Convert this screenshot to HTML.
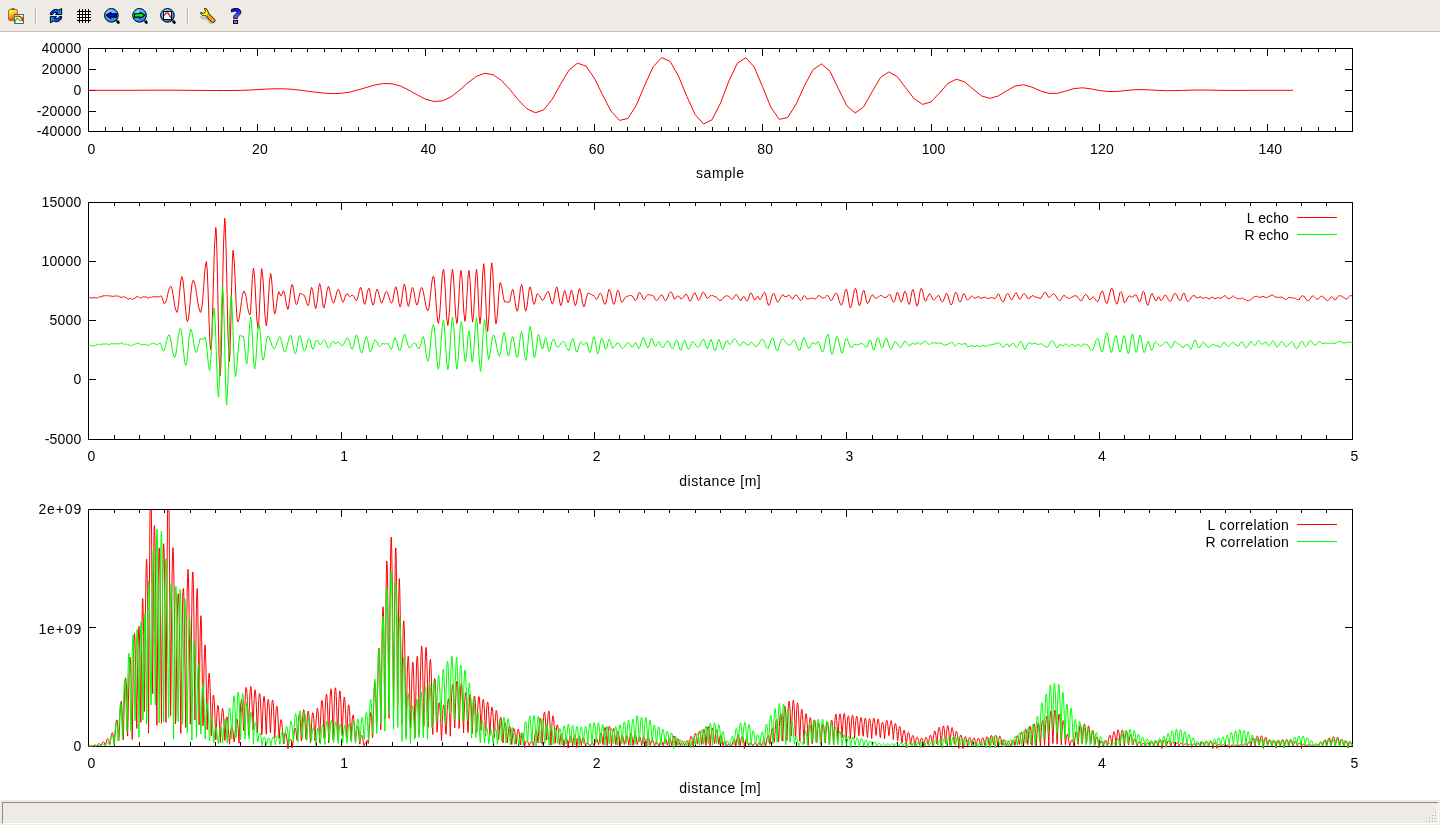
<!DOCTYPE html>
<html><head><meta charset="utf-8"><title>Gnuplot</title>
<style>
html,body{margin:0;padding:0;background:#fff;width:1440px;height:825px;overflow:hidden;font-family:"Liberation Sans",sans-serif;}
#tb{position:absolute;left:0;top:0;width:1440px;height:31px;background:#eeebe7;border-bottom:1px solid #c9bcb1;}
#tb svg{position:absolute;left:0;top:0;}
#sb{position:absolute;left:0;top:800px;width:1440px;height:25px;background:#eeebe7;}
#sbin{position:absolute;left:2px;top:2px;width:1437px;height:22px;border-top:1px solid #8f8b85;border-left:1px solid #8f8b85;border-bottom:1px solid #fff;border-right:1px solid #fff;box-sizing:border-box;}
#plot{position:absolute;left:0;top:0;will-change:transform;}
</style></head><body>
<div id="tb"><svg width="260" height="31" viewBox="0 0 260 31">
<defs>
<linearGradient id="gclip" x1="0" y1="0" x2="0.35" y2="1"><stop offset="0" stop-color="#ffff40"/><stop offset="0.35" stop-color="#ffe828"/><stop offset="1" stop-color="#d85000"/></linearGradient>
<radialGradient id="glens" cx="0.4" cy="0.3" r="0.75"><stop offset="0" stop-color="#9adcff"/><stop offset="0.55" stop-color="#3aa8ff"/><stop offset="1" stop-color="#1078e8"/></radialGradient>
<linearGradient id="gref" x1="0" y1="0" x2="1" y2="0"><stop offset="0" stop-color="#0028e0"/><stop offset="0.6" stop-color="#0060ff"/><stop offset="1" stop-color="#00a8ff"/></linearGradient>
<linearGradient id="gref2" x1="1" y1="0" x2="0" y2="0"><stop offset="0" stop-color="#0028e0"/><stop offset="0.6" stop-color="#0060ff"/><stop offset="1" stop-color="#00b0ff"/></linearGradient>
<linearGradient id="gq" x1="0" y1="0" x2="0" y2="1"><stop offset="0" stop-color="#0000ff"/><stop offset="0.5" stop-color="#3838ff"/><stop offset="1" stop-color="#7070ff"/></linearGradient>
</defs>
<!-- clipboard + plot -->
<g>
<rect x="8.6" y="9.4" width="8.8" height="11.2" rx="1.6" fill="url(#gclip)" stroke="#8a6418" stroke-width="0.9"/>
<rect x="11.3" y="8.0" width="3.4" height="2.2" rx="1" fill="#6e6e6e"/>
<rect x="14.5" y="14.5" width="9" height="9" fill="#fff" stroke="#555" stroke-width="0.9"/>
<path d="M15.3 22.6 C15.8 19.5 16.2 18.0 17.3 18.1 C18.5 18.2 19.2 20.8 20.6 20.7 C22.0 20.6 22.4 18.2 23.2 16.6" fill="none" stroke="#00e000" stroke-width="1.2"/>
<path d="M15.2 16.4 C17.5 16.0 19.5 15.9 20.6 17.0 C21.9 18.3 22.7 20.2 23.3 21.6" fill="none" stroke="#ff0000" stroke-width="1.2"/>
</g>
<!-- separator -->
<rect x="35" y="7" width="1" height="17" fill="#c4b5a8"/><rect x="36" y="7" width="1" height="17" fill="#fbfaf9"/>
<!-- refresh -->
<g stroke="#000" stroke-width="1" stroke-linejoin="round">
<path d="M50.2 14.6 C50.6 10.6 54.2 8.8 57.4 9.6 L58.6 10.1 L61.6 8.6 L61.7 14.6 L55.4 14.5 L57.6 12.7 C55.6 11.9 53.6 12.6 52.6 14.6 Z" fill="url(#gref)"/>
<path d="M61.8 16.6 C61.4 20.6 57.8 22.4 54.6 21.6 L53.4 21.1 L50.4 22.8 L50.3 16.6 L56.6 16.7 L54.4 18.5 C56.4 19.3 58.4 18.6 59.4 16.6 Z" fill="url(#gref2)"/>
</g>
<!-- grid -->
<g>
<rect x="79" y="11" width="10" height="10" fill="#fff"/>
<g fill="#000">
<rect x="79" y="9" width="1" height="14"/><rect x="82" y="9" width="1" height="14"/><rect x="85" y="9" width="1" height="14"/><rect x="88" y="9" width="1" height="14"/>
<rect x="77" y="11" width="14" height="1"/><rect x="77" y="14" width="14" height="1"/><rect x="77" y="17" width="14" height="1"/><rect x="77" y="20" width="14" height="1"/>
</g></g>
<!-- zoom previous -->
<g>
<path d="M117.0 21.0 L118.4 22.4" stroke="#000" stroke-width="2.8" stroke-linecap="round"/>
<circle cx="111.4" cy="15.35" r="7.9" fill="none" stroke="#fff" stroke-opacity="0.55" stroke-width="0.9"/>
<circle cx="111.4" cy="15.35" r="6.85" fill="url(#glens)" stroke="#000" stroke-width="1"/>
<path d="M106.3 15.3 L110.9 12.3 L110.9 13.7 L116.6 13.7 L116.6 17.1 L110.9 17.1 L110.9 18.4 Z" fill="#0000ff" stroke="#000" stroke-width="1.15" stroke-linejoin="round"/>
</g>
<!-- zoom next -->
<g>
<path d="M145.1 21.0 L146.4 22.4" stroke="#000" stroke-width="2.8" stroke-linecap="round"/>
<circle cx="139.5" cy="15.35" r="7.9" fill="none" stroke="#fff" stroke-opacity="0.55" stroke-width="0.9"/>
<circle cx="139.5" cy="15.35" r="6.85" fill="url(#glens)" stroke="#000" stroke-width="1"/>
<path d="M144.8 15.3 L140.0 12.3 L140.0 13.7 L134.5 13.7 L134.5 17.1 L140.0 17.1 L140.0 18.4 Z" fill="#00ff00" stroke="#000" stroke-width="1.15" stroke-linejoin="round"/>
</g>
<!-- autoscale -->
<g>
<path d="M173.0 21.0 L174.4 22.4" stroke="#000" stroke-width="2.8" stroke-linecap="round"/>
<circle cx="167.45" cy="15.35" r="7.9" fill="none" stroke="#fff" stroke-opacity="0.55" stroke-width="0.9"/>
<circle cx="167.45" cy="15.35" r="6.85" fill="url(#glens)" stroke="#000" stroke-width="1"/>
<rect x="163.5" y="11.5" width="8" height="8" fill="#fff" stroke="#000" stroke-width="1"/>
<path d="M164.1 15.5 C165.0 15.4 165.2 13.1 166.2 13.0 L168.0 13.0 C169.2 13.1 169.0 16.8 171.0 17.6" fill="none" stroke="#ff1010" stroke-width="1.4"/>
</g>
<!-- separator -->
<rect x="187" y="7" width="1" height="17" fill="#c4b5a8"/><rect x="188" y="7" width="1" height="17" fill="#fbfaf9"/>
<!-- wrench -->
<g>
<path d="M201.0 17.0 C202.5 18.6 204.6 18.6 206.2 18.0 L210.6 23.0" fill="none" stroke="#b8b0a0" stroke-width="2.6" stroke-linecap="round" opacity="0.75"/>
<path d="M204.4 8.5 C206.6 8.4 208.4 10.2 208.2 12.9 L214.6 19.4 C215.4 20.4 215.0 21.6 214.2 22.2 C213.4 22.8 212.2 22.8 211.5 22.0 L205.6 15.6 C203.4 16.2 201.2 15.2 200.6 12.6 L203.2 13.4 C204.6 13.2 205.6 12.0 205.4 10.4 Z" fill="#ffa000" stroke="#000" stroke-width="0.9" stroke-linejoin="round"/>
<path d="M204.8 9.2 C206.4 9.4 207.6 10.8 207.5 12.9 L208.0 13.6 L206.0 15.0 C203.9 15.6 202.0 14.9 201.4 13.4 L203.3 14.0 C205.0 13.8 206.2 12.2 206.0 10.5 Z" fill="#ffff10"/>
</g>
<!-- help -->
<g>
<path d="M231.4 12.0 L231.4 9.4 C233.0 8.7 234.6 8.4 236.2 8.4 C239.0 8.4 240.8 9.8 240.8 12.0 C240.8 13.6 240.0 14.6 238.6 15.7 C237.6 16.5 237.4 16.9 237.4 18.0 L237.4 18.6 L233.6 18.6 L233.6 17.6 C233.6 16.0 234.2 15.2 235.6 14.1 C236.6 13.3 236.9 12.9 236.9 12.2 C236.9 11.5 236.3 11.1 235.4 11.1 C234.2 11.1 232.8 11.5 231.4 12.0 Z" fill="url(#gq)" stroke="#000" stroke-width="0.9" stroke-linejoin="round"/>
<rect x="233.5" y="20.5" width="4.1" height="3" fill="#7878ff" stroke="#000" stroke-width="0.9"/>
</g>
</svg>
</div>
<svg id="plot" width="1440" height="825" viewBox="0 0 1440 825" font-family="'Liberation Sans', sans-serif" fill="#000">
<rect x="88.5" y="48.5" width="1264.0" height="83.0" fill="none" stroke="#000" stroke-width="1"/>
<line x1="257.50" y1="131.50" x2="257.50" y2="124.00" stroke="#000" stroke-width="1"/>
<line x1="257.50" y1="48.50" x2="257.50" y2="56.00" stroke="#000" stroke-width="1"/>
<line x1="425.50" y1="131.50" x2="425.50" y2="124.00" stroke="#000" stroke-width="1"/>
<line x1="425.50" y1="48.50" x2="425.50" y2="56.00" stroke="#000" stroke-width="1"/>
<line x1="594.50" y1="131.50" x2="594.50" y2="124.00" stroke="#000" stroke-width="1"/>
<line x1="594.50" y1="48.50" x2="594.50" y2="56.00" stroke="#000" stroke-width="1"/>
<line x1="762.50" y1="131.50" x2="762.50" y2="124.00" stroke="#000" stroke-width="1"/>
<line x1="762.50" y1="48.50" x2="762.50" y2="56.00" stroke="#000" stroke-width="1"/>
<line x1="931.50" y1="131.50" x2="931.50" y2="124.00" stroke="#000" stroke-width="1"/>
<line x1="931.50" y1="48.50" x2="931.50" y2="56.00" stroke="#000" stroke-width="1"/>
<line x1="1099.50" y1="131.50" x2="1099.50" y2="124.00" stroke="#000" stroke-width="1"/>
<line x1="1099.50" y1="48.50" x2="1099.50" y2="56.00" stroke="#000" stroke-width="1"/>
<line x1="1267.50" y1="131.50" x2="1267.50" y2="124.00" stroke="#000" stroke-width="1"/>
<line x1="1267.50" y1="48.50" x2="1267.50" y2="56.00" stroke="#000" stroke-width="1"/>
<line x1="105.50" y1="131.50" x2="105.50" y2="127.00" stroke="#000" stroke-width="1"/>
<line x1="105.50" y1="48.50" x2="105.50" y2="52.00" stroke="#000" stroke-width="1"/>
<line x1="122.50" y1="131.50" x2="122.50" y2="127.00" stroke="#000" stroke-width="1"/>
<line x1="122.50" y1="48.50" x2="122.50" y2="52.00" stroke="#000" stroke-width="1"/>
<line x1="139.50" y1="131.50" x2="139.50" y2="127.00" stroke="#000" stroke-width="1"/>
<line x1="139.50" y1="48.50" x2="139.50" y2="52.00" stroke="#000" stroke-width="1"/>
<line x1="156.50" y1="131.50" x2="156.50" y2="127.00" stroke="#000" stroke-width="1"/>
<line x1="156.50" y1="48.50" x2="156.50" y2="52.00" stroke="#000" stroke-width="1"/>
<line x1="173.50" y1="131.50" x2="173.50" y2="127.00" stroke="#000" stroke-width="1"/>
<line x1="173.50" y1="48.50" x2="173.50" y2="52.00" stroke="#000" stroke-width="1"/>
<line x1="190.50" y1="131.50" x2="190.50" y2="127.00" stroke="#000" stroke-width="1"/>
<line x1="190.50" y1="48.50" x2="190.50" y2="52.00" stroke="#000" stroke-width="1"/>
<line x1="206.50" y1="131.50" x2="206.50" y2="127.00" stroke="#000" stroke-width="1"/>
<line x1="206.50" y1="48.50" x2="206.50" y2="52.00" stroke="#000" stroke-width="1"/>
<line x1="223.50" y1="131.50" x2="223.50" y2="127.00" stroke="#000" stroke-width="1"/>
<line x1="223.50" y1="48.50" x2="223.50" y2="52.00" stroke="#000" stroke-width="1"/>
<line x1="240.50" y1="131.50" x2="240.50" y2="127.00" stroke="#000" stroke-width="1"/>
<line x1="240.50" y1="48.50" x2="240.50" y2="52.00" stroke="#000" stroke-width="1"/>
<line x1="274.50" y1="131.50" x2="274.50" y2="127.00" stroke="#000" stroke-width="1"/>
<line x1="274.50" y1="48.50" x2="274.50" y2="52.00" stroke="#000" stroke-width="1"/>
<line x1="291.50" y1="131.50" x2="291.50" y2="127.00" stroke="#000" stroke-width="1"/>
<line x1="291.50" y1="48.50" x2="291.50" y2="52.00" stroke="#000" stroke-width="1"/>
<line x1="307.50" y1="131.50" x2="307.50" y2="127.00" stroke="#000" stroke-width="1"/>
<line x1="307.50" y1="48.50" x2="307.50" y2="52.00" stroke="#000" stroke-width="1"/>
<line x1="324.50" y1="131.50" x2="324.50" y2="127.00" stroke="#000" stroke-width="1"/>
<line x1="324.50" y1="48.50" x2="324.50" y2="52.00" stroke="#000" stroke-width="1"/>
<line x1="341.50" y1="131.50" x2="341.50" y2="127.00" stroke="#000" stroke-width="1"/>
<line x1="341.50" y1="48.50" x2="341.50" y2="52.00" stroke="#000" stroke-width="1"/>
<line x1="358.50" y1="131.50" x2="358.50" y2="127.00" stroke="#000" stroke-width="1"/>
<line x1="358.50" y1="48.50" x2="358.50" y2="52.00" stroke="#000" stroke-width="1"/>
<line x1="375.50" y1="131.50" x2="375.50" y2="127.00" stroke="#000" stroke-width="1"/>
<line x1="375.50" y1="48.50" x2="375.50" y2="52.00" stroke="#000" stroke-width="1"/>
<line x1="392.50" y1="131.50" x2="392.50" y2="127.00" stroke="#000" stroke-width="1"/>
<line x1="392.50" y1="48.50" x2="392.50" y2="52.00" stroke="#000" stroke-width="1"/>
<line x1="408.50" y1="131.50" x2="408.50" y2="127.00" stroke="#000" stroke-width="1"/>
<line x1="408.50" y1="48.50" x2="408.50" y2="52.00" stroke="#000" stroke-width="1"/>
<line x1="442.50" y1="131.50" x2="442.50" y2="127.00" stroke="#000" stroke-width="1"/>
<line x1="442.50" y1="48.50" x2="442.50" y2="52.00" stroke="#000" stroke-width="1"/>
<line x1="459.50" y1="131.50" x2="459.50" y2="127.00" stroke="#000" stroke-width="1"/>
<line x1="459.50" y1="48.50" x2="459.50" y2="52.00" stroke="#000" stroke-width="1"/>
<line x1="476.50" y1="131.50" x2="476.50" y2="127.00" stroke="#000" stroke-width="1"/>
<line x1="476.50" y1="48.50" x2="476.50" y2="52.00" stroke="#000" stroke-width="1"/>
<line x1="493.50" y1="131.50" x2="493.50" y2="127.00" stroke="#000" stroke-width="1"/>
<line x1="493.50" y1="48.50" x2="493.50" y2="52.00" stroke="#000" stroke-width="1"/>
<line x1="510.50" y1="131.50" x2="510.50" y2="127.00" stroke="#000" stroke-width="1"/>
<line x1="510.50" y1="48.50" x2="510.50" y2="52.00" stroke="#000" stroke-width="1"/>
<line x1="526.50" y1="131.50" x2="526.50" y2="127.00" stroke="#000" stroke-width="1"/>
<line x1="526.50" y1="48.50" x2="526.50" y2="52.00" stroke="#000" stroke-width="1"/>
<line x1="543.50" y1="131.50" x2="543.50" y2="127.00" stroke="#000" stroke-width="1"/>
<line x1="543.50" y1="48.50" x2="543.50" y2="52.00" stroke="#000" stroke-width="1"/>
<line x1="560.50" y1="131.50" x2="560.50" y2="127.00" stroke="#000" stroke-width="1"/>
<line x1="560.50" y1="48.50" x2="560.50" y2="52.00" stroke="#000" stroke-width="1"/>
<line x1="577.50" y1="131.50" x2="577.50" y2="127.00" stroke="#000" stroke-width="1"/>
<line x1="577.50" y1="48.50" x2="577.50" y2="52.00" stroke="#000" stroke-width="1"/>
<line x1="611.50" y1="131.50" x2="611.50" y2="127.00" stroke="#000" stroke-width="1"/>
<line x1="611.50" y1="48.50" x2="611.50" y2="52.00" stroke="#000" stroke-width="1"/>
<line x1="627.50" y1="131.50" x2="627.50" y2="127.00" stroke="#000" stroke-width="1"/>
<line x1="627.50" y1="48.50" x2="627.50" y2="52.00" stroke="#000" stroke-width="1"/>
<line x1="644.50" y1="131.50" x2="644.50" y2="127.00" stroke="#000" stroke-width="1"/>
<line x1="644.50" y1="48.50" x2="644.50" y2="52.00" stroke="#000" stroke-width="1"/>
<line x1="661.50" y1="131.50" x2="661.50" y2="127.00" stroke="#000" stroke-width="1"/>
<line x1="661.50" y1="48.50" x2="661.50" y2="52.00" stroke="#000" stroke-width="1"/>
<line x1="678.50" y1="131.50" x2="678.50" y2="127.00" stroke="#000" stroke-width="1"/>
<line x1="678.50" y1="48.50" x2="678.50" y2="52.00" stroke="#000" stroke-width="1"/>
<line x1="695.50" y1="131.50" x2="695.50" y2="127.00" stroke="#000" stroke-width="1"/>
<line x1="695.50" y1="48.50" x2="695.50" y2="52.00" stroke="#000" stroke-width="1"/>
<line x1="712.50" y1="131.50" x2="712.50" y2="127.00" stroke="#000" stroke-width="1"/>
<line x1="712.50" y1="48.50" x2="712.50" y2="52.00" stroke="#000" stroke-width="1"/>
<line x1="728.50" y1="131.50" x2="728.50" y2="127.00" stroke="#000" stroke-width="1"/>
<line x1="728.50" y1="48.50" x2="728.50" y2="52.00" stroke="#000" stroke-width="1"/>
<line x1="745.50" y1="131.50" x2="745.50" y2="127.00" stroke="#000" stroke-width="1"/>
<line x1="745.50" y1="48.50" x2="745.50" y2="52.00" stroke="#000" stroke-width="1"/>
<line x1="779.50" y1="131.50" x2="779.50" y2="127.00" stroke="#000" stroke-width="1"/>
<line x1="779.50" y1="48.50" x2="779.50" y2="52.00" stroke="#000" stroke-width="1"/>
<line x1="796.50" y1="131.50" x2="796.50" y2="127.00" stroke="#000" stroke-width="1"/>
<line x1="796.50" y1="48.50" x2="796.50" y2="52.00" stroke="#000" stroke-width="1"/>
<line x1="813.50" y1="131.50" x2="813.50" y2="127.00" stroke="#000" stroke-width="1"/>
<line x1="813.50" y1="48.50" x2="813.50" y2="52.00" stroke="#000" stroke-width="1"/>
<line x1="829.50" y1="131.50" x2="829.50" y2="127.00" stroke="#000" stroke-width="1"/>
<line x1="829.50" y1="48.50" x2="829.50" y2="52.00" stroke="#000" stroke-width="1"/>
<line x1="846.50" y1="131.50" x2="846.50" y2="127.00" stroke="#000" stroke-width="1"/>
<line x1="846.50" y1="48.50" x2="846.50" y2="52.00" stroke="#000" stroke-width="1"/>
<line x1="863.50" y1="131.50" x2="863.50" y2="127.00" stroke="#000" stroke-width="1"/>
<line x1="863.50" y1="48.50" x2="863.50" y2="52.00" stroke="#000" stroke-width="1"/>
<line x1="880.50" y1="131.50" x2="880.50" y2="127.00" stroke="#000" stroke-width="1"/>
<line x1="880.50" y1="48.50" x2="880.50" y2="52.00" stroke="#000" stroke-width="1"/>
<line x1="897.50" y1="131.50" x2="897.50" y2="127.00" stroke="#000" stroke-width="1"/>
<line x1="897.50" y1="48.50" x2="897.50" y2="52.00" stroke="#000" stroke-width="1"/>
<line x1="914.50" y1="131.50" x2="914.50" y2="127.00" stroke="#000" stroke-width="1"/>
<line x1="914.50" y1="48.50" x2="914.50" y2="52.00" stroke="#000" stroke-width="1"/>
<line x1="947.50" y1="131.50" x2="947.50" y2="127.00" stroke="#000" stroke-width="1"/>
<line x1="947.50" y1="48.50" x2="947.50" y2="52.00" stroke="#000" stroke-width="1"/>
<line x1="964.50" y1="131.50" x2="964.50" y2="127.00" stroke="#000" stroke-width="1"/>
<line x1="964.50" y1="48.50" x2="964.50" y2="52.00" stroke="#000" stroke-width="1"/>
<line x1="981.50" y1="131.50" x2="981.50" y2="127.00" stroke="#000" stroke-width="1"/>
<line x1="981.50" y1="48.50" x2="981.50" y2="52.00" stroke="#000" stroke-width="1"/>
<line x1="998.50" y1="131.50" x2="998.50" y2="127.00" stroke="#000" stroke-width="1"/>
<line x1="998.50" y1="48.50" x2="998.50" y2="52.00" stroke="#000" stroke-width="1"/>
<line x1="1015.50" y1="131.50" x2="1015.50" y2="127.00" stroke="#000" stroke-width="1"/>
<line x1="1015.50" y1="48.50" x2="1015.50" y2="52.00" stroke="#000" stroke-width="1"/>
<line x1="1032.50" y1="131.50" x2="1032.50" y2="127.00" stroke="#000" stroke-width="1"/>
<line x1="1032.50" y1="48.50" x2="1032.50" y2="52.00" stroke="#000" stroke-width="1"/>
<line x1="1048.50" y1="131.50" x2="1048.50" y2="127.00" stroke="#000" stroke-width="1"/>
<line x1="1048.50" y1="48.50" x2="1048.50" y2="52.00" stroke="#000" stroke-width="1"/>
<line x1="1065.50" y1="131.50" x2="1065.50" y2="127.00" stroke="#000" stroke-width="1"/>
<line x1="1065.50" y1="48.50" x2="1065.50" y2="52.00" stroke="#000" stroke-width="1"/>
<line x1="1082.50" y1="131.50" x2="1082.50" y2="127.00" stroke="#000" stroke-width="1"/>
<line x1="1082.50" y1="48.50" x2="1082.50" y2="52.00" stroke="#000" stroke-width="1"/>
<line x1="1116.50" y1="131.50" x2="1116.50" y2="127.00" stroke="#000" stroke-width="1"/>
<line x1="1116.50" y1="48.50" x2="1116.50" y2="52.00" stroke="#000" stroke-width="1"/>
<line x1="1133.50" y1="131.50" x2="1133.50" y2="127.00" stroke="#000" stroke-width="1"/>
<line x1="1133.50" y1="48.50" x2="1133.50" y2="52.00" stroke="#000" stroke-width="1"/>
<line x1="1149.50" y1="131.50" x2="1149.50" y2="127.00" stroke="#000" stroke-width="1"/>
<line x1="1149.50" y1="48.50" x2="1149.50" y2="52.00" stroke="#000" stroke-width="1"/>
<line x1="1166.50" y1="131.50" x2="1166.50" y2="127.00" stroke="#000" stroke-width="1"/>
<line x1="1166.50" y1="48.50" x2="1166.50" y2="52.00" stroke="#000" stroke-width="1"/>
<line x1="1183.50" y1="131.50" x2="1183.50" y2="127.00" stroke="#000" stroke-width="1"/>
<line x1="1183.50" y1="48.50" x2="1183.50" y2="52.00" stroke="#000" stroke-width="1"/>
<line x1="1200.50" y1="131.50" x2="1200.50" y2="127.00" stroke="#000" stroke-width="1"/>
<line x1="1200.50" y1="48.50" x2="1200.50" y2="52.00" stroke="#000" stroke-width="1"/>
<line x1="1217.50" y1="131.50" x2="1217.50" y2="127.00" stroke="#000" stroke-width="1"/>
<line x1="1217.50" y1="48.50" x2="1217.50" y2="52.00" stroke="#000" stroke-width="1"/>
<line x1="1234.50" y1="131.50" x2="1234.50" y2="127.00" stroke="#000" stroke-width="1"/>
<line x1="1234.50" y1="48.50" x2="1234.50" y2="52.00" stroke="#000" stroke-width="1"/>
<line x1="1250.50" y1="131.50" x2="1250.50" y2="127.00" stroke="#000" stroke-width="1"/>
<line x1="1250.50" y1="48.50" x2="1250.50" y2="52.00" stroke="#000" stroke-width="1"/>
<line x1="1284.50" y1="131.50" x2="1284.50" y2="127.00" stroke="#000" stroke-width="1"/>
<line x1="1284.50" y1="48.50" x2="1284.50" y2="52.00" stroke="#000" stroke-width="1"/>
<line x1="1301.50" y1="131.50" x2="1301.50" y2="127.00" stroke="#000" stroke-width="1"/>
<line x1="1301.50" y1="48.50" x2="1301.50" y2="52.00" stroke="#000" stroke-width="1"/>
<line x1="1318.50" y1="131.50" x2="1318.50" y2="127.00" stroke="#000" stroke-width="1"/>
<line x1="1318.50" y1="48.50" x2="1318.50" y2="52.00" stroke="#000" stroke-width="1"/>
<line x1="1335.50" y1="131.50" x2="1335.50" y2="127.00" stroke="#000" stroke-width="1"/>
<line x1="1335.50" y1="48.50" x2="1335.50" y2="52.00" stroke="#000" stroke-width="1"/>
<line x1="1352.50" y1="131.50" x2="1352.50" y2="127.00" stroke="#000" stroke-width="1"/>
<line x1="1352.50" y1="48.50" x2="1352.50" y2="52.00" stroke="#000" stroke-width="1"/>
<line x1="88.50" y1="69.50" x2="96.00" y2="69.50" stroke="#000" stroke-width="1"/>
<line x1="1352.50" y1="69.50" x2="1345.00" y2="69.50" stroke="#000" stroke-width="1"/>
<line x1="88.50" y1="90.50" x2="96.00" y2="90.50" stroke="#000" stroke-width="1"/>
<line x1="1352.50" y1="90.50" x2="1345.00" y2="90.50" stroke="#000" stroke-width="1"/>
<line x1="88.50" y1="111.50" x2="96.00" y2="111.50" stroke="#000" stroke-width="1"/>
<line x1="1352.50" y1="111.50" x2="1345.00" y2="111.50" stroke="#000" stroke-width="1"/>
<text x="91.58" y="154.40" text-anchor="middle" font-size="14" letter-spacing="0.15">0</text>
<text x="259.97" y="154.40" text-anchor="middle" font-size="14" letter-spacing="0.15">20</text>
<text x="428.38" y="154.40" text-anchor="middle" font-size="14" letter-spacing="0.15">40</text>
<text x="596.78" y="154.40" text-anchor="middle" font-size="14" letter-spacing="0.15">60</text>
<text x="765.18" y="154.40" text-anchor="middle" font-size="14" letter-spacing="0.15">80</text>
<text x="933.58" y="154.40" text-anchor="middle" font-size="14" letter-spacing="0.15">100</text>
<text x="1101.98" y="154.40" text-anchor="middle" font-size="14" letter-spacing="0.15">120</text>
<text x="1270.38" y="154.40" text-anchor="middle" font-size="14" letter-spacing="0.15">140</text>
<text x="81.50" y="53.10" text-anchor="end" font-size="14" letter-spacing="0.20">40000</text>
<text x="81.50" y="74.10" text-anchor="end" font-size="14" letter-spacing="0.20">20000</text>
<text x="81.50" y="95.10" text-anchor="end" font-size="14" letter-spacing="0.20">0</text>
<text x="81.50" y="116.10" text-anchor="end" font-size="14" letter-spacing="0.20">-20000</text>
<text x="81.50" y="136.10" text-anchor="end" font-size="14" letter-spacing="0.20">-40000</text>
<text x="720.27" y="178.10" text-anchor="middle" font-size="14" letter-spacing="0.55">sample</text>
<rect x="88.5" y="202.5" width="1264.0" height="237.0" fill="none" stroke="#000" stroke-width="1"/>
<line x1="341.50" y1="439.50" x2="341.50" y2="432.00" stroke="#000" stroke-width="1"/>
<line x1="341.50" y1="202.50" x2="341.50" y2="210.00" stroke="#000" stroke-width="1"/>
<line x1="594.50" y1="439.50" x2="594.50" y2="432.00" stroke="#000" stroke-width="1"/>
<line x1="594.50" y1="202.50" x2="594.50" y2="210.00" stroke="#000" stroke-width="1"/>
<line x1="846.50" y1="439.50" x2="846.50" y2="432.00" stroke="#000" stroke-width="1"/>
<line x1="846.50" y1="202.50" x2="846.50" y2="210.00" stroke="#000" stroke-width="1"/>
<line x1="1099.50" y1="439.50" x2="1099.50" y2="432.00" stroke="#000" stroke-width="1"/>
<line x1="1099.50" y1="202.50" x2="1099.50" y2="210.00" stroke="#000" stroke-width="1"/>
<line x1="114.50" y1="439.50" x2="114.50" y2="435.00" stroke="#000" stroke-width="1"/>
<line x1="114.50" y1="202.50" x2="114.50" y2="206.00" stroke="#000" stroke-width="1"/>
<line x1="139.50" y1="439.50" x2="139.50" y2="435.00" stroke="#000" stroke-width="1"/>
<line x1="139.50" y1="202.50" x2="139.50" y2="206.00" stroke="#000" stroke-width="1"/>
<line x1="164.50" y1="439.50" x2="164.50" y2="435.00" stroke="#000" stroke-width="1"/>
<line x1="164.50" y1="202.50" x2="164.50" y2="206.00" stroke="#000" stroke-width="1"/>
<line x1="190.50" y1="439.50" x2="190.50" y2="435.00" stroke="#000" stroke-width="1"/>
<line x1="190.50" y1="202.50" x2="190.50" y2="206.00" stroke="#000" stroke-width="1"/>
<line x1="215.50" y1="439.50" x2="215.50" y2="435.00" stroke="#000" stroke-width="1"/>
<line x1="215.50" y1="202.50" x2="215.50" y2="206.00" stroke="#000" stroke-width="1"/>
<line x1="240.50" y1="439.50" x2="240.50" y2="435.00" stroke="#000" stroke-width="1"/>
<line x1="240.50" y1="202.50" x2="240.50" y2="206.00" stroke="#000" stroke-width="1"/>
<line x1="265.50" y1="439.50" x2="265.50" y2="435.00" stroke="#000" stroke-width="1"/>
<line x1="265.50" y1="202.50" x2="265.50" y2="206.00" stroke="#000" stroke-width="1"/>
<line x1="291.50" y1="439.50" x2="291.50" y2="435.00" stroke="#000" stroke-width="1"/>
<line x1="291.50" y1="202.50" x2="291.50" y2="206.00" stroke="#000" stroke-width="1"/>
<line x1="316.50" y1="439.50" x2="316.50" y2="435.00" stroke="#000" stroke-width="1"/>
<line x1="316.50" y1="202.50" x2="316.50" y2="206.00" stroke="#000" stroke-width="1"/>
<line x1="366.50" y1="439.50" x2="366.50" y2="435.00" stroke="#000" stroke-width="1"/>
<line x1="366.50" y1="202.50" x2="366.50" y2="206.00" stroke="#000" stroke-width="1"/>
<line x1="392.50" y1="439.50" x2="392.50" y2="435.00" stroke="#000" stroke-width="1"/>
<line x1="392.50" y1="202.50" x2="392.50" y2="206.00" stroke="#000" stroke-width="1"/>
<line x1="417.50" y1="439.50" x2="417.50" y2="435.00" stroke="#000" stroke-width="1"/>
<line x1="417.50" y1="202.50" x2="417.50" y2="206.00" stroke="#000" stroke-width="1"/>
<line x1="442.50" y1="439.50" x2="442.50" y2="435.00" stroke="#000" stroke-width="1"/>
<line x1="442.50" y1="202.50" x2="442.50" y2="206.00" stroke="#000" stroke-width="1"/>
<line x1="467.50" y1="439.50" x2="467.50" y2="435.00" stroke="#000" stroke-width="1"/>
<line x1="467.50" y1="202.50" x2="467.50" y2="206.00" stroke="#000" stroke-width="1"/>
<line x1="493.50" y1="439.50" x2="493.50" y2="435.00" stroke="#000" stroke-width="1"/>
<line x1="493.50" y1="202.50" x2="493.50" y2="206.00" stroke="#000" stroke-width="1"/>
<line x1="518.50" y1="439.50" x2="518.50" y2="435.00" stroke="#000" stroke-width="1"/>
<line x1="518.50" y1="202.50" x2="518.50" y2="206.00" stroke="#000" stroke-width="1"/>
<line x1="543.50" y1="439.50" x2="543.50" y2="435.00" stroke="#000" stroke-width="1"/>
<line x1="543.50" y1="202.50" x2="543.50" y2="206.00" stroke="#000" stroke-width="1"/>
<line x1="568.50" y1="439.50" x2="568.50" y2="435.00" stroke="#000" stroke-width="1"/>
<line x1="568.50" y1="202.50" x2="568.50" y2="206.00" stroke="#000" stroke-width="1"/>
<line x1="619.50" y1="439.50" x2="619.50" y2="435.00" stroke="#000" stroke-width="1"/>
<line x1="619.50" y1="202.50" x2="619.50" y2="206.00" stroke="#000" stroke-width="1"/>
<line x1="644.50" y1="439.50" x2="644.50" y2="435.00" stroke="#000" stroke-width="1"/>
<line x1="644.50" y1="202.50" x2="644.50" y2="206.00" stroke="#000" stroke-width="1"/>
<line x1="669.50" y1="439.50" x2="669.50" y2="435.00" stroke="#000" stroke-width="1"/>
<line x1="669.50" y1="202.50" x2="669.50" y2="206.00" stroke="#000" stroke-width="1"/>
<line x1="695.50" y1="439.50" x2="695.50" y2="435.00" stroke="#000" stroke-width="1"/>
<line x1="695.50" y1="202.50" x2="695.50" y2="206.00" stroke="#000" stroke-width="1"/>
<line x1="720.50" y1="439.50" x2="720.50" y2="435.00" stroke="#000" stroke-width="1"/>
<line x1="720.50" y1="202.50" x2="720.50" y2="206.00" stroke="#000" stroke-width="1"/>
<line x1="745.50" y1="439.50" x2="745.50" y2="435.00" stroke="#000" stroke-width="1"/>
<line x1="745.50" y1="202.50" x2="745.50" y2="206.00" stroke="#000" stroke-width="1"/>
<line x1="771.50" y1="439.50" x2="771.50" y2="435.00" stroke="#000" stroke-width="1"/>
<line x1="771.50" y1="202.50" x2="771.50" y2="206.00" stroke="#000" stroke-width="1"/>
<line x1="796.50" y1="439.50" x2="796.50" y2="435.00" stroke="#000" stroke-width="1"/>
<line x1="796.50" y1="202.50" x2="796.50" y2="206.00" stroke="#000" stroke-width="1"/>
<line x1="821.50" y1="439.50" x2="821.50" y2="435.00" stroke="#000" stroke-width="1"/>
<line x1="821.50" y1="202.50" x2="821.50" y2="206.00" stroke="#000" stroke-width="1"/>
<line x1="872.50" y1="439.50" x2="872.50" y2="435.00" stroke="#000" stroke-width="1"/>
<line x1="872.50" y1="202.50" x2="872.50" y2="206.00" stroke="#000" stroke-width="1"/>
<line x1="897.50" y1="439.50" x2="897.50" y2="435.00" stroke="#000" stroke-width="1"/>
<line x1="897.50" y1="202.50" x2="897.50" y2="206.00" stroke="#000" stroke-width="1"/>
<line x1="922.50" y1="439.50" x2="922.50" y2="435.00" stroke="#000" stroke-width="1"/>
<line x1="922.50" y1="202.50" x2="922.50" y2="206.00" stroke="#000" stroke-width="1"/>
<line x1="947.50" y1="439.50" x2="947.50" y2="435.00" stroke="#000" stroke-width="1"/>
<line x1="947.50" y1="202.50" x2="947.50" y2="206.00" stroke="#000" stroke-width="1"/>
<line x1="973.50" y1="439.50" x2="973.50" y2="435.00" stroke="#000" stroke-width="1"/>
<line x1="973.50" y1="202.50" x2="973.50" y2="206.00" stroke="#000" stroke-width="1"/>
<line x1="998.50" y1="439.50" x2="998.50" y2="435.00" stroke="#000" stroke-width="1"/>
<line x1="998.50" y1="202.50" x2="998.50" y2="206.00" stroke="#000" stroke-width="1"/>
<line x1="1023.50" y1="439.50" x2="1023.50" y2="435.00" stroke="#000" stroke-width="1"/>
<line x1="1023.50" y1="202.50" x2="1023.50" y2="206.00" stroke="#000" stroke-width="1"/>
<line x1="1048.50" y1="439.50" x2="1048.50" y2="435.00" stroke="#000" stroke-width="1"/>
<line x1="1048.50" y1="202.50" x2="1048.50" y2="206.00" stroke="#000" stroke-width="1"/>
<line x1="1074.50" y1="439.50" x2="1074.50" y2="435.00" stroke="#000" stroke-width="1"/>
<line x1="1074.50" y1="202.50" x2="1074.50" y2="206.00" stroke="#000" stroke-width="1"/>
<line x1="1124.50" y1="439.50" x2="1124.50" y2="435.00" stroke="#000" stroke-width="1"/>
<line x1="1124.50" y1="202.50" x2="1124.50" y2="206.00" stroke="#000" stroke-width="1"/>
<line x1="1149.50" y1="439.50" x2="1149.50" y2="435.00" stroke="#000" stroke-width="1"/>
<line x1="1149.50" y1="202.50" x2="1149.50" y2="206.00" stroke="#000" stroke-width="1"/>
<line x1="1175.50" y1="439.50" x2="1175.50" y2="435.00" stroke="#000" stroke-width="1"/>
<line x1="1175.50" y1="202.50" x2="1175.50" y2="206.00" stroke="#000" stroke-width="1"/>
<line x1="1200.50" y1="439.50" x2="1200.50" y2="435.00" stroke="#000" stroke-width="1"/>
<line x1="1200.50" y1="202.50" x2="1200.50" y2="206.00" stroke="#000" stroke-width="1"/>
<line x1="1225.50" y1="439.50" x2="1225.50" y2="435.00" stroke="#000" stroke-width="1"/>
<line x1="1225.50" y1="202.50" x2="1225.50" y2="206.00" stroke="#000" stroke-width="1"/>
<line x1="1250.50" y1="439.50" x2="1250.50" y2="435.00" stroke="#000" stroke-width="1"/>
<line x1="1250.50" y1="202.50" x2="1250.50" y2="206.00" stroke="#000" stroke-width="1"/>
<line x1="1276.50" y1="439.50" x2="1276.50" y2="435.00" stroke="#000" stroke-width="1"/>
<line x1="1276.50" y1="202.50" x2="1276.50" y2="206.00" stroke="#000" stroke-width="1"/>
<line x1="1301.50" y1="439.50" x2="1301.50" y2="435.00" stroke="#000" stroke-width="1"/>
<line x1="1301.50" y1="202.50" x2="1301.50" y2="206.00" stroke="#000" stroke-width="1"/>
<line x1="1326.50" y1="439.50" x2="1326.50" y2="435.00" stroke="#000" stroke-width="1"/>
<line x1="1326.50" y1="202.50" x2="1326.50" y2="206.00" stroke="#000" stroke-width="1"/>
<line x1="88.50" y1="261.50" x2="96.00" y2="261.50" stroke="#000" stroke-width="1"/>
<line x1="1352.50" y1="261.50" x2="1345.00" y2="261.50" stroke="#000" stroke-width="1"/>
<line x1="88.50" y1="320.50" x2="96.00" y2="320.50" stroke="#000" stroke-width="1"/>
<line x1="1352.50" y1="320.50" x2="1345.00" y2="320.50" stroke="#000" stroke-width="1"/>
<line x1="88.50" y1="379.50" x2="96.00" y2="379.50" stroke="#000" stroke-width="1"/>
<line x1="1352.50" y1="379.50" x2="1345.00" y2="379.50" stroke="#000" stroke-width="1"/>
<text x="91.58" y="460.90" text-anchor="middle" font-size="14" letter-spacing="0.15">0</text>
<text x="344.18" y="460.90" text-anchor="middle" font-size="14" letter-spacing="0.15">1</text>
<text x="596.78" y="460.90" text-anchor="middle" font-size="14" letter-spacing="0.15">2</text>
<text x="849.38" y="460.90" text-anchor="middle" font-size="14" letter-spacing="0.15">3</text>
<text x="1101.98" y="460.90" text-anchor="middle" font-size="14" letter-spacing="0.15">4</text>
<text x="1354.58" y="460.90" text-anchor="middle" font-size="14" letter-spacing="0.15">5</text>
<text x="81.50" y="207.10" text-anchor="end" font-size="14" letter-spacing="0.20">15000</text>
<text x="81.50" y="266.10" text-anchor="end" font-size="14" letter-spacing="0.20">10000</text>
<text x="81.50" y="325.10" text-anchor="end" font-size="14" letter-spacing="0.20">5000</text>
<text x="81.50" y="384.10" text-anchor="end" font-size="14" letter-spacing="0.20">0</text>
<text x="81.50" y="444.10" text-anchor="end" font-size="14" letter-spacing="0.20">-5000</text>
<text x="720.27" y="485.80" text-anchor="middle" font-size="14" letter-spacing="0.55">distance [m]</text>
<rect x="88.5" y="509.5" width="1264.0" height="237.0" fill="none" stroke="#000" stroke-width="1"/>
<line x1="341.50" y1="746.50" x2="341.50" y2="739.00" stroke="#000" stroke-width="1"/>
<line x1="341.50" y1="509.50" x2="341.50" y2="517.00" stroke="#000" stroke-width="1"/>
<line x1="594.50" y1="746.50" x2="594.50" y2="739.00" stroke="#000" stroke-width="1"/>
<line x1="594.50" y1="509.50" x2="594.50" y2="517.00" stroke="#000" stroke-width="1"/>
<line x1="846.50" y1="746.50" x2="846.50" y2="739.00" stroke="#000" stroke-width="1"/>
<line x1="846.50" y1="509.50" x2="846.50" y2="517.00" stroke="#000" stroke-width="1"/>
<line x1="1099.50" y1="746.50" x2="1099.50" y2="739.00" stroke="#000" stroke-width="1"/>
<line x1="1099.50" y1="509.50" x2="1099.50" y2="517.00" stroke="#000" stroke-width="1"/>
<line x1="114.50" y1="746.50" x2="114.50" y2="742.00" stroke="#000" stroke-width="1"/>
<line x1="114.50" y1="509.50" x2="114.50" y2="513.00" stroke="#000" stroke-width="1"/>
<line x1="139.50" y1="746.50" x2="139.50" y2="742.00" stroke="#000" stroke-width="1"/>
<line x1="139.50" y1="509.50" x2="139.50" y2="513.00" stroke="#000" stroke-width="1"/>
<line x1="164.50" y1="746.50" x2="164.50" y2="742.00" stroke="#000" stroke-width="1"/>
<line x1="164.50" y1="509.50" x2="164.50" y2="513.00" stroke="#000" stroke-width="1"/>
<line x1="190.50" y1="746.50" x2="190.50" y2="742.00" stroke="#000" stroke-width="1"/>
<line x1="190.50" y1="509.50" x2="190.50" y2="513.00" stroke="#000" stroke-width="1"/>
<line x1="215.50" y1="746.50" x2="215.50" y2="742.00" stroke="#000" stroke-width="1"/>
<line x1="215.50" y1="509.50" x2="215.50" y2="513.00" stroke="#000" stroke-width="1"/>
<line x1="240.50" y1="746.50" x2="240.50" y2="742.00" stroke="#000" stroke-width="1"/>
<line x1="240.50" y1="509.50" x2="240.50" y2="513.00" stroke="#000" stroke-width="1"/>
<line x1="265.50" y1="746.50" x2="265.50" y2="742.00" stroke="#000" stroke-width="1"/>
<line x1="265.50" y1="509.50" x2="265.50" y2="513.00" stroke="#000" stroke-width="1"/>
<line x1="291.50" y1="746.50" x2="291.50" y2="742.00" stroke="#000" stroke-width="1"/>
<line x1="291.50" y1="509.50" x2="291.50" y2="513.00" stroke="#000" stroke-width="1"/>
<line x1="316.50" y1="746.50" x2="316.50" y2="742.00" stroke="#000" stroke-width="1"/>
<line x1="316.50" y1="509.50" x2="316.50" y2="513.00" stroke="#000" stroke-width="1"/>
<line x1="366.50" y1="746.50" x2="366.50" y2="742.00" stroke="#000" stroke-width="1"/>
<line x1="366.50" y1="509.50" x2="366.50" y2="513.00" stroke="#000" stroke-width="1"/>
<line x1="392.50" y1="746.50" x2="392.50" y2="742.00" stroke="#000" stroke-width="1"/>
<line x1="392.50" y1="509.50" x2="392.50" y2="513.00" stroke="#000" stroke-width="1"/>
<line x1="417.50" y1="746.50" x2="417.50" y2="742.00" stroke="#000" stroke-width="1"/>
<line x1="417.50" y1="509.50" x2="417.50" y2="513.00" stroke="#000" stroke-width="1"/>
<line x1="442.50" y1="746.50" x2="442.50" y2="742.00" stroke="#000" stroke-width="1"/>
<line x1="442.50" y1="509.50" x2="442.50" y2="513.00" stroke="#000" stroke-width="1"/>
<line x1="467.50" y1="746.50" x2="467.50" y2="742.00" stroke="#000" stroke-width="1"/>
<line x1="467.50" y1="509.50" x2="467.50" y2="513.00" stroke="#000" stroke-width="1"/>
<line x1="493.50" y1="746.50" x2="493.50" y2="742.00" stroke="#000" stroke-width="1"/>
<line x1="493.50" y1="509.50" x2="493.50" y2="513.00" stroke="#000" stroke-width="1"/>
<line x1="518.50" y1="746.50" x2="518.50" y2="742.00" stroke="#000" stroke-width="1"/>
<line x1="518.50" y1="509.50" x2="518.50" y2="513.00" stroke="#000" stroke-width="1"/>
<line x1="543.50" y1="746.50" x2="543.50" y2="742.00" stroke="#000" stroke-width="1"/>
<line x1="543.50" y1="509.50" x2="543.50" y2="513.00" stroke="#000" stroke-width="1"/>
<line x1="568.50" y1="746.50" x2="568.50" y2="742.00" stroke="#000" stroke-width="1"/>
<line x1="568.50" y1="509.50" x2="568.50" y2="513.00" stroke="#000" stroke-width="1"/>
<line x1="619.50" y1="746.50" x2="619.50" y2="742.00" stroke="#000" stroke-width="1"/>
<line x1="619.50" y1="509.50" x2="619.50" y2="513.00" stroke="#000" stroke-width="1"/>
<line x1="644.50" y1="746.50" x2="644.50" y2="742.00" stroke="#000" stroke-width="1"/>
<line x1="644.50" y1="509.50" x2="644.50" y2="513.00" stroke="#000" stroke-width="1"/>
<line x1="669.50" y1="746.50" x2="669.50" y2="742.00" stroke="#000" stroke-width="1"/>
<line x1="669.50" y1="509.50" x2="669.50" y2="513.00" stroke="#000" stroke-width="1"/>
<line x1="695.50" y1="746.50" x2="695.50" y2="742.00" stroke="#000" stroke-width="1"/>
<line x1="695.50" y1="509.50" x2="695.50" y2="513.00" stroke="#000" stroke-width="1"/>
<line x1="720.50" y1="746.50" x2="720.50" y2="742.00" stroke="#000" stroke-width="1"/>
<line x1="720.50" y1="509.50" x2="720.50" y2="513.00" stroke="#000" stroke-width="1"/>
<line x1="745.50" y1="746.50" x2="745.50" y2="742.00" stroke="#000" stroke-width="1"/>
<line x1="745.50" y1="509.50" x2="745.50" y2="513.00" stroke="#000" stroke-width="1"/>
<line x1="771.50" y1="746.50" x2="771.50" y2="742.00" stroke="#000" stroke-width="1"/>
<line x1="771.50" y1="509.50" x2="771.50" y2="513.00" stroke="#000" stroke-width="1"/>
<line x1="796.50" y1="746.50" x2="796.50" y2="742.00" stroke="#000" stroke-width="1"/>
<line x1="796.50" y1="509.50" x2="796.50" y2="513.00" stroke="#000" stroke-width="1"/>
<line x1="821.50" y1="746.50" x2="821.50" y2="742.00" stroke="#000" stroke-width="1"/>
<line x1="821.50" y1="509.50" x2="821.50" y2="513.00" stroke="#000" stroke-width="1"/>
<line x1="872.50" y1="746.50" x2="872.50" y2="742.00" stroke="#000" stroke-width="1"/>
<line x1="872.50" y1="509.50" x2="872.50" y2="513.00" stroke="#000" stroke-width="1"/>
<line x1="897.50" y1="746.50" x2="897.50" y2="742.00" stroke="#000" stroke-width="1"/>
<line x1="897.50" y1="509.50" x2="897.50" y2="513.00" stroke="#000" stroke-width="1"/>
<line x1="922.50" y1="746.50" x2="922.50" y2="742.00" stroke="#000" stroke-width="1"/>
<line x1="922.50" y1="509.50" x2="922.50" y2="513.00" stroke="#000" stroke-width="1"/>
<line x1="947.50" y1="746.50" x2="947.50" y2="742.00" stroke="#000" stroke-width="1"/>
<line x1="947.50" y1="509.50" x2="947.50" y2="513.00" stroke="#000" stroke-width="1"/>
<line x1="973.50" y1="746.50" x2="973.50" y2="742.00" stroke="#000" stroke-width="1"/>
<line x1="973.50" y1="509.50" x2="973.50" y2="513.00" stroke="#000" stroke-width="1"/>
<line x1="998.50" y1="746.50" x2="998.50" y2="742.00" stroke="#000" stroke-width="1"/>
<line x1="998.50" y1="509.50" x2="998.50" y2="513.00" stroke="#000" stroke-width="1"/>
<line x1="1023.50" y1="746.50" x2="1023.50" y2="742.00" stroke="#000" stroke-width="1"/>
<line x1="1023.50" y1="509.50" x2="1023.50" y2="513.00" stroke="#000" stroke-width="1"/>
<line x1="1048.50" y1="746.50" x2="1048.50" y2="742.00" stroke="#000" stroke-width="1"/>
<line x1="1048.50" y1="509.50" x2="1048.50" y2="513.00" stroke="#000" stroke-width="1"/>
<line x1="1074.50" y1="746.50" x2="1074.50" y2="742.00" stroke="#000" stroke-width="1"/>
<line x1="1074.50" y1="509.50" x2="1074.50" y2="513.00" stroke="#000" stroke-width="1"/>
<line x1="1124.50" y1="746.50" x2="1124.50" y2="742.00" stroke="#000" stroke-width="1"/>
<line x1="1124.50" y1="509.50" x2="1124.50" y2="513.00" stroke="#000" stroke-width="1"/>
<line x1="1149.50" y1="746.50" x2="1149.50" y2="742.00" stroke="#000" stroke-width="1"/>
<line x1="1149.50" y1="509.50" x2="1149.50" y2="513.00" stroke="#000" stroke-width="1"/>
<line x1="1175.50" y1="746.50" x2="1175.50" y2="742.00" stroke="#000" stroke-width="1"/>
<line x1="1175.50" y1="509.50" x2="1175.50" y2="513.00" stroke="#000" stroke-width="1"/>
<line x1="1200.50" y1="746.50" x2="1200.50" y2="742.00" stroke="#000" stroke-width="1"/>
<line x1="1200.50" y1="509.50" x2="1200.50" y2="513.00" stroke="#000" stroke-width="1"/>
<line x1="1225.50" y1="746.50" x2="1225.50" y2="742.00" stroke="#000" stroke-width="1"/>
<line x1="1225.50" y1="509.50" x2="1225.50" y2="513.00" stroke="#000" stroke-width="1"/>
<line x1="1250.50" y1="746.50" x2="1250.50" y2="742.00" stroke="#000" stroke-width="1"/>
<line x1="1250.50" y1="509.50" x2="1250.50" y2="513.00" stroke="#000" stroke-width="1"/>
<line x1="1276.50" y1="746.50" x2="1276.50" y2="742.00" stroke="#000" stroke-width="1"/>
<line x1="1276.50" y1="509.50" x2="1276.50" y2="513.00" stroke="#000" stroke-width="1"/>
<line x1="1301.50" y1="746.50" x2="1301.50" y2="742.00" stroke="#000" stroke-width="1"/>
<line x1="1301.50" y1="509.50" x2="1301.50" y2="513.00" stroke="#000" stroke-width="1"/>
<line x1="1326.50" y1="746.50" x2="1326.50" y2="742.00" stroke="#000" stroke-width="1"/>
<line x1="1326.50" y1="509.50" x2="1326.50" y2="513.00" stroke="#000" stroke-width="1"/>
<line x1="88.50" y1="627.50" x2="96.00" y2="627.50" stroke="#000" stroke-width="1"/>
<line x1="1352.50" y1="627.50" x2="1345.00" y2="627.50" stroke="#000" stroke-width="1"/>
<text x="91.58" y="768.00" text-anchor="middle" font-size="14" letter-spacing="0.15">0</text>
<text x="344.18" y="768.00" text-anchor="middle" font-size="14" letter-spacing="0.15">1</text>
<text x="596.78" y="768.00" text-anchor="middle" font-size="14" letter-spacing="0.15">2</text>
<text x="849.38" y="768.00" text-anchor="middle" font-size="14" letter-spacing="0.15">3</text>
<text x="1101.98" y="768.00" text-anchor="middle" font-size="14" letter-spacing="0.15">4</text>
<text x="1354.58" y="768.00" text-anchor="middle" font-size="14" letter-spacing="0.15">5</text>
<text x="82.05" y="514.10" text-anchor="end" font-size="14" letter-spacing="0.85">2e+09</text>
<text x="82.05" y="633.50" text-anchor="end" font-size="14" letter-spacing="0.85">1e+09</text>
<text x="81.50" y="751.10" text-anchor="end" font-size="14" letter-spacing="0.20">0</text>
<text x="720.27" y="792.80" text-anchor="middle" font-size="14" letter-spacing="0.55">distance [m]</text>
<text x="1289.02" y="222.70" text-anchor="end" font-size="14" letter-spacing="0.12">L echo</text>
<line x1="1297.00" y1="217.50" x2="1337.00" y2="217.50" stroke="#ff0000" stroke-width="1"/>
<text x="1288.90" y="239.70" text-anchor="end" font-size="14" letter-spacing="0.00">R echo</text>
<line x1="1297.00" y1="234.50" x2="1337.00" y2="234.50" stroke="#00ff00" stroke-width="1"/>
<text x="1289.30" y="529.70" text-anchor="end" font-size="14" letter-spacing="0.40">L correlation</text>
<line x1="1297.00" y1="524.50" x2="1337.00" y2="524.50" stroke="#ff0000" stroke-width="1"/>
<text x="1289.23" y="546.70" text-anchor="end" font-size="14" letter-spacing="0.33">R correlation</text>
<line x1="1297.00" y1="541.50" x2="1337.00" y2="541.50" stroke="#00ff00" stroke-width="1"/>
<clipPath id="c1"><rect x="87.5" y="48.5" width="1266.0" height="83.0"/></clipPath>
<clipPath id="c2"><rect x="87.5" y="202.5" width="1266.0" height="237.0"/></clipPath>
<clipPath id="c3"><rect x="87.5" y="509.5" width="1266.0" height="239.5"/></clipPath>
<polyline points="89.0,90.3 97.4,90.3 105.8,90.3 114.3,90.3 122.7,90.3 131.1,90.3 139.5,90.3 147.9,90.2 156.4,90.2 164.8,90.2 173.2,90.2 181.6,90.3 190.0,90.3 198.5,90.4 206.9,90.5 215.3,90.5 223.7,90.5 232.1,90.5 240.6,90.4 249.0,90.1 257.4,89.6 265.8,89.1 274.2,88.8 282.7,88.8 291.1,89.2 299.5,90.1 307.9,91.2 316.3,92.3 324.8,93.2 333.2,93.6 341.6,93.3 350.0,92.0 358.4,89.9 366.9,87.3 375.3,84.9 383.7,83.5 392.1,83.8 400.5,86.1 409.0,90.2 417.4,95.0 425.8,99.3 434.2,101.5 442.6,100.8 451.1,96.8 459.5,90.3 467.9,82.8 476.3,76.4 484.7,73.3 493.2,74.7 501.6,80.6 510.0,89.7 518.4,100.0 526.8,108.7 535.3,112.8 543.7,109.9 552.1,99.5 560.5,84.4 568.9,70.3 577.4,63.2 585.8,66.0 594.2,77.8 602.6,94.9 611.0,111.1 619.5,120.4 627.9,118.5 636.3,105.2 644.7,85.3 653.1,66.9 661.6,57.6 670.0,61.2 678.4,75.9 686.8,96.3 695.2,114.7 703.7,124.0 712.1,119.7 720.5,103.1 728.9,81.0 737.3,63.3 745.8,57.7 754.2,67.0 762.6,86.8 771.0,107.6 779.4,119.4 787.9,117.4 796.3,103.8 804.7,85.2 813.1,69.6 821.5,63.9 830.0,71.4 838.4,88.7 846.8,105.8 855.2,113.0 863.6,106.9 872.1,91.8 880.5,77.5 888.9,71.9 897.3,76.7 905.7,87.8 914.2,98.8 922.6,104.4 931.0,101.9 939.4,93.1 947.8,83.5 956.3,79.2 964.7,81.9 973.1,89.1 981.5,95.9 989.9,98.4 998.4,95.9 1006.8,90.7 1015.2,86.1 1023.6,84.7 1032.0,87.1 1040.5,90.9 1048.9,93.4 1057.3,93.3 1065.7,91.1 1074.1,88.6 1082.6,87.8 1091.0,88.9 1099.4,90.5 1107.8,91.5 1116.2,91.5 1124.7,90.7 1133.1,89.8 1141.5,89.5 1149.9,89.9 1158.3,90.4 1166.8,90.7 1175.2,90.6 1183.6,90.4 1192.0,90.1 1200.4,90.0 1208.9,90.1 1217.3,90.3 1225.7,90.4 1234.1,90.4 1242.5,90.4 1251.0,90.3 1259.4,90.3 1267.8,90.3 1276.2,90.3 1284.6,90.3 1293.1,90.3" fill="none" stroke="#ff0000" stroke-width="1" stroke-linejoin="round" clip-path="url(#c1)"/>
<polyline points="88.5,296.9 89.4,297.2 90.3,298.0 91.2,297.9 92.1,298.2 93.0,297.5 93.9,297.4 94.8,297.9 95.7,297.7 96.6,297.9 97.5,298.0 98.4,297.6 99.3,296.8 100.2,296.5 101.1,297.1 102.0,297.0 102.9,295.4 103.8,296.1 104.7,295.7 105.6,295.6 106.5,295.9 107.4,295.8 108.3,295.5 109.2,295.9 110.1,296.3 111.0,295.9 111.9,296.1 112.8,296.6 113.7,296.1 114.6,296.1 115.5,296.3 116.4,295.7 117.3,296.3 118.2,295.8 119.1,296.7 120.0,297.0 120.9,297.4 121.8,297.2 122.7,297.2 123.6,296.4 124.5,297.1 125.4,297.4 126.3,297.8 127.2,298.4 128.1,299.4 129.0,299.0 129.9,298.2 130.8,298.6 131.7,299.0 132.6,299.1 133.5,298.9 134.4,298.5 135.3,298.1 136.2,296.9 137.1,296.6 138.0,296.5 138.9,297.4 139.8,297.5 140.7,298.0 141.6,297.6 142.5,297.1 143.4,296.7 144.3,296.8 145.2,296.9 146.1,297.0 147.0,297.4 147.9,298.2 148.8,297.6 149.7,297.2 150.6,297.3 151.5,297.4 152.4,296.5 153.3,297.2 154.2,296.4 155.1,296.7 156.0,297.2 156.9,296.8 157.8,296.7 158.7,296.8 159.6,296.6 160.5,296.1 161.5,296.3 162.3,298.2 163.2,301.0 164.1,303.6 164.6,303.7 165.9,301.7 166.8,298.6 167.7,294.5 168.6,290.6 169.5,287.6 170.7,286.4 171.3,286.5 172.2,289.9 173.1,295.1 174.0,300.7 174.9,306.7 175.8,310.1 176.9,312.4 177.6,310.8 178.5,304.1 179.4,294.6 180.3,285.1 181.2,277.9 181.9,276.5 183.0,281.0 183.9,289.2 184.8,300.4 185.7,310.8 186.6,318.7 187.5,321.5 188.4,319.1 189.3,311.7 190.2,301.8 191.1,292.1 192.0,283.7 193.1,280.3 193.8,280.5 194.7,283.7 195.6,287.8 196.5,293.6 197.4,299.6 198.3,305.0 199.2,308.9 200.1,311.8 200.8,312.4 201.9,307.2 202.8,298.2 203.7,286.2 204.6,273.5 205.5,264.9 206.4,261.5 207.3,270.9 208.2,294.3 209.1,322.3 210.0,344.2 210.7,349.5 211.8,336.5 212.7,309.0 213.6,275.4 214.5,246.0 215.8,227.4 216.3,232.3 217.2,263.0 218.1,309.9 219.0,353.7 220.1,376.0 220.8,367.4 221.7,333.2 222.6,286.7 223.5,243.5 224.7,218.2 225.3,224.3 226.2,252.5 227.1,294.4 228.0,335.4 229.3,361.5 229.8,356.9 230.7,328.1 231.6,287.6 232.5,256.9 233.1,250.3 234.3,261.7 235.2,281.4 236.1,303.0 237.0,317.8 237.7,322.0 238.8,319.7 239.7,314.9 240.6,308.2 241.5,301.5 242.4,295.6 243.3,291.9 244.0,291.0 245.1,293.2 246.0,296.5 246.9,302.3 247.8,308.7 248.7,312.7 249.9,315.0 250.5,311.8 251.4,297.0 252.3,278.5 253.4,268.1 254.1,271.8 255.0,283.4 255.9,302.2 256.8,319.0 258.0,328.4 258.6,325.2 259.5,308.0 260.4,286.7 261.3,270.9 261.8,268.6 263.1,280.3 264.0,297.2 264.9,314.3 266.2,325.9 266.7,324.0 267.6,314.0 268.5,297.9 269.4,282.4 270.6,273.4 271.2,275.4 272.1,285.2 273.0,299.0 273.9,310.2 274.7,313.8 275.7,311.0 276.6,303.7 277.5,296.7 278.8,291.6 279.3,292.3 280.2,294.9 281.0,295.9 282.0,294.1 282.9,291.3 283.6,290.8 284.7,294.0 285.6,299.6 286.5,305.2 287.8,309.5 288.3,308.7 289.2,303.2 290.1,295.1 291.0,287.9 292.1,284.4 292.8,285.7 293.7,290.8 294.6,297.5 295.5,302.8 296.3,304.7 297.3,303.6 298.2,300.2 299.1,296.1 300.0,293.2 300.5,293.3 301.8,293.9 302.7,294.8 303.9,295.0 304.5,295.5 305.4,298.5 306.3,301.1 307.2,304.7 308.2,305.6 309.0,303.5 309.9,296.5 310.8,290.0 311.6,287.4 312.6,289.8 313.5,295.8 314.4,303.2 315.3,307.9 315.8,308.6 317.1,302.3 318.0,293.8 318.9,286.4 319.7,283.7 320.7,286.9 321.6,293.7 322.5,302.6 323.4,307.5 323.9,308.1 325.2,303.4 326.1,296.9 327.0,290.6 328.2,286.6 328.8,286.6 329.7,289.9 330.6,294.3 331.5,298.2 332.4,301.5 333.3,303.2 334.2,302.0 335.1,299.0 336.0,295.5 336.9,291.7 337.8,290.0 338.4,289.4 339.6,291.6 340.5,295.1 341.4,298.7 342.3,301.4 342.9,302.3 344.1,300.2 345.0,297.1 345.9,294.9 346.8,293.7 347.7,294.0 348.6,295.8 349.5,296.4 350.2,296.7 351.3,295.5 352.2,295.5 352.8,295.2 354.0,296.5 354.9,298.6 355.8,300.3 356.5,300.6 357.6,298.3 358.5,294.5 359.4,290.5 360.3,287.6 360.8,287.4 362.1,291.8 363.0,297.4 363.9,303.0 364.7,304.4 365.7,302.0 366.6,297.0 367.5,291.1 368.7,288.3 369.3,288.6 370.2,292.6 371.1,298.4 372.0,302.9 373.1,305.2 373.8,304.0 374.7,299.5 375.6,293.4 376.5,290.4 377.0,289.1 378.3,291.8 379.2,295.6 380.1,299.0 381.0,302.1 381.6,303.2 382.8,300.9 383.7,298.4 384.6,295.2 385.5,292.2 386.5,291.3 387.3,292.2 388.2,294.3 389.1,297.3 390.0,300.8 390.9,302.7 391.6,303.2 392.7,301.3 393.6,296.0 394.5,290.8 395.4,287.3 395.9,286.7 397.2,290.8 398.1,297.3 399.0,303.5 400.1,306.9 400.8,305.5 401.7,299.9 402.6,292.5 403.5,286.2 404.4,284.0 405.3,286.9 406.2,294.1 407.1,301.8 408.3,306.4 408.9,305.4 409.8,300.8 410.7,295.0 411.6,289.4 412.5,287.4 413.4,289.1 414.3,293.8 415.2,299.3 416.1,303.3 416.9,305.2 417.9,303.0 418.8,298.6 419.7,293.0 420.6,289.5 421.5,287.4 422.4,288.2 423.3,291.6 424.2,296.2 425.1,301.8 426.0,306.3 426.9,309.3 427.8,310.8 428.7,308.9 429.6,302.9 430.5,294.5 431.4,285.9 432.3,279.1 433.4,276.0 434.1,277.9 435.0,287.2 435.9,299.9 436.8,312.7 437.7,321.2 438.4,323.5 439.5,316.9 440.4,304.7 441.3,289.9 442.2,276.2 443.4,269.1 444.0,271.6 444.9,283.8 445.8,300.9 446.7,317.7 447.8,325.6 448.5,321.8 449.4,310.4 450.3,293.9 451.2,278.0 452.4,269.3 453.0,271.8 453.9,283.8 454.8,300.3 455.7,315.8 456.8,323.5 457.5,320.0 458.4,306.8 459.3,289.2 460.2,274.9 461.0,270.4 462.0,278.1 462.9,294.6 463.8,312.1 464.9,321.3 465.6,318.0 466.5,304.6 467.4,287.4 468.3,273.7 469.0,270.4 470.1,280.7 471.0,299.2 471.9,316.5 472.7,322.2 473.7,313.4 474.6,295.4 475.5,278.0 476.5,269.3 477.3,275.9 478.2,294.9 479.1,315.5 480.0,323.9 480.9,315.7 481.8,294.9 482.7,273.9 483.7,263.7 484.5,269.7 485.4,289.8 486.3,313.1 487.2,329.1 487.7,331.5 489.0,315.0 489.9,291.8 490.8,270.8 491.7,262.8 492.6,268.8 493.5,285.7 494.4,305.3 495.3,319.9 496.0,323.9 497.1,317.3 498.0,305.7 498.9,292.8 499.8,283.5 500.4,282.3 501.6,286.3 502.5,291.7 503.4,297.7 504.6,301.8 505.2,301.5 506.1,302.1 507.0,302.0 507.9,302.1 509.2,302.3 509.7,301.8 510.6,297.4 511.5,292.4 512.6,289.4 513.3,290.3 514.2,295.7 515.1,302.0 516.0,308.0 517.2,311.2 517.8,310.1 518.7,304.2 519.6,296.0 520.5,288.2 521.6,284.4 522.3,286.3 523.2,293.7 524.1,301.6 525.0,309.2 525.8,311.2 526.8,307.8 527.7,301.2 528.6,293.4 529.5,287.9 530.1,286.9 531.3,290.5 532.2,296.4 533.1,302.1 534.1,304.4 534.9,302.9 535.8,298.8 536.7,295.0 537.5,293.7 538.5,294.8 539.4,295.6 540.3,297.0 541.2,298.5 542.1,300.4 542.8,300.1 543.9,299.1 544.8,297.1 545.7,295.0 546.6,293.2 547.5,292.0 548.2,291.3 549.3,293.7 550.2,297.2 551.1,301.1 552.0,303.8 552.5,304.0 553.8,300.3 554.7,295.1 555.6,289.5 556.7,286.9 557.4,288.2 558.3,293.0 559.2,298.8 560.1,303.8 560.9,305.6 561.9,303.0 562.8,298.0 563.7,293.1 564.7,290.3 565.5,291.6 566.4,296.6 567.3,301.1 568.1,302.7 569.1,300.3 570.0,295.3 570.9,291.2 571.5,290.0 572.7,293.6 573.6,298.9 574.5,304.0 575.4,305.7 576.3,303.5 577.2,298.9 578.1,293.7 579.0,289.2 579.6,288.6 580.8,292.3 581.7,297.5 582.6,303.6 583.8,306.9 584.4,306.3 585.3,302.8 586.2,298.6 587.1,295.2 588.1,293.0 588.9,293.5 589.8,293.7 590.7,294.4 591.6,294.5 592.5,295.2 593.2,295.0 594.3,296.5 595.2,297.5 596.1,299.0 596.6,299.3 597.9,297.8 598.8,295.6 599.7,293.5 600.5,293.3 601.5,294.6 602.4,297.4 603.3,301.1 604.2,303.6 605.0,304.4 606.0,302.8 606.9,298.5 607.8,293.8 608.7,289.7 609.3,289.4 610.5,291.7 611.4,296.2 612.3,300.2 613.2,303.7 613.9,304.4 615.0,302.0 615.9,297.3 616.8,292.4 617.8,290.3 618.6,291.3 619.5,294.1 620.4,298.7 621.3,301.8 622.0,302.3 623.1,301.3 624.0,299.1 624.9,297.7 626.2,296.4 626.7,297.0 627.6,296.2 628.5,296.1 629.4,295.6 630.3,295.5 631.3,295.6 632.1,295.9 633.0,297.1 633.9,298.8 634.8,300.5 635.6,300.5 636.6,299.5 637.5,297.2 638.4,294.0 639.3,292.6 639.8,292.5 641.1,294.5 642.0,295.9 642.9,298.7 644.1,299.6 644.7,299.4 645.6,297.6 646.5,295.8 647.8,294.7 648.3,294.9 649.2,294.8 650.1,294.6 651.0,295.2 651.9,295.6 652.5,295.3 653.7,296.2 654.6,298.2 655.5,299.9 656.7,300.5 657.3,299.7 658.2,299.2 659.1,297.7 660.0,296.7 660.9,295.2 661.7,295.0 662.7,295.7 663.6,298.0 664.5,299.4 665.5,300.8 666.3,300.0 667.2,298.7 668.1,296.1 669.0,293.7 669.9,292.8 670.8,291.7 671.7,292.6 672.6,294.5 673.5,297.2 674.4,299.0 675.0,299.2 676.2,297.5 677.5,295.8 678.0,296.0 678.9,296.7 679.8,297.1 680.7,298.8 681.7,298.8 682.5,298.2 683.4,297.6 684.3,296.3 685.2,294.6 686.2,294.2 687.0,294.8 687.9,296.7 688.8,299.3 689.7,300.9 690.3,301.2 691.5,299.3 692.4,296.7 693.3,294.7 694.5,292.8 695.1,292.9 696.0,294.9 696.9,296.8 697.8,299.5 698.7,300.5 699.6,299.6 700.5,297.5 701.4,295.4 702.3,292.9 703.3,292.2 704.1,292.8 705.0,294.0 705.9,296.3 706.8,298.0 707.5,298.3 708.6,297.7 709.5,296.4 710.8,295.5 711.3,296.0 712.2,295.4 713.1,295.6 714.0,296.4 714.9,296.8 715.8,296.7 716.7,297.1 717.6,298.6 718.5,299.2 719.4,300.4 720.0,300.5 721.2,300.1 722.1,299.5 723.0,298.6 723.9,297.1 724.8,296.4 725.7,296.1 726.7,295.5 727.5,296.0 728.4,296.1 729.3,297.2 730.2,297.8 731.1,298.8 732.0,299.3 732.5,299.2 733.8,297.6 734.7,296.0 735.6,295.0 736.2,294.2 737.4,295.6 738.3,297.4 739.2,298.9 740.5,300.3 741.0,300.5 741.9,298.7 742.8,297.1 743.8,296.7 744.6,297.1 745.5,299.2 746.4,300.6 747.2,300.8 748.2,299.5 749.1,296.3 750.0,294.0 750.8,292.8 751.8,293.7 752.7,296.0 753.6,298.2 754.5,300.0 755.0,300.0 756.3,298.2 757.2,296.9 758.0,296.3 759.0,298.1 760.0,299.7 760.8,298.7 761.7,297.3 762.6,295.0 763.5,293.5 764.5,292.2 765.3,293.5 766.2,296.3 767.1,301.2 768.0,304.3 768.8,305.5 769.8,303.9 770.7,301.2 771.6,297.3 772.5,294.1 773.3,293.3 774.3,293.8 775.2,296.4 776.1,299.0 777.0,301.6 777.8,302.2 778.8,300.9 779.7,299.5 780.6,297.5 781.5,295.8 782.5,294.7 783.3,294.7 784.2,296.4 785.3,296.7 786.0,296.5 786.9,296.5 787.8,295.9 788.7,294.9 789.2,295.3 790.5,296.4 791.4,298.1 792.5,298.8 793.2,298.6 794.1,296.4 795.0,295.7 796.2,294.7 796.8,295.2 797.7,296.7 798.6,298.1 799.5,299.6 800.8,300.8 801.3,300.4 802.2,299.3 803.1,296.8 804.2,295.5 804.9,296.0 805.8,297.0 806.7,298.7 807.5,298.8 808.5,299.0 809.4,298.6 810.3,298.4 811.5,298.2 812.1,297.7 813.0,298.7 813.9,298.6 814.8,298.9 815.8,298.8 816.6,298.0 817.5,297.0 818.3,295.5 819.3,295.7 820.2,296.3 821.1,297.1 822.0,297.8 823.3,298.3 823.8,298.0 824.7,297.8 825.6,296.7 826.5,295.8 827.8,295.5 828.3,296.1 829.2,297.5 830.1,299.7 831.2,300.5 831.9,300.2 832.8,298.9 833.7,296.3 834.6,295.0 835.5,293.4 836.2,293.0 837.3,294.2 838.2,297.0 839.1,300.7 840.0,303.2 841.3,305.3 841.8,304.6 842.7,302.4 843.6,298.5 844.5,293.6 845.4,290.2 846.2,289.2 847.2,291.2 848.1,296.7 849.0,303.2 849.9,307.1 850.5,308.0 851.7,305.3 852.6,299.7 853.5,294.7 854.4,290.2 855.3,288.3 856.2,289.7 857.1,295.1 858.0,300.7 858.9,304.9 859.5,305.8 860.7,303.0 861.6,297.8 862.5,292.7 863.7,290.3 864.3,290.9 865.2,295.0 866.1,299.7 867.0,302.7 867.5,303.7 868.8,302.0 869.7,300.0 870.6,297.2 871.5,295.6 872.2,295.0 873.3,295.3 874.2,297.2 875.1,297.9 875.8,298.3 876.9,297.9 877.8,297.4 878.7,296.5 879.6,296.1 880.8,295.3 881.4,295.3 882.3,296.1 883.2,296.7 884.1,297.3 885.0,297.7 885.6,297.5 886.8,297.2 887.7,295.8 888.6,295.0 889.5,294.5 890.4,294.9 891.3,297.8 892.2,300.2 893.1,301.8 893.7,302.2 894.9,300.4 895.8,296.8 896.7,293.0 897.5,292.2 898.5,294.0 899.4,297.6 900.3,300.9 901.2,302.2 902.1,300.9 903.0,297.7 903.9,293.2 905.0,291.2 905.7,292.4 906.6,295.6 907.5,299.7 908.4,303.4 909.2,304.5 910.2,301.8 911.1,296.2 912.0,291.4 912.8,289.5 913.8,291.5 914.7,296.1 915.6,301.6 916.5,305.1 917.2,306.2 918.3,303.1 919.2,297.2 920.1,291.3 921.2,288.3 921.9,289.3 922.8,291.9 923.7,296.1 924.6,299.9 925.5,301.2 926.4,300.5 927.3,297.6 928.2,295.9 929.5,293.7 930.0,294.0 930.9,295.5 931.8,296.9 932.7,299.3 933.7,300.0 934.5,299.6 935.4,298.5 936.3,297.2 937.2,296.3 938.3,295.5 939.0,295.7 939.9,297.6 940.8,300.2 941.7,301.5 942.5,302.0 943.5,300.5 944.4,298.4 945.3,295.7 946.2,293.4 946.7,293.3 948.0,295.6 948.9,299.2 949.8,302.5 950.7,304.5 951.2,305.0 952.5,303.2 953.4,299.3 954.3,295.0 955.2,293.1 955.8,292.2 957.0,294.0 957.9,297.1 958.8,300.4 960.0,302.0 960.6,301.7 961.5,299.4 962.4,296.7 963.3,293.7 963.8,293.7 965.1,295.3 966.0,297.9 966.9,299.2 967.8,300.3 968.7,299.4 969.6,298.5 970.5,296.7 971.7,295.8 972.3,296.3 973.2,296.8 974.1,297.8 975.0,298.2 975.9,297.9 976.8,297.2 978.0,296.8 978.6,296.8 979.5,297.1 980.4,298.4 981.0,298.6 982.2,297.8 983.1,297.8 984.0,297.1 984.5,297.2 985.8,297.5 986.7,297.8 988.0,299.0 988.5,298.5 989.4,298.2 990.3,298.1 991.5,297.5 992.1,297.5 993.0,297.9 993.9,298.5 995.0,298.8 995.7,297.6 996.6,296.9 997.5,294.4 998.3,293.8 999.3,294.8 1000.2,297.4 1001.1,299.4 1002.0,301.1 1002.8,302.0 1003.8,301.4 1004.7,299.0 1005.6,296.6 1006.5,294.4 1007.5,293.7 1008.3,293.9 1009.2,295.5 1010.1,297.5 1011.0,299.3 1011.7,300.0 1012.8,298.3 1013.7,296.9 1014.6,294.3 1015.8,293.0 1016.4,292.7 1017.3,294.8 1018.2,296.8 1019.1,298.8 1020.0,299.2 1020.9,298.1 1021.8,296.8 1022.7,294.8 1023.8,293.7 1024.5,293.8 1025.4,294.9 1026.3,296.2 1027.2,298.0 1028.1,298.3 1028.8,298.8 1029.9,298.1 1030.8,296.5 1031.7,296.8 1032.5,295.5 1033.5,295.6 1034.4,296.9 1035.3,297.0 1036.0,297.0 1037.1,297.3 1038.0,297.7 1038.9,297.9 1040.0,298.3 1040.7,298.5 1041.6,297.1 1042.5,295.6 1043.4,294.1 1044.3,292.7 1045.3,292.5 1046.1,292.9 1047.0,294.5 1047.9,296.6 1049.2,297.5 1049.7,297.3 1050.6,296.3 1051.5,295.4 1052.4,294.5 1053.3,293.7 1054.2,294.1 1055.1,295.3 1056.0,296.1 1056.9,298.0 1057.8,299.1 1058.7,300.2 1059.5,300.5 1060.5,300.3 1061.4,299.1 1062.3,297.2 1063.2,295.8 1064.2,295.5 1065.0,295.9 1065.9,296.6 1066.8,297.6 1067.7,297.7 1068.7,298.3 1069.5,298.4 1070.4,298.1 1071.3,297.4 1072.2,297.0 1073.1,296.5 1074.0,295.9 1075.3,295.8 1075.8,295.6 1076.7,295.9 1077.6,297.6 1078.5,298.2 1079.4,299.4 1080.3,300.7 1081.2,300.5 1082.1,300.2 1083.0,298.3 1083.9,296.3 1084.8,295.0 1085.8,294.2 1086.6,295.4 1087.5,295.8 1088.4,298.2 1089.3,299.2 1090.0,300.0 1091.1,298.8 1092.0,298.3 1093.3,296.7 1093.8,297.5 1094.7,298.5 1095.6,299.8 1096.5,301.0 1097.8,301.7 1098.3,300.9 1099.2,299.1 1100.1,295.4 1101.0,292.7 1102.2,290.8 1102.8,291.4 1103.7,294.2 1104.6,298.1 1105.5,301.7 1106.7,303.7 1107.3,303.2 1108.2,300.3 1109.1,296.2 1110.0,292.6 1110.9,289.0 1111.7,288.0 1112.7,289.6 1113.6,293.0 1114.5,298.0 1115.4,301.7 1116.7,304.2 1117.2,303.9 1118.1,300.9 1119.0,296.6 1119.9,292.6 1120.8,291.7 1121.7,292.7 1122.6,296.1 1123.5,299.9 1124.4,302.9 1125.0,302.5 1126.2,301.2 1127.1,298.9 1128.0,297.2 1129.2,295.8 1129.8,295.8 1130.7,296.8 1131.7,297.2 1132.5,296.8 1133.4,296.6 1134.3,295.3 1135.2,295.1 1135.8,294.7 1137.0,296.5 1137.9,298.4 1138.8,301.1 1139.7,302.0 1140.6,300.8 1141.5,296.5 1142.4,292.9 1143.3,291.3 1144.2,292.2 1145.1,296.0 1146.0,300.6 1146.9,304.0 1147.8,305.3 1148.7,303.6 1149.6,300.2 1150.5,296.1 1151.7,293.8 1152.3,293.6 1153.2,295.7 1154.1,297.7 1155.0,300.0 1155.8,300.8 1156.8,300.2 1157.7,297.7 1158.7,296.7 1159.5,298.0 1160.8,300.5 1161.3,300.5 1162.2,299.4 1163.1,298.3 1164.0,296.5 1164.9,295.1 1165.5,295.0 1166.7,296.4 1167.6,298.1 1168.5,299.9 1169.4,300.9 1170.0,301.7 1171.2,300.3 1172.1,298.8 1173.0,296.2 1173.9,294.3 1175.0,293.3 1175.7,293.8 1176.6,295.0 1177.5,297.0 1178.4,298.8 1179.3,300.2 1180.0,300.5 1181.1,299.2 1182.0,296.7 1182.9,294.2 1183.8,293.0 1184.7,293.9 1185.6,297.1 1186.5,299.7 1187.8,301.7 1188.3,301.4 1189.2,300.5 1190.1,299.6 1191.0,298.0 1191.9,296.5 1192.8,296.0 1193.8,295.5 1194.6,295.5 1195.5,297.3 1196.4,297.6 1197.0,298.0 1198.2,297.6 1199.1,297.2 1200.0,296.8 1200.9,296.8 1201.8,297.9 1203.0,298.6 1203.6,298.0 1204.5,297.9 1205.4,297.6 1206.0,297.4 1207.2,297.8 1208.1,298.7 1209.0,299.0 1209.9,298.8 1210.8,297.9 1212.0,297.2 1212.6,297.2 1213.5,297.5 1214.4,298.9 1215.0,298.8 1216.2,298.3 1217.1,298.0 1218.0,297.5 1218.9,297.8 1219.8,297.9 1221.0,298.5 1221.6,298.1 1222.5,297.0 1223.4,296.6 1224.5,295.8 1225.2,295.7 1226.1,296.4 1227.0,297.8 1227.9,298.4 1229.2,298.8 1229.7,298.2 1230.6,298.2 1231.5,297.1 1232.5,296.3 1233.3,295.9 1234.2,296.7 1235.1,297.7 1236.0,297.5 1236.9,298.5 1238.0,298.6 1238.7,298.8 1239.6,298.7 1240.5,298.8 1241.5,298.2 1242.3,298.0 1243.2,298.5 1244.1,299.6 1245.0,299.2 1245.9,300.1 1246.8,300.9 1247.5,300.8 1248.6,300.5 1249.5,300.4 1250.4,299.8 1251.3,299.4 1252.2,298.4 1253.1,297.6 1254.0,297.0 1254.9,296.4 1255.8,296.4 1256.7,296.3 1257.6,296.3 1258.5,297.4 1259.4,297.2 1260.0,297.6 1261.2,296.9 1262.1,296.7 1263.0,296.4 1263.9,296.6 1264.8,297.0 1266.0,297.8 1266.6,297.7 1267.5,297.2 1268.4,296.4 1269.0,296.6 1270.2,295.9 1271.1,295.2 1272.0,295.0 1272.5,295.0 1273.8,295.7 1274.7,296.8 1276.0,297.0 1276.5,297.2 1277.4,297.3 1278.3,297.1 1279.2,297.4 1280.1,297.3 1281.0,296.9 1281.7,297.2 1282.8,297.6 1283.7,298.6 1284.6,298.9 1285.8,299.7 1286.4,299.4 1287.3,298.8 1288.2,297.9 1289.0,297.5 1290.0,297.3 1290.9,297.8 1292.0,297.8 1292.7,298.3 1293.6,297.8 1294.5,298.7 1295.4,298.2 1296.3,298.8 1297.2,299.7 1298.3,299.5 1299.0,299.9 1299.9,297.9 1300.8,297.4 1301.7,295.9 1302.8,295.5 1303.5,296.5 1304.4,296.3 1305.3,297.9 1306.2,299.6 1307.1,300.7 1307.8,300.8 1308.9,300.3 1309.8,299.2 1310.7,298.1 1311.6,296.6 1312.5,296.2 1313.4,295.9 1314.3,296.7 1315.2,297.6 1316.1,298.7 1317.0,299.3 1317.5,299.2 1318.8,298.6 1319.7,297.3 1320.6,296.5 1321.7,296.2 1322.4,296.2 1323.3,296.8 1324.2,298.2 1325.1,298.9 1326.0,299.3 1326.9,300.7 1327.5,300.5 1328.7,299.9 1329.6,299.1 1330.5,297.4 1331.7,296.7 1332.3,297.0 1333.2,298.0 1334.1,299.2 1335.0,299.5 1335.9,299.6 1336.8,298.2 1337.7,296.9 1338.6,296.1 1339.2,295.5 1340.4,296.0 1341.3,295.9 1342.2,296.7 1343.1,297.1 1344.0,297.6 1344.9,298.3 1345.8,298.9 1346.7,298.8 1347.6,298.4 1348.5,297.6 1349.4,296.3 1350.3,295.4 1350.8,295.5 1352.5,296.2" fill="none" stroke="#ff0000" stroke-width="1" stroke-linejoin="round" clip-path="url(#c2)"/>
<polyline points="88.5,345.4 89.4,345.3 90.3,345.6 91.2,345.6 92.1,345.7 93.0,346.4 93.9,345.5 94.8,345.8 95.7,346.0 96.6,344.6 97.5,344.2 98.4,344.1 99.3,344.7 100.2,344.7 101.1,344.4 102.0,344.0 102.9,344.2 103.8,343.9 104.7,344.1 105.6,344.1 106.5,343.9 107.4,344.1 108.3,344.6 109.2,344.7 110.1,343.8 111.0,343.8 111.9,343.8 112.8,343.7 113.7,344.1 114.6,343.8 115.5,343.9 116.4,343.5 117.3,343.8 118.2,343.6 119.1,344.0 120.0,343.7 120.9,343.3 121.8,342.6 122.7,343.3 123.6,344.1 124.5,344.4 125.4,343.9 126.3,344.0 127.2,344.4 128.1,345.3 129.0,344.5 129.9,345.3 130.8,345.5 131.7,345.5 132.6,345.1 133.5,344.5 134.4,344.5 135.3,344.0 136.2,343.5 137.1,343.3 138.0,343.4 138.9,343.3 139.8,344.1 140.7,344.8 141.6,344.6 142.5,344.6 143.4,344.7 144.3,344.6 145.2,344.7 146.1,344.7 147.0,345.2 147.9,345.3 148.8,345.6 149.7,344.5 150.6,344.3 151.5,343.5 152.4,343.2 153.3,343.5 154.2,343.7 155.1,344.0 156.0,344.1 156.9,344.3 157.8,344.5 158.7,343.6 159.6,343.3 160.3,343.2 161.4,345.4 162.3,349.2 163.4,351.3 164.1,350.5 165.0,348.2 165.9,344.4 166.8,340.3 167.7,336.8 169.0,334.8 169.5,335.1 170.4,338.2 171.3,342.9 172.2,348.8 173.1,353.6 174.0,356.8 174.6,357.7 175.8,354.8 176.7,348.5 177.6,342.3 178.5,335.5 179.4,330.1 180.4,328.4 181.2,330.4 182.1,336.9 183.0,345.4 183.9,355.1 184.8,362.6 185.8,365.3 186.6,363.1 187.5,355.5 188.4,345.1 189.3,335.9 190.6,329.2 191.1,329.6 192.0,332.5 192.9,337.5 193.8,343.6 194.7,348.8 195.6,351.8 196.2,352.6 197.4,349.7 198.3,346.3 199.2,342.6 200.1,338.8 200.8,338.5 201.9,339.0 203.0,339.5 203.7,338.9 205.0,337.0 205.5,338.0 206.4,343.8 207.3,353.1 208.2,362.8 209.1,369.0 209.7,370.4 210.9,359.0 211.8,339.9 212.7,320.8 214.0,308.0 214.5,310.6 215.4,327.0 216.3,352.6 217.2,378.2 218.1,395.0 218.6,397.1 219.9,371.6 220.8,335.6 221.7,301.5 222.7,285.9 223.5,297.5 224.4,331.2 225.3,372.2 226.2,400.1 226.7,404.7 228.0,382.2 228.9,348.0 229.8,315.1 231.0,295.3 231.6,298.5 232.5,317.0 233.4,341.8 234.3,364.6 235.4,376.8 236.1,374.4 237.0,366.0 237.9,354.3 238.8,342.8 239.7,335.8 240.2,334.8 241.5,336.3 242.0,336.5 243.2,336.0 244.2,341.3 245.1,350.7 246.0,360.4 246.8,364.0 247.8,356.6 248.7,340.3 249.6,325.0 250.6,317.0 251.4,321.5 252.3,336.0 253.2,353.3 254.1,366.5 254.7,369.1 255.9,360.6 256.8,346.0 257.7,331.4 258.8,324.1 259.5,326.2 260.4,334.9 261.3,346.7 262.2,356.8 263.1,360.2 264.0,358.0 264.9,351.9 265.8,345.3 266.7,338.6 267.7,336.0 268.5,336.1 269.4,337.8 270.3,340.9 271.2,342.8 272.1,345.8 273.0,347.7 274.1,348.7 274.8,348.6 275.7,346.3 276.6,343.8 277.5,341.1 278.4,338.3 279.7,336.6 280.2,337.3 281.1,339.6 282.0,343.3 282.9,347.0 283.8,350.6 284.9,352.2 285.6,351.6 286.5,348.7 287.4,344.6 288.3,341.1 289.2,337.1 290.4,335.2 291.0,335.8 291.9,338.9 292.8,343.8 293.7,349.0 294.6,352.6 295.4,353.6 296.4,351.6 297.3,346.5 298.2,340.4 299.1,336.2 299.7,335.4 300.9,337.7 301.8,342.0 302.7,346.3 303.6,349.9 304.4,351.0 305.4,350.3 306.3,347.1 307.2,342.7 308.1,339.4 309.0,338.3 309.9,339.6 310.8,342.9 311.7,347.0 312.9,349.3 313.5,348.9 314.4,345.7 315.3,342.4 316.6,340.0 317.1,340.6 318.0,340.9 318.9,342.8 319.8,344.4 320.4,345.1 321.6,343.6 322.5,341.8 323.4,340.5 324.3,339.7 325.2,340.5 326.1,343.0 327.0,345.8 327.9,347.8 328.5,348.1 329.7,347.1 330.6,345.9 331.5,342.8 332.4,342.1 333.3,341.2 334.2,341.8 335.1,343.7 336.2,343.7 336.9,343.0 337.9,342.0 338.7,342.2 339.6,343.4 340.5,344.5 341.4,345.7 342.1,345.9 343.2,344.9 344.1,343.5 345.0,341.4 345.9,339.8 346.8,338.1 347.5,338.0 348.6,339.2 349.5,342.2 350.4,345.3 351.3,348.1 352.3,349.3 353.1,347.7 354.0,344.4 354.9,339.3 355.8,335.9 356.5,334.9 357.6,337.0 358.5,341.3 359.4,346.1 360.3,350.3 361.6,353.1 362.1,352.5 363.0,349.5 363.9,345.3 364.8,340.7 365.7,337.4 366.4,336.6 367.5,339.4 368.4,344.0 369.3,349.9 370.4,351.9 371.1,350.9 372.0,348.9 372.9,344.9 373.8,342.5 374.7,340.0 375.2,340.0 376.5,341.3 377.4,343.0 378.3,345.5 379.4,346.4 380.1,346.3 381.0,345.2 381.9,343.7 382.8,343.4 383.7,343.7 384.6,344.1 385.5,343.8 386.4,344.0 387.3,343.6 387.9,343.2 389.1,345.6 390.0,347.3 391.3,349.3 391.8,348.5 392.7,345.7 393.6,341.4 394.5,337.9 395.0,337.5 396.3,340.3 397.2,343.1 398.1,347.4 399.0,349.9 399.8,350.7 400.8,348.9 401.7,344.4 402.6,339.9 403.5,336.1 404.5,334.1 405.3,334.8 406.2,338.4 407.1,341.9 408.0,345.4 408.9,347.5 409.4,348.1 410.7,347.0 411.6,345.9 412.5,344.3 413.4,343.4 414.2,342.9 415.2,343.6 416.1,344.2 417.0,346.6 417.9,347.8 418.8,348.3 419.3,348.5 420.6,345.1 421.5,341.3 422.4,337.8 423.2,336.6 424.2,339.3 425.1,345.5 426.0,353.0 426.9,358.8 427.8,361.2 428.7,359.4 429.6,352.9 430.5,343.9 431.4,334.5 432.3,327.5 433.4,324.4 434.1,326.7 435.0,334.8 435.9,346.6 436.8,358.4 437.7,366.9 438.4,369.3 439.5,363.6 440.4,351.8 441.3,338.4 442.2,326.9 443.4,320.1 444.0,322.3 444.9,332.7 445.8,348.6 446.7,362.2 447.8,369.7 448.5,366.7 449.4,357.3 450.3,342.8 451.2,328.4 452.1,319.2 452.7,317.1 453.9,327.5 454.8,343.7 455.7,360.5 456.8,369.3 457.5,366.3 458.4,356.2 459.3,342.1 460.2,327.7 461.3,321.6 462.0,324.7 462.9,334.9 463.8,348.8 464.7,358.8 465.4,362.0 466.5,355.6 467.4,344.0 468.3,333.5 469.0,330.7 470.1,338.4 471.0,350.8 471.9,360.9 472.4,362.0 473.7,351.5 474.6,337.6 475.5,323.4 476.5,317.6 477.3,322.7 478.2,338.9 479.1,358.2 480.4,371.4 480.9,369.5 481.8,358.3 482.7,341.3 483.6,326.5 484.6,319.6 485.4,323.5 486.3,335.1 487.2,349.5 488.5,359.5 489.0,359.1 489.9,354.9 490.8,348.3 491.7,341.6 492.6,336.8 493.4,334.9 494.4,336.2 495.3,339.6 496.2,344.1 497.1,348.8 498.0,352.8 498.9,355.6 499.5,356.1 500.7,352.0 501.6,345.7 502.5,339.0 503.4,333.9 504.1,332.4 505.2,336.4 506.1,343.2 507.0,350.9 508.3,356.1 508.8,355.4 509.7,351.2 510.6,345.6 511.5,339.4 512.6,336.6 513.3,338.0 514.2,342.3 515.1,348.4 516.0,354.2 517.2,357.5 517.8,356.8 518.7,351.0 519.6,342.5 520.5,335.1 521.6,331.5 522.3,333.3 523.2,340.9 524.1,350.4 525.0,357.8 525.8,360.4 526.8,356.5 527.7,346.2 528.6,335.7 529.5,328.2 530.1,326.4 531.3,331.6 532.2,340.6 533.1,349.9 534.0,356.8 534.6,357.8 535.8,352.5 536.7,345.6 537.6,337.3 538.5,334.6 539.4,336.6 540.3,341.1 541.2,345.8 542.3,349.0 543.0,348.2 543.9,344.0 544.8,339.4 545.7,337.5 546.6,339.4 547.5,345.3 548.4,350.3 549.1,351.4 550.2,349.2 551.1,345.5 552.0,341.4 553.3,339.1 553.8,339.3 554.7,340.7 555.6,344.2 556.5,346.2 557.5,347.6 558.3,347.4 559.2,345.9 560.1,344.9 561.0,343.2 561.9,342.4 562.8,341.8 563.5,341.2 564.6,342.3 565.5,344.3 566.4,347.5 567.3,348.6 568.6,350.7 569.1,350.4 570.0,347.5 570.9,343.5 571.8,340.4 572.8,338.3 573.6,339.8 574.5,343.6 575.4,349.2 576.7,352.2 577.2,351.5 578.1,349.6 579.0,345.9 579.9,342.9 580.8,341.7 581.7,342.8 582.6,343.7 583.8,345.1 584.4,344.4 585.3,343.2 586.4,342.2 587.1,343.0 588.0,347.0 588.9,351.0 589.8,352.7 590.7,351.1 591.6,346.5 592.5,340.8 593.4,337.2 594.0,336.6 595.2,341.0 596.1,346.7 597.0,352.1 597.7,354.1 598.8,351.4 599.7,345.8 600.6,340.9 601.6,338.3 602.4,339.0 603.3,341.9 604.2,344.9 605.1,348.7 605.9,349.3 606.9,347.6 607.8,342.8 608.7,340.2 609.3,339.1 610.5,341.4 611.4,345.3 612.7,348.1 613.2,348.2 614.1,346.8 615.0,345.9 615.9,345.1 616.8,343.2 617.8,342.9 618.6,343.1 619.5,344.6 620.4,346.1 621.3,347.7 622.2,348.1 622.8,348.5 624.0,347.3 624.9,346.3 625.8,344.9 626.7,343.2 627.9,342.5 628.5,342.7 629.4,343.6 630.3,344.4 631.2,346.4 632.5,346.8 633.0,346.7 633.9,345.2 634.8,343.3 635.6,342.5 636.6,344.2 637.5,346.1 638.4,348.4 639.0,348.5 640.2,346.5 641.1,342.9 642.0,339.8 643.2,337.5 643.8,337.9 644.7,340.2 645.6,342.9 646.5,345.4 647.8,348.1 648.3,347.1 649.2,345.5 650.1,342.0 651.0,338.9 651.6,338.1 652.8,340.4 653.7,343.0 654.6,345.8 655.3,346.3 656.4,345.7 657.3,343.6 658.2,341.8 658.7,341.7 660.0,343.2 660.9,345.7 661.8,347.2 662.5,347.5 663.6,347.1 664.5,345.6 665.4,343.8 666.3,342.4 667.2,341.1 667.8,340.8 669.0,342.1 669.9,344.1 670.8,346.2 671.7,348.2 672.5,348.8 673.5,347.5 674.4,345.7 675.3,341.7 676.2,340.3 676.7,340.0 678.0,342.4 678.9,346.3 679.8,349.1 680.8,350.3 681.6,349.2 682.5,345.4 683.4,342.1 684.5,340.5 685.2,340.6 686.1,343.9 687.0,347.0 688.3,349.2 688.8,349.1 689.7,347.6 690.6,345.3 691.5,343.5 692.4,341.9 693.0,341.7 694.2,342.9 695.1,343.9 696.0,345.4 696.9,346.8 697.8,347.5 698.3,347.5 699.6,346.3 700.5,343.8 701.4,341.5 702.3,340.0 703.3,339.2 704.1,340.1 705.0,342.4 705.9,346.1 707.2,348.8 707.7,348.1 708.6,345.9 709.5,342.3 710.8,339.5 711.3,339.6 712.2,342.5 713.1,345.9 714.0,349.2 715.0,350.8 715.8,349.7 716.7,346.4 717.6,342.1 718.8,339.5 719.4,340.1 720.3,342.9 721.2,346.4 722.1,348.8 722.8,349.7 723.9,347.8 724.8,344.4 725.7,342.0 726.7,340.5 727.5,341.1 728.4,342.6 729.3,344.2 730.0,344.7 731.1,343.5 732.0,342.3 732.9,340.5 733.8,339.2 734.7,338.8 735.6,339.5 736.5,340.6 737.4,342.4 738.3,344.2 739.2,345.4 740.0,346.2 741.0,345.1 741.9,343.2 742.8,342.0 743.3,341.7 744.6,342.3 745.5,343.8 746.4,344.3 747.3,344.9 748.3,345.5 749.1,345.0 750.0,343.4 751.2,342.0 751.8,342.1 752.7,343.3 753.6,344.0 754.5,345.3 755.4,346.3 756.2,346.7 757.2,346.2 758.1,344.8 759.0,344.0 759.9,341.9 760.8,340.8 761.7,339.5 762.5,339.2 763.5,340.1 764.4,342.1 765.3,344.4 766.2,347.2 767.5,348.3 768.0,348.8 768.9,346.3 769.8,344.1 770.7,341.1 771.6,338.6 772.5,337.8 773.4,339.0 774.3,341.7 775.2,346.1 776.1,349.5 777.0,350.8 777.9,350.3 778.8,347.6 779.7,344.7 780.6,341.3 781.5,339.4 782.2,338.8 783.3,339.2 784.2,340.0 785.1,341.4 786.0,342.5 786.9,343.8 787.8,344.4 788.7,345.3 789.2,345.3 790.5,344.7 791.4,343.6 792.3,341.9 793.2,340.6 794.2,340.0 795.0,340.7 795.9,343.1 796.8,345.6 797.7,347.7 798.6,349.9 799.5,350.5 800.4,349.1 801.3,345.5 802.2,341.8 803.1,338.9 803.8,337.5 804.9,339.0 805.8,341.4 806.7,344.4 807.6,346.7 808.8,348.3 809.4,348.0 810.3,346.4 811.2,344.4 812.1,342.8 812.8,342.5 813.9,343.4 814.8,343.6 815.8,344.2 816.6,343.4 817.5,342.0 818.3,341.7 819.3,343.3 820.2,346.2 821.1,349.0 822.0,351.7 822.5,352.0 823.8,349.8 824.7,345.2 825.6,340.3 826.5,336.6 827.8,334.2 828.3,335.0 829.2,339.0 830.1,346.1 831.0,351.9 832.0,354.5 832.8,353.5 833.7,349.5 834.6,345.4 835.5,340.0 836.4,336.8 837.0,336.3 838.2,338.9 839.1,342.6 840.0,347.0 840.9,351.0 842.0,353.3 842.7,352.4 843.6,348.7 844.5,343.1 845.4,339.9 846.2,338.3 847.2,338.9 848.1,341.3 849.0,343.9 849.9,346.0 850.8,347.3 851.3,347.8 852.6,346.8 853.5,345.3 854.4,344.3 855.0,344.2 856.2,344.9 857.1,344.9 858.0,344.8 858.9,344.7 859.8,344.2 860.7,343.0 861.7,343.3 862.5,343.8 863.4,344.2 864.3,345.2 865.2,346.8 866.3,347.2 867.0,346.8 867.9,344.2 868.8,341.7 870.0,340.0 870.6,340.5 871.5,342.8 872.4,347.2 873.3,349.9 873.8,350.0 875.1,346.9 876.0,342.7 876.9,339.4 877.8,337.5 878.7,338.3 879.6,342.0 880.5,344.9 881.4,347.4 882.0,348.2 883.2,346.9 884.1,343.1 885.0,340.4 886.3,338.2 886.8,338.3 887.7,341.2 888.6,343.7 889.5,347.4 890.8,349.2 891.3,349.2 892.2,347.9 893.1,345.6 894.0,343.4 894.9,341.9 895.5,341.7 896.7,342.5 897.6,344.1 898.5,345.5 899.4,346.8 900.3,347.5 901.2,347.2 902.1,345.5 903.0,344.2 903.9,342.1 905.0,341.2 905.7,341.6 906.6,342.8 907.5,343.6 908.4,345.2 909.2,345.8 910.2,345.6 911.1,344.0 912.0,343.9 912.5,343.2 913.8,343.5 915.0,344.6 915.6,344.4 916.5,343.0 917.5,342.8 918.3,342.8 919.2,343.5 920.0,344.5 921.0,343.8 921.9,343.3 922.5,343.0 923.7,342.2 924.6,341.5 925.3,341.2 926.4,341.6 927.3,342.7 928.2,343.9 929.5,344.5 930.0,344.5 930.9,343.6 931.8,343.0 933.0,342.7 933.6,342.7 934.5,343.1 935.4,342.9 936.0,343.4 937.2,343.1 938.1,343.2 939.0,342.8 939.9,342.7 940.8,343.2 942.0,343.8 942.6,344.0 943.5,344.7 944.4,345.1 945.0,345.0 946.2,344.8 947.1,344.5 948.0,344.4 948.9,343.2 949.8,343.2 950.7,342.9 951.7,342.5 952.5,342.5 953.4,344.2 954.3,345.3 955.0,346.2 956.1,345.5 957.0,344.6 957.9,343.8 958.5,343.5 959.7,343.3 960.6,344.3 961.5,344.2 962.4,344.0 963.3,344.0 964.2,344.0 965.0,343.4 966.0,343.7 966.9,346.1 967.8,347.0 968.7,346.3 969.6,346.6 970.5,345.7 971.0,345.4 972.3,346.0 973.2,346.4 974.0,346.4 975.0,346.6 975.9,346.1 977.0,345.6 977.7,345.9 978.6,346.1 979.5,346.6 980.0,346.6 981.3,346.0 982.2,345.2 983.0,345.4 984.0,345.8 984.9,346.3 986.0,346.5 986.7,346.0 987.6,345.9 988.5,345.1 989.0,345.0 990.3,345.1 991.2,344.7 992.0,344.6 993.0,344.3 993.9,343.8 995.0,344.2 995.7,343.7 996.6,343.3 997.5,343.2 998.7,342.8 999.3,342.8 1000.2,343.8 1001.1,345.2 1002.0,346.8 1003.3,347.2 1003.8,346.6 1004.7,346.5 1005.6,345.0 1006.5,343.7 1007.0,343.7 1008.3,345.1 1009.2,346.7 1010.1,346.2 1011.0,345.0 1011.9,343.8 1012.8,343.3 1013.7,343.5 1014.6,344.5 1015.5,346.6 1016.7,347.2 1017.3,346.5 1018.2,345.6 1019.1,343.3 1020.0,341.8 1020.8,341.3 1021.8,342.5 1022.7,344.7 1023.6,347.6 1024.5,349.1 1025.0,349.5 1026.3,347.5 1027.2,344.6 1028.1,343.6 1028.8,342.5 1029.9,342.9 1030.8,343.6 1032.0,344.2 1032.6,343.8 1033.5,343.5 1034.4,343.4 1035.0,343.4 1036.2,343.8 1037.1,344.0 1038.0,344.6 1038.9,344.5 1039.8,343.9 1041.0,343.8 1041.6,344.0 1042.5,344.7 1043.4,345.4 1044.3,346.2 1045.2,346.3 1046.1,347.2 1046.7,347.2 1047.9,346.8 1048.8,345.1 1049.7,343.0 1050.6,341.7 1051.5,341.1 1052.2,340.5 1053.3,341.5 1054.2,343.2 1055.1,345.4 1056.0,346.9 1056.7,347.8 1057.8,347.3 1058.7,345.4 1060.0,344.4 1060.5,344.6 1061.4,345.2 1062.3,345.2 1063.0,345.6 1064.1,345.4 1065.0,344.2 1066.0,343.8 1066.8,344.4 1067.7,345.2 1069.0,346.0 1069.5,346.6 1070.4,345.4 1071.3,344.7 1072.0,344.0 1073.1,344.5 1074.0,345.9 1075.0,346.2 1075.8,346.0 1076.7,345.4 1078.0,344.4 1078.5,344.3 1079.4,345.3 1080.3,346.0 1081.0,346.4 1082.1,345.6 1083.0,345.0 1084.0,343.8 1084.8,343.9 1085.7,344.5 1087.0,345.0 1087.5,344.8 1088.4,346.0 1089.3,347.4 1090.2,349.5 1091.1,350.0 1092.0,350.5 1092.9,349.9 1093.8,347.8 1094.7,344.9 1095.6,341.3 1096.5,339.4 1097.5,338.3 1098.3,339.4 1099.2,342.7 1100.1,346.9 1101.0,350.6 1102.0,352.2 1102.8,350.7 1103.7,346.3 1104.6,340.8 1105.5,335.7 1106.7,332.8 1107.3,333.5 1108.2,337.6 1109.1,343.7 1110.0,348.6 1111.3,352.5 1111.8,352.0 1112.7,349.0 1113.6,343.7 1114.5,338.4 1115.8,335.4 1116.3,335.9 1117.2,339.4 1118.1,345.0 1119.0,349.7 1120.0,352.0 1120.8,350.9 1121.7,346.2 1122.6,340.9 1123.5,336.3 1124.2,335.5 1125.3,338.5 1126.2,344.4 1127.1,350.4 1128.3,353.8 1128.9,352.6 1129.8,348.5 1130.7,341.3 1131.6,336.0 1132.5,333.8 1133.4,336.6 1134.3,342.6 1135.2,349.4 1136.2,352.5 1137.0,351.0 1137.9,345.5 1138.8,338.8 1140.0,335.0 1140.6,336.2 1141.5,339.8 1142.4,345.6 1143.3,350.5 1144.2,352.5 1145.1,351.2 1146.0,347.8 1146.9,344.2 1147.8,342.2 1148.3,341.2 1149.6,344.5 1150.5,347.9 1151.7,350.5 1152.3,349.7 1153.2,347.9 1154.1,344.1 1155.0,342.5 1155.5,341.7 1156.8,342.9 1157.7,343.7 1158.6,345.0 1159.5,345.9 1160.0,346.2 1161.3,345.4 1162.2,345.0 1163.1,344.3 1164.0,343.3 1164.9,342.4 1166.2,342.0 1166.7,342.6 1167.6,342.7 1168.5,344.8 1169.4,345.4 1170.3,347.3 1171.2,347.8 1172.1,346.9 1173.0,345.0 1173.9,342.4 1175.0,341.3 1175.7,341.9 1176.6,342.5 1177.5,343.4 1178.4,343.9 1179.2,344.2 1180.2,345.5 1181.1,345.9 1182.0,346.9 1182.8,347.5 1183.8,347.2 1184.7,345.6 1186.0,344.6 1186.5,344.7 1187.4,344.7 1188.0,344.8 1189.2,346.7 1190.1,348.5 1190.8,349.5 1191.9,347.7 1192.8,344.8 1193.7,342.2 1195.0,340.0 1195.5,339.9 1196.4,342.5 1197.3,345.0 1198.2,347.1 1198.8,347.8 1200.0,347.1 1200.9,345.3 1201.8,343.4 1202.8,342.2 1203.6,342.0 1204.5,342.8 1205.4,345.0 1206.3,345.4 1207.2,346.9 1208.3,347.5 1209.0,347.2 1209.9,346.8 1210.8,345.3 1211.7,345.1 1212.5,344.7 1213.5,344.8 1214.4,344.8 1215.3,345.4 1216.2,345.8 1216.7,345.8 1218.0,345.5 1218.9,347.1 1220.0,347.5 1220.7,346.8 1221.6,345.8 1222.5,344.2 1223.4,342.4 1224.2,342.2 1225.2,343.0 1226.1,344.6 1227.0,345.4 1228.3,346.7 1228.8,346.2 1229.7,345.5 1230.6,344.5 1231.5,343.4 1232.8,342.5 1233.3,342.6 1234.2,343.2 1235.1,344.6 1236.0,344.8 1236.9,345.1 1237.5,345.8 1238.7,345.8 1239.6,344.0 1240.5,343.1 1241.4,342.0 1242.0,342.0 1243.2,343.2 1244.1,344.8 1245.0,346.9 1246.2,347.8 1246.8,347.3 1247.7,346.1 1248.6,344.9 1249.5,342.5 1250.8,341.7 1251.3,341.5 1252.2,343.4 1253.1,344.3 1254.0,345.3 1254.5,345.8 1255.8,344.8 1256.7,342.5 1257.6,341.2 1258.3,340.8 1259.4,341.2 1260.3,342.5 1261.2,343.9 1262.5,344.2 1263.0,344.1 1263.9,343.3 1264.8,342.5 1265.8,342.2 1266.6,342.5 1267.5,344.8 1268.8,346.2 1269.3,345.6 1270.2,344.8 1271.1,342.8 1272.0,341.5 1272.8,340.8 1273.8,341.3 1274.7,343.3 1275.6,345.0 1276.5,346.7 1277.2,347.0 1278.3,346.2 1279.2,344.2 1280.1,343.4 1281.0,342.0 1281.7,341.2 1282.8,342.3 1283.7,343.4 1284.6,345.6 1285.5,346.5 1286.2,346.7 1287.3,346.0 1288.2,345.1 1289.1,344.4 1290.0,343.0 1290.9,342.1 1291.7,341.7 1292.7,342.5 1293.6,344.0 1294.5,346.2 1295.4,347.8 1296.7,348.8 1297.2,348.4 1298.1,347.1 1299.0,345.6 1299.9,342.7 1300.8,342.0 1301.7,341.3 1302.6,341.8 1303.5,343.7 1304.4,345.4 1305.3,346.4 1305.8,346.7 1307.1,345.3 1308.0,343.8 1308.9,341.7 1309.8,340.7 1310.3,340.5 1311.6,341.4 1312.5,343.0 1313.4,344.0 1314.3,345.1 1315.0,345.5 1316.1,344.8 1317.0,343.7 1317.9,342.6 1319.2,341.3 1319.7,341.9 1320.6,342.2 1321.5,342.8 1322.4,343.7 1323.0,343.6 1324.2,343.3 1325.1,343.2 1326.0,342.9 1326.9,343.3 1327.8,343.8 1329.0,343.7 1329.6,343.1 1330.5,343.0 1331.4,343.3 1332.0,343.0 1333.2,343.1 1334.1,343.7 1335.0,343.4 1335.9,343.3 1336.8,342.4 1337.7,342.1 1338.6,341.9 1339.5,341.2 1340.4,341.6 1341.3,341.9 1342.2,342.6 1343.3,343.0 1344.0,342.8 1344.9,342.8 1345.8,343.0 1347.0,342.4 1347.6,342.4 1348.5,342.0 1349.4,342.2 1350.3,342.6 1351.2,342.3 1351.7,342.2 1352.5,342.3" fill="none" stroke="#00ff00" stroke-width="1" stroke-linejoin="round" clip-path="url(#c2)"/>
<polyline points="88.5,746.0 88.9,745.9 89.3,745.9 89.6,745.8 90.0,745.8 90.4,745.6 90.8,745.9 91.2,745.8 91.5,745.9 91.9,746.1 92.3,746.3 92.7,746.0 93.1,745.7 93.4,745.5 93.8,745.3 94.2,744.9 94.6,744.9 95.0,744.9 95.3,745.1 95.7,745.4 96.1,745.6 96.5,746.2 96.9,745.9 97.2,745.1 97.6,744.8 98.0,744.1 98.4,743.8 98.8,743.8 99.1,743.7 99.5,743.8 99.9,744.2 100.3,744.7 100.7,745.5 101.0,745.8 101.4,744.8 101.8,744.1 102.2,743.2 102.6,742.6 102.9,742.2 103.3,742.1 103.7,741.9 104.1,742.4 104.5,743.0 104.8,744.2 105.2,745.5 105.6,745.1 106.0,743.4 106.4,742.1 106.7,740.6 107.1,739.5 107.5,738.9 107.9,738.7 108.3,739.1 108.6,739.9 109.0,741.0 109.4,742.7 109.8,744.5 110.2,742.8 110.5,740.5 110.9,737.8 111.3,735.7 111.7,734.1 112.1,732.8 112.4,732.6 112.8,733.4 113.2,735.1 113.6,737.6 114.0,741.4 114.3,744.9 114.7,739.5 115.1,734.5 115.5,729.3 115.9,724.9 116.2,721.4 116.6,720.0 117.0,719.9 117.4,722.0 117.8,726.2 118.1,731.9 118.5,739.2 118.9,740.5 119.3,731.5 119.7,722.1 120.0,713.9 120.4,707.0 120.8,702.7 121.2,701.2 121.6,702.5 121.9,707.5 122.3,715.6 122.7,726.5 123.1,739.8 123.5,734.5 123.8,719.1 124.2,705.2 124.6,693.0 125.0,684.0 125.4,678.6 125.7,677.8 126.1,681.9 126.5,690.3 126.9,702.9 127.3,718.5 127.6,736.1 128.0,721.4 128.4,702.6 128.8,685.6 129.2,671.6 129.5,661.6 129.9,657.0 130.3,658.2 130.7,665.4 131.1,678.5 131.4,696.7 131.8,719.5 132.2,739.4 132.6,712.8 133.0,686.8 133.3,664.7 133.7,647.4 134.1,636.7 134.5,633.3 134.9,637.7 135.2,648.9 135.6,665.7 136.0,687.4 136.4,711.9 136.8,728.5 137.1,702.7 137.5,677.8 137.9,656.1 138.3,639.1 138.7,628.6 139.0,626.4 139.4,633.7 139.8,651.2 140.2,678.5 140.6,714.7 140.9,722.3 141.3,680.2 141.7,642.8 142.1,615.2 142.5,600.1 142.8,598.6 143.2,610.7 143.6,635.3 144.0,670.2 144.4,711.4 144.7,690.8 145.1,647.4 145.5,608.8 145.9,579.7 146.3,562.7 146.6,559.0 147.0,568.3 147.4,590.8 147.8,626.7 148.2,675.0 148.5,733.1 148.9,670.3 149.3,606.4 149.7,548.6 150.1,503.0 150.4,475.7 150.8,471.0 151.2,491.4 151.6,535.1 152.0,597.2 152.3,668.6 152.7,693.7 153.1,628.5 153.5,576.7 153.9,541.8 154.2,525.6 154.6,525.8 155.0,541.0 155.4,569.1 155.8,607.4 156.1,652.0 156.5,700.5 156.9,725.3 157.3,678.7 157.7,636.2 158.0,600.1 158.4,572.4 158.8,554.4 159.2,547.8 159.6,553.6 159.9,572.2 160.3,602.9 160.7,642.9 161.1,690.2 161.5,723.4 161.8,673.4 162.2,627.8 162.6,589.6 163.0,561.9 163.4,546.2 163.7,543.7 164.1,552.3 164.5,572.6 164.9,603.6 165.3,644.9 165.6,694.8 166.0,722.4 166.4,663.1 166.8,605.9 167.2,555.1 167.5,514.6 167.9,488.7 168.3,479.7 168.7,488.7 169.1,514.1 169.4,553.2 169.8,603.2 170.2,658.6 170.6,715.6 171.0,688.5 171.3,641.0 171.7,602.0 172.1,573.0 172.5,555.0 172.9,547.6 173.2,550.5 173.6,563.6 174.0,585.4 174.4,614.4 174.8,648.8 175.1,685.8 175.5,723.9 175.9,718.8 176.3,685.0 176.7,655.1 177.0,630.5 177.4,611.6 177.8,599.1 178.2,593.6 178.6,594.9 178.9,604.1 179.3,620.3 179.7,643.1 180.1,670.7 180.5,702.3 180.8,733.3 181.2,700.0 181.6,667.6 182.0,638.7 182.4,615.0 182.7,598.1 183.1,588.9 183.5,588.5 183.9,596.6 184.3,613.8 184.6,639.3 185.0,671.9 185.4,709.8 185.8,727.5 186.2,685.4 186.5,646.3 186.9,612.8 187.3,588.0 187.7,573.1 188.1,569.3 188.4,576.2 188.8,592.4 189.2,617.5 189.6,649.0 190.0,685.3 190.3,724.2 190.7,700.8 191.1,663.3 191.5,629.8 191.9,602.1 192.2,582.3 192.6,572.0 193.0,572.8 193.4,584.5 193.8,607.2 194.1,638.7 194.5,677.1 194.9,720.0 195.3,711.8 195.7,671.1 196.0,636.0 196.4,609.4 196.8,593.2 197.2,588.4 197.6,595.9 197.9,616.0 198.3,646.6 198.7,684.4 199.1,724.8 199.5,692.2 199.8,658.5 200.2,633.5 200.6,619.0 201.0,615.7 201.4,623.0 201.7,639.4 202.1,663.7 202.5,693.4 202.9,725.8 203.3,722.6 203.6,693.5 204.0,669.8 204.4,653.3 204.8,645.1 205.2,645.0 205.5,652.2 205.9,666.2 206.3,685.0 206.7,706.9 207.1,729.6 207.4,724.2 207.8,705.1 208.2,689.5 208.6,678.8 209.0,673.4 209.3,673.4 209.7,678.5 210.1,688.1 210.5,701.2 210.9,716.6 211.2,733.4 211.6,736.0 212.0,721.7 212.4,710.0 212.8,701.5 213.1,696.3 213.5,695.0 213.9,697.0 214.3,701.9 214.7,709.6 215.0,718.6 215.4,729.1 215.8,739.8 216.2,731.4 216.6,722.4 216.9,715.0 217.3,709.2 217.7,706.1 218.1,705.4 218.5,707.2 218.8,711.4 219.2,717.8 219.6,725.7 220.0,734.7 220.4,742.5 220.7,733.0 221.1,724.4 221.5,717.7 221.9,712.3 222.3,709.2 222.6,708.4 223.0,710.2 223.4,713.9 223.8,719.4 224.2,726.1 224.5,733.9 224.9,740.5 225.3,732.9 225.7,726.2 226.1,721.1 226.4,717.8 226.8,716.8 227.2,717.5 227.6,720.1 228.0,724.0 228.3,728.8 228.7,733.9 229.1,739.1 229.5,744.3 229.9,740.3 230.2,735.6 230.6,731.8 231.0,729.0 231.4,727.1 231.8,726.4 232.1,727.1 232.5,728.6 232.9,730.8 233.3,734.1 233.7,738.0 234.0,741.9 234.4,741.5 234.8,736.6 235.2,731.3 235.6,726.9 235.9,722.8 236.3,720.3 236.7,719.1 237.1,719.0 237.5,721.1 237.8,724.5 238.2,729.9 238.6,736.5 239.0,743.2 239.4,733.7 239.7,724.1 240.1,715.2 240.5,707.9 240.9,702.6 241.3,699.8 241.6,699.5 242.0,702.0 242.4,706.7 242.8,713.2 243.2,721.3 243.5,730.6 243.9,730.3 244.3,719.7 244.7,709.6 245.1,700.8 245.4,693.8 245.8,689.1 246.2,687.4 246.6,688.7 247.0,693.2 247.3,700.3 247.7,710.3 248.1,722.1 248.5,735.2 248.9,724.0 249.2,712.1 249.6,701.8 250.0,693.7 250.4,688.6 250.8,686.5 251.1,687.9 251.5,692.6 251.9,700.3 252.3,710.1 252.7,721.5 253.0,729.6 253.4,717.7 253.8,707.1 254.2,698.3 254.6,692.4 254.9,689.8 255.3,690.3 255.7,694.3 256.1,700.9 256.5,710.0 256.8,720.6 257.2,732.6 257.6,729.3 258.0,718.1 258.4,708.5 258.7,700.8 259.1,695.7 259.5,693.5 259.9,694.6 260.3,698.6 260.6,705.0 261.0,713.7 261.4,723.7 261.8,734.7 262.2,729.1 262.5,718.4 262.9,709.7 263.3,702.6 263.7,697.8 264.1,696.3 264.4,697.8 264.8,702.5 265.2,710.1 265.6,720.0 266.0,731.2 266.3,734.3 266.7,723.2 267.1,713.4 267.5,706.0 267.9,701.0 268.2,699.3 268.6,700.4 269.0,704.0 269.4,710.3 269.8,718.0 270.1,727.1 270.5,733.0 270.9,723.6 271.3,715.0 271.7,707.8 272.0,702.6 272.4,700.2 272.8,700.3 273.2,703.2 273.6,709.0 273.9,717.2 274.3,727.2 274.7,738.1 275.1,732.4 275.5,723.0 275.8,715.1 276.2,709.5 276.6,706.6 277.0,706.2 277.4,708.3 277.7,713.0 278.1,719.6 278.5,727.2 278.9,735.4 279.3,738.6 279.6,732.0 280.0,726.6 280.4,722.7 280.8,720.1 281.2,719.5 281.5,720.8 281.9,723.6 282.3,727.9 282.7,732.8 283.1,738.5 283.4,743.9 283.8,741.8 284.2,737.9 284.6,735.1 285.0,733.1 285.3,732.5 285.7,732.9 286.1,734.4 286.5,736.3 286.9,738.6 287.2,741.2 287.6,743.4 288.0,748.6 288.4,743.8 288.8,742.2 289.1,741.1 289.5,740.1 289.9,739.4 290.3,739.4 290.7,739.3 291.0,740.0 291.4,741.1 291.8,742.4 292.2,747.9 292.6,745.4 292.9,743.1 293.3,740.4 293.7,737.4 294.1,733.7 294.5,730.7 294.8,728.4 295.2,728.0 295.6,728.9 296.0,731.0 296.4,734.8 296.7,739.6 297.1,740.3 297.5,734.0 297.9,727.6 298.3,722.2 298.6,717.7 299.0,715.0 299.4,714.5 299.8,715.7 300.2,719.4 300.5,725.0 300.9,732.2 301.3,741.1 301.7,739.8 302.1,731.0 302.4,722.9 302.8,716.5 303.2,711.9 303.6,709.7 304.0,710.2 304.3,712.7 304.7,717.2 305.1,723.7 305.5,731.3 305.9,739.2 306.2,737.3 306.6,729.3 307.0,722.3 307.4,716.7 307.8,713.1 308.1,711.1 308.5,712.0 308.9,714.8 309.3,719.5 309.7,726.2 310.0,734.0 310.4,742.6 310.8,739.2 311.2,730.9 311.6,723.6 311.9,718.3 312.3,714.3 312.7,712.7 313.1,713.2 313.5,715.9 313.8,719.9 314.2,726.0 314.6,733.1 315.0,740.8 315.4,736.3 315.7,728.1 316.1,720.8 316.5,714.9 316.9,710.6 317.3,708.3 317.6,708.3 318.0,711.2 318.4,716.2 318.8,723.5 319.2,732.4 319.5,742.5 319.9,735.9 320.3,725.4 320.7,715.8 321.1,708.1 321.4,703.0 321.8,700.5 322.2,700.8 322.6,703.9 323.0,709.9 323.3,718.2 323.7,727.6 324.1,738.2 324.5,729.9 324.9,719.3 325.2,709.8 325.6,701.9 326.0,696.7 326.4,694.2 326.8,695.2 327.1,699.1 327.5,706.5 327.9,716.8 328.3,729.4 328.7,743.1 329.0,729.8 329.4,716.9 329.8,705.4 330.2,696.6 330.6,690.9 330.9,688.8 331.3,690.5 331.7,696.0 332.1,704.6 332.5,715.7 332.8,728.7 333.2,740.1 333.6,726.3 334.0,713.5 334.4,702.5 334.7,694.2 335.1,689.3 335.5,687.8 335.9,690.5 336.3,696.8 336.6,706.6 337.0,718.7 337.4,732.9 337.8,739.4 338.2,725.3 338.5,712.9 338.9,702.5 339.3,695.3 339.7,691.2 340.1,691.1 340.4,694.8 340.8,701.2 341.2,710.6 341.6,722.2 342.0,734.5 342.3,735.5 342.7,723.4 343.1,713.1 343.5,705.0 343.9,699.4 344.2,697.0 344.6,698.2 345.0,702.0 345.4,709.1 345.8,718.4 346.1,729.1 346.5,740.8 346.9,734.8 347.3,724.2 347.7,715.5 348.0,709.2 348.4,705.6 348.8,704.8 349.2,707.0 349.6,711.1 349.9,717.7 350.3,725.4 350.7,733.8 351.1,740.3 351.5,732.3 351.8,725.2 352.2,720.0 352.6,716.4 353.0,714.9 353.4,715.5 353.7,718.3 354.1,722.7 354.5,728.6 354.9,735.4 355.3,742.1 355.6,741.1 356.0,735.4 356.4,730.8 356.8,727.5 357.2,726.1 357.5,726.3 357.9,727.5 358.3,729.9 358.7,733.5 359.1,737.5 359.4,741.5 359.8,744.2 360.2,741.0 360.6,738.2 361.0,736.3 361.3,735.3 361.7,735.2 362.1,736.2 362.5,737.6 362.9,739.7 363.2,741.6 363.6,743.9 364.0,745.7 364.4,745.0 364.8,743.8 365.1,743.2 365.5,742.7 365.9,742.6 366.3,742.3 366.7,741.3 367.0,740.3 367.4,740.1 367.8,740.8 368.2,743.6 368.6,742.1 368.9,736.0 369.3,729.2 369.7,723.0 370.1,717.6 370.5,714.0 370.8,712.6 371.2,714.6 371.6,719.1 372.0,727.2 372.4,737.8 372.7,737.8 373.1,723.4 373.5,709.8 373.9,697.8 374.3,688.7 374.6,683.4 375.0,682.4 375.4,686.8 375.8,695.9 376.2,709.0 376.5,725.7 376.9,725.2 377.3,704.7 377.7,684.8 378.1,667.5 378.4,654.7 378.8,648.1 379.2,648.8 379.6,657.9 380.0,674.9 380.3,699.4 380.7,729.6 381.1,720.1 381.5,686.3 381.9,655.1 382.2,630.0 382.6,613.3 383.0,606.7 383.4,611.0 383.8,627.9 384.1,656.0 384.5,693.4 384.9,719.0 385.3,673.9 385.7,631.2 386.0,595.5 386.4,571.4 386.8,561.0 387.2,565.3 387.6,582.8 387.9,613.1 388.3,653.3 388.7,701.3 389.1,718.3 389.5,666.4 389.8,619.4 390.2,580.8 390.6,553.4 391.0,538.4 391.4,537.1 391.7,548.9 392.1,571.4 392.5,602.3 392.9,639.9 393.3,681.0 393.6,708.0 394.0,665.6 394.4,625.3 394.8,590.7 395.2,564.5 395.5,549.0 395.9,547.8 396.3,563.8 396.7,597.9 397.1,648.8 397.4,710.0 397.8,700.5 398.2,646.8 398.6,607.2 399.0,584.6 399.3,578.6 399.7,586.4 400.1,604.9 400.5,631.4 400.9,662.9 401.2,696.1 401.6,724.4 402.0,694.3 402.4,667.3 402.8,645.6 403.1,630.0 403.5,621.4 403.9,620.8 404.3,628.4 404.7,643.1 405.0,664.5 405.4,689.6 405.8,717.2 406.2,736.8 406.6,711.4 406.9,689.9 407.3,673.2 407.7,661.5 408.1,655.8 408.5,656.5 408.8,662.9 409.2,674.2 409.6,689.6 410.0,707.7 410.4,727.1 410.7,728.0 411.1,709.0 411.5,691.6 411.9,677.6 412.3,667.3 412.6,662.1 413.0,662.7 413.4,668.6 413.8,680.0 414.2,696.3 414.5,715.7 414.9,738.0 415.3,724.1 415.7,702.7 416.1,683.7 416.4,669.1 416.8,659.6 417.2,656.3 417.6,658.5 418.0,667.0 418.3,680.0 418.7,697.3 419.1,717.3 419.5,733.3 419.9,710.6 420.2,689.0 420.6,670.6 421.0,656.5 421.4,647.8 421.8,645.9 422.1,651.1 422.5,662.9 422.9,680.2 423.3,702.3 423.7,727.0 424.0,724.6 424.4,700.4 424.8,679.1 425.2,662.6 425.6,651.8 425.9,647.3 426.3,649.0 426.7,656.6 427.1,669.6 427.5,686.3 427.8,706.4 428.2,727.3 428.6,711.7 429.0,693.3 429.4,677.6 429.7,666.6 430.1,660.3 430.5,659.4 430.9,664.2 431.3,673.6 431.6,687.4 432.0,704.8 432.4,723.7 432.8,734.4 433.2,716.2 433.5,700.6 433.9,689.0 434.3,681.2 434.7,678.5 435.1,679.9 435.4,685.6 435.8,694.6 436.2,706.3 436.6,719.1 437.0,732.2 437.3,730.1 437.7,720.1 438.1,711.9 438.5,706.2 438.9,703.1 439.2,702.7 439.6,704.6 440.0,708.6 440.4,714.8 440.8,722.5 441.1,732.1 441.5,740.8 441.9,731.1 442.3,722.0 442.7,714.4 443.0,708.7 443.4,705.6 443.8,704.9 444.2,706.8 444.6,710.8 444.9,717.0 445.3,724.4 445.7,732.7 446.1,734.3 446.5,725.6 446.8,717.8 447.2,710.5 447.6,704.4 448.0,700.5 448.4,698.8 448.7,700.1 449.1,704.8 449.5,712.7 449.9,723.4 450.3,736.2 450.6,726.3 451.0,713.2 451.4,701.9 451.8,692.7 452.2,686.5 452.5,684.4 452.9,685.4 453.3,690.6 453.7,698.6 454.1,709.6 454.4,722.2 454.8,727.8 455.2,714.8 455.6,702.7 456.0,692.6 456.3,685.2 456.7,681.4 457.1,681.2 457.5,684.5 457.9,691.7 458.2,701.9 458.6,714.5 459.0,728.4 459.4,725.8 459.8,712.3 460.1,700.4 460.5,691.2 460.9,685.5 461.3,683.4 461.7,685.4 462.0,690.9 462.4,699.4 462.8,709.9 463.2,721.9 463.6,732.8 463.9,721.5 464.3,710.9 464.7,702.7 465.1,696.3 465.5,693.0 465.8,692.5 466.2,695.3 466.6,701.1 467.0,709.5 467.4,719.9 467.7,731.6 468.1,732.6 468.5,720.7 468.9,710.3 469.3,702.3 469.6,696.8 470.0,694.4 470.4,695.3 470.8,699.0 471.2,705.4 471.5,713.7 471.9,723.2 472.3,733.3 472.7,724.1 473.1,714.7 473.4,706.7 473.8,700.5 474.2,696.7 474.6,695.9 475.0,698.0 475.3,702.9 475.7,710.3 476.1,720.0 476.5,731.2 476.9,732.2 477.2,721.2 477.6,711.7 478.0,704.0 478.4,699.1 478.8,696.5 479.1,696.9 479.5,700.1 479.9,705.7 480.3,712.8 480.7,721.6 481.0,730.3 481.4,725.2 481.8,716.5 482.2,709.5 482.6,704.0 482.9,700.4 483.3,699.4 483.7,701.1 484.1,705.5 484.5,712.0 484.8,720.6 485.2,730.5 485.6,735.9 486.0,725.5 486.4,716.2 486.7,709.2 487.1,704.1 487.5,702.0 487.9,702.2 488.3,705.5 488.6,711.2 489.0,718.4 489.4,726.4 489.8,735.4 490.2,730.8 490.5,722.9 490.9,716.4 491.3,711.4 491.7,708.1 492.1,707.0 492.4,708.7 492.8,712.1 493.2,717.8 493.6,725.1 494.0,733.8 494.3,737.9 494.7,729.6 495.1,722.3 495.5,716.3 495.9,712.4 496.2,710.4 496.6,711.1 497.0,714.1 497.4,718.5 497.8,725.0 498.1,732.3 498.5,739.9 498.9,736.9 499.3,730.3 499.7,724.6 500.0,720.4 500.4,717.7 500.8,717.2 501.2,718.7 501.6,721.7 501.9,726.8 502.3,732.7 502.7,739.3 503.1,742.9 503.5,736.7 503.8,731.1 504.2,726.6 504.6,723.6 505.0,722.5 505.4,722.9 505.7,724.7 506.1,728.1 506.5,732.3 506.9,737.6 507.3,742.8 507.6,740.8 508.0,735.8 508.4,731.4 508.8,728.3 509.2,726.3 509.5,725.9 509.9,726.7 510.3,729.1 510.7,732.4 511.1,736.7 511.4,741.5 511.8,744.5 512.2,739.6 512.6,735.3 513.0,732.0 513.3,729.8 513.7,728.4 514.1,728.5 514.5,729.9 514.9,732.2 515.2,735.7 515.6,739.7 516.0,744.3 516.4,742.1 516.8,737.9 517.1,734.0 517.5,731.4 517.9,729.5 518.3,729.2 518.7,729.9 519.0,731.7 519.4,734.8 519.8,738.6 520.2,742.9 520.6,744.8 520.9,740.9 521.3,737.8 521.7,735.2 522.1,733.7 522.5,733.3 522.8,733.9 523.2,735.3 523.6,737.5 524.0,740.4 524.4,743.2 524.7,747.7 525.1,744.5 525.5,742.9 525.9,741.7 526.3,741.1 526.6,740.7 527.0,740.9 527.4,741.0 527.8,741.6 528.2,742.8 528.5,744.1 528.9,745.2 529.3,745.7 529.7,744.5 530.1,743.5 530.4,742.5 530.8,741.9 531.2,741.5 531.6,741.4 532.0,741.9 532.3,742.3 532.7,742.9 533.1,744.0 533.5,747.1 533.9,744.0 534.2,741.0 534.6,737.7 535.0,734.8 535.4,732.3 535.8,730.9 536.1,730.5 536.5,731.4 536.9,733.4 537.3,737.1 537.7,741.9 538.0,742.7 538.4,736.5 538.8,730.5 539.2,725.0 539.6,720.8 539.9,718.5 540.3,718.0 540.7,719.5 541.1,723.3 541.5,729.2 541.8,736.1 542.2,744.4 542.6,736.6 543.0,728.6 543.4,721.5 543.7,716.2 544.1,712.9 544.5,712.1 544.9,713.4 545.3,717.3 545.6,723.4 546.0,731.3 546.4,740.0 546.8,740.2 547.2,730.9 547.5,723.1 547.9,716.8 548.3,712.5 548.7,711.0 549.1,711.8 549.4,715.3 549.8,720.9 550.2,728.2 550.6,736.8 551.0,745.1 551.3,736.3 551.7,728.5 552.1,722.3 552.5,717.8 552.9,715.7 553.2,716.2 553.6,718.5 554.0,723.0 554.4,729.1 554.8,736.0 555.1,743.3 555.5,741.6 555.9,735.4 556.3,730.2 556.7,726.9 557.0,725.0 557.4,724.9 557.8,726.3 558.2,729.3 558.6,733.3 558.9,737.8 559.3,742.6 559.7,744.6 560.1,740.8 560.5,737.9 560.8,735.5 561.2,734.2 561.6,733.8 562.0,734.5 562.4,735.8 562.7,737.7 563.1,740.2 563.5,742.9 563.9,747.2 564.3,743.8 564.6,742.0 565.0,740.4 565.4,739.1 565.8,738.5 566.2,738.0 566.5,738.5 566.9,739.1 567.3,740.6 567.7,742.4 568.1,748.1 568.4,744.9 568.8,742.6 569.2,740.1 569.6,738.4 570.0,736.9 570.3,736.0 570.7,735.9 571.1,736.7 571.5,738.2 571.9,740.2 572.2,742.9 572.6,745.8 573.0,743.0 573.4,740.2 573.8,737.8 574.1,735.9 574.5,735.0 574.9,735.0 575.3,735.6 575.7,737.3 576.0,739.1 576.4,741.7 576.8,747.5 577.2,744.2 577.6,741.6 577.9,739.2 578.3,737.4 578.7,736.3 579.1,735.8 579.5,736.1 579.8,737.2 580.2,739.0 580.6,741.5 581.0,743.8 581.4,745.5 581.7,743.0 582.1,740.7 582.5,738.9 582.9,738.0 583.3,737.8 583.6,738.1 584.0,739.0 584.4,740.4 584.8,742.3 585.2,744.2 585.5,745.8 585.9,745.0 586.3,743.7 586.7,743.0 587.1,742.6 587.4,742.6 587.8,742.9 588.2,743.3 588.6,743.9 589.0,744.7 589.3,745.3 589.7,746.1 590.1,745.9 590.5,745.5 590.9,744.8 591.2,744.0 591.6,743.6 592.0,743.2 592.4,743.0 592.8,743.1 593.1,743.3 593.5,744.2 593.9,745.0 594.3,746.1 594.7,744.7 595.0,742.9 595.4,741.6 595.8,740.5 596.2,739.5 596.6,739.0 596.9,739.1 597.3,739.7 597.7,741.1 598.1,742.7 598.5,745.0 598.8,744.2 599.2,741.4 599.6,738.6 600.0,736.0 600.4,734.1 600.7,733.1 601.1,733.2 601.5,734.1 601.9,736.1 602.3,739.1 602.6,742.8 603.0,744.7 603.4,739.9 603.8,735.4 604.2,731.6 604.5,729.0 604.9,727.6 605.3,727.5 605.7,729.0 606.1,731.8 606.4,735.5 606.8,740.4 607.2,745.7 607.6,740.9 608.0,736.0 608.3,731.6 608.7,728.5 609.1,726.6 609.5,726.1 609.9,727.5 610.2,730.1 610.6,734.1 611.0,738.9 611.4,747.1 611.8,743.2 612.1,738.0 612.5,733.8 612.9,730.8 613.3,728.8 613.7,728.4 614.0,729.0 614.4,731.2 614.8,734.3 615.2,738.3 615.6,742.8 615.9,744.7 616.3,740.5 616.7,736.6 617.1,733.5 617.5,731.6 617.8,731.2 618.2,731.8 618.6,733.3 619.0,735.7 619.4,738.9 619.7,742.2 620.1,745.6 620.5,743.1 620.9,740.6 621.3,738.3 621.6,736.7 622.0,735.7 622.4,735.8 622.8,736.3 623.2,737.7 623.5,739.6 623.9,741.9 624.3,744.6 624.7,744.2 625.1,741.5 625.4,739.2 625.8,737.3 626.2,736.2 626.6,735.3 627.0,735.6 627.3,736.3 627.7,738.0 628.1,740.4 628.5,743.3 628.9,745.4 629.2,741.8 629.6,738.7 630.0,736.0 630.4,734.1 630.8,733.1 631.1,733.4 631.5,734.4 631.9,736.3 632.3,739.2 632.7,742.4 633.0,745.6 633.4,743.0 633.8,739.9 634.2,737.3 634.6,735.3 634.9,734.3 635.3,734.2 635.7,735.1 636.1,736.6 636.5,739.1 636.8,741.9 637.2,744.7 637.6,744.2 638.0,741.7 638.4,739.5 638.7,737.6 639.1,736.7 639.5,736.6 639.9,736.9 640.3,737.9 640.6,739.4 641.0,741.4 641.4,743.9 641.8,745.4 642.2,742.5 642.5,740.5 642.9,738.5 643.3,737.2 643.7,736.5 644.1,736.7 644.4,737.4 644.8,738.8 645.2,741.0 645.6,743.1 646.0,745.8 646.3,743.7 646.7,741.2 647.1,739.0 647.5,737.6 647.9,736.6 648.2,736.6 648.6,737.1 649.0,738.4 649.4,740.6 649.8,742.8 650.1,745.4 650.5,744.9 650.9,742.8 651.3,741.3 651.7,740.1 652.0,739.8 652.4,739.8 652.8,740.2 653.2,741.2 653.6,742.2 653.9,743.6 654.3,745.3 654.7,745.7 655.1,744.5 655.5,743.4 655.8,742.7 656.2,742.0 656.6,741.9 657.0,742.4 657.4,742.8 657.7,743.4 658.1,744.2 658.5,745.3 658.9,746.2 659.3,745.2 659.6,744.1 660.0,742.8 660.4,742.1 660.8,741.6 661.2,741.3 661.5,741.5 661.9,742.0 662.3,742.7 662.7,744.1 663.1,745.6 663.4,744.8 663.8,742.9 664.2,741.5 664.6,740.2 665.0,739.4 665.3,739.1 665.7,739.3 666.1,739.9 666.5,741.2 666.9,743.0 667.2,744.9 667.6,745.2 668.0,743.0 668.4,741.1 668.8,739.8 669.1,738.9 669.5,738.2 669.9,738.4 670.3,739.2 670.7,740.1 671.0,742.1 671.4,744.1 671.8,745.5 672.2,743.0 672.6,740.8 672.9,738.7 673.3,737.1 673.7,736.0 674.1,736.0 674.5,736.7 674.8,738.2 675.2,740.1 675.6,743.0 676.0,745.8 676.4,744.0 676.7,741.5 677.1,739.8 677.5,738.9 677.9,738.8 678.3,739.1 678.6,740.0 679.0,741.2 679.4,742.6 679.8,744.1 680.2,745.6 680.5,745.4 680.9,744.0 681.3,742.6 681.7,742.0 682.1,741.4 682.4,741.2 682.8,741.5 683.2,741.9 683.6,743.0 684.0,744.2 684.3,745.5 684.7,745.5 685.1,744.4 685.5,743.4 685.9,742.3 686.2,741.5 686.6,740.8 687.0,740.8 687.4,740.8 687.8,741.4 688.1,742.7 688.5,744.0 688.9,746.0 689.3,743.5 689.7,741.5 690.0,739.4 690.4,737.6 690.8,736.4 691.2,736.3 691.6,736.6 691.9,737.8 692.3,739.8 692.7,742.3 693.1,747.1 693.5,743.5 693.8,740.6 694.2,737.6 694.6,735.3 695.0,734.1 695.4,733.3 695.7,733.8 696.1,735.4 696.5,737.6 696.9,740.7 697.3,744.2 697.6,743.7 698.0,740.1 698.4,736.5 698.8,733.7 699.2,731.8 699.5,730.9 699.9,731.3 700.3,732.6 700.7,735.2 701.1,738.8 701.4,742.9 701.8,744.6 702.2,740.2 702.6,736.3 703.0,733.1 703.3,730.7 703.7,729.3 704.1,729.4 704.5,730.7 704.9,733.0 705.2,736.8 705.6,740.9 706.0,745.5 706.4,740.7 706.8,735.8 707.1,731.8 707.5,728.7 707.9,726.9 708.3,726.6 708.7,728.2 709.0,730.8 709.4,734.7 709.8,739.3 710.2,747.2 710.6,741.7 710.9,736.9 711.3,733.1 711.7,730.3 712.1,728.3 712.5,728.3 712.8,729.0 713.2,731.3 713.6,734.9 714.0,739.0 714.4,743.6 714.7,743.4 715.1,738.8 715.5,735.2 715.9,732.1 716.3,730.5 716.6,729.8 717.0,730.5 717.4,732.4 717.8,735.6 718.2,739.1 718.5,743.3 718.9,744.5 719.3,741.2 719.7,738.4 720.1,736.2 720.4,735.3 720.8,734.8 721.2,735.5 721.6,736.9 722.0,739.2 722.3,741.6 722.7,743.8 723.1,745.7 723.5,744.0 723.9,742.7 724.2,742.0 724.6,741.8 725.0,741.5 725.4,741.7 725.8,742.5 726.1,743.3 726.5,744.2 726.9,745.0 727.3,746.0 727.7,745.7 728.0,744.9 728.4,744.5 728.8,744.0 729.2,744.0 729.6,744.1 729.9,744.3 730.3,744.5 730.7,744.6 731.1,745.1 731.5,745.9 731.8,745.5 732.2,744.6 732.6,743.0 733.0,741.9 733.4,740.6 733.7,739.9 734.1,739.6 734.5,739.9 734.9,740.7 735.3,742.3 735.6,747.2 736.0,745.2 736.4,742.3 736.8,740.0 737.2,737.6 737.5,735.6 737.9,734.9 738.3,735.0 738.7,736.1 739.1,738.1 739.4,740.6 739.8,743.4 740.2,745.8 740.6,742.8 741.0,740.2 741.3,738.3 741.7,736.9 742.1,736.4 742.5,736.5 742.9,737.6 743.2,739.0 743.6,741.2 744.0,743.5 744.4,748.5 744.8,743.9 745.1,742.0 745.5,740.5 745.9,739.5 746.3,738.7 746.7,739.1 747.0,739.6 747.4,740.9 747.8,742.5 748.2,744.0 748.6,745.7 748.9,745.3 749.3,744.0 749.7,743.5 750.1,742.9 750.5,742.7 750.8,742.9 751.2,743.1 751.6,743.8 752.0,744.3 752.4,744.8 752.7,745.6 753.1,745.8 753.5,745.0 753.9,744.3 754.3,743.5 754.6,743.3 755.0,742.9 755.4,743.1 755.8,743.3 756.2,744.0 756.5,744.6 756.9,745.4 757.3,746.0 757.7,745.0 758.1,744.2 758.4,743.2 758.8,742.7 759.2,742.6 759.6,742.3 760.0,742.6 760.3,743.3 760.7,744.0 761.1,745.0 761.5,745.9 761.9,744.7 762.2,743.8 762.6,742.6 763.0,741.5 763.4,740.9 763.8,740.9 764.1,740.9 764.5,741.6 764.9,742.4 765.3,744.0 765.7,745.6 766.0,744.1 766.4,742.0 766.8,739.6 767.2,737.7 767.6,736.3 767.9,735.4 768.3,735.5 768.7,736.1 769.1,738.3 769.5,740.7 769.8,744.4 770.2,743.0 770.6,739.0 771.0,735.1 771.4,731.9 771.7,729.6 772.1,728.6 772.5,728.8 772.9,730.1 773.3,733.1 773.6,736.8 774.0,741.8 774.4,742.2 774.8,736.2 775.2,730.4 775.5,725.5 775.9,722.0 776.3,719.9 776.7,719.5 777.1,721.8 777.4,725.7 777.8,731.5 778.2,738.2 778.6,741.8 779.0,734.0 779.3,726.6 779.7,720.3 780.1,715.7 780.5,713.4 780.9,713.4 781.2,715.8 781.6,720.2 782.0,726.8 782.4,735.3 782.8,741.2 783.1,732.3 783.5,723.5 783.9,715.9 784.3,710.0 784.7,706.9 785.0,706.1 785.4,708.6 785.8,713.6 786.2,721.0 786.6,730.1 786.9,740.5 787.3,730.2 787.7,720.8 788.1,712.1 788.5,705.8 788.8,702.2 789.2,701.2 789.6,703.3 790.0,708.3 790.4,716.0 790.7,725.5 791.1,736.0 791.5,731.6 791.9,721.2 792.3,712.1 792.6,705.5 793.0,701.2 793.4,699.9 793.8,701.7 794.2,706.9 794.5,714.6 794.9,724.4 795.3,736.0 795.7,736.5 796.1,725.5 796.4,715.8 796.8,708.7 797.2,704.2 797.6,702.8 798.0,704.8 798.3,709.8 798.7,717.1 799.1,726.7 799.5,737.7 799.9,741.4 800.2,730.9 800.6,722.1 801.0,715.0 801.4,710.8 801.8,709.2 802.1,710.3 802.5,714.4 802.9,720.7 803.3,728.7 803.7,737.8 804.0,743.7 804.4,734.7 804.8,726.3 805.2,719.9 805.6,715.8 805.9,713.7 806.3,713.9 806.7,716.9 807.1,722.2 807.5,728.7 807.8,736.8 808.2,745.3 808.6,736.8 809.0,729.6 809.4,723.7 809.7,719.7 810.1,717.7 810.5,717.8 810.9,720.2 811.3,724.3 811.6,729.7 812.0,736.5 812.4,743.5 812.8,739.6 813.2,732.8 813.5,726.9 813.9,722.9 814.3,720.2 814.7,720.0 815.1,721.4 815.4,725.0 815.8,729.9 816.2,736.3 816.6,743.1 817.0,741.5 817.3,734.8 817.7,729.5 818.1,725.7 818.5,723.3 818.9,723.3 819.2,724.8 819.6,727.6 820.0,731.9 820.4,737.4 820.8,743.2 821.1,742.8 821.5,737.3 821.9,732.1 822.3,727.9 822.7,725.2 823.0,724.0 823.4,724.6 823.8,726.6 824.2,730.2 824.6,735.2 824.9,741.2 825.3,743.0 825.7,736.8 826.1,731.3 826.5,726.7 826.8,723.3 827.2,721.8 827.6,722.0 828.0,724.4 828.4,728.1 828.7,733.3 829.1,739.4 829.5,744.5 829.9,737.5 830.3,731.2 830.6,726.2 831.0,722.3 831.4,720.3 831.8,720.1 832.2,721.8 832.5,725.5 832.9,730.4 833.3,736.8 833.7,744.7 834.1,736.4 834.4,728.8 834.8,722.2 835.2,717.3 835.6,714.3 836.0,714.0 836.3,716.1 836.7,720.3 837.1,726.0 837.5,732.8 837.9,740.5 838.2,734.0 838.6,726.8 839.0,720.7 839.4,716.5 839.8,714.1 840.1,713.8 840.5,715.4 840.9,719.1 841.3,724.4 841.7,730.8 842.0,737.9 842.4,732.4 842.8,725.8 843.2,720.3 843.6,716.2 843.9,713.7 844.3,713.3 844.7,714.8 845.1,719.0 845.5,724.1 845.8,730.9 846.2,737.9 846.6,733.0 847.0,726.5 847.4,721.4 847.7,717.6 848.1,716.0 848.5,715.9 848.9,717.7 849.3,721.6 849.6,727.0 850.0,733.4 850.4,738.7 850.8,732.1 851.2,725.8 851.5,721.0 851.9,717.2 852.3,715.3 852.7,715.4 853.1,717.0 853.4,720.5 853.8,725.7 854.2,731.7 854.6,738.2 855.0,731.9 855.3,726.3 855.7,721.7 856.1,718.2 856.5,716.5 856.9,716.1 857.2,717.7 857.6,720.8 858.0,725.0 858.4,730.1 858.8,735.8 859.1,733.9 859.5,728.1 859.9,723.8 860.3,719.9 860.7,718.1 861.0,717.4 861.4,718.3 861.8,721.1 862.2,724.9 862.6,729.9 862.9,735.1 863.3,736.3 863.7,730.6 864.1,725.6 864.5,721.6 864.8,719.1 865.2,718.2 865.6,718.7 866.0,721.0 866.4,724.7 866.7,729.6 867.1,734.7 867.5,737.6 867.9,732.0 868.3,726.9 868.6,723.1 869.0,720.2 869.4,718.9 869.8,719.0 870.2,720.5 870.5,723.6 870.9,727.9 871.3,732.7 871.7,738.5 872.1,732.0 872.4,727.2 872.8,723.1 873.2,720.2 873.6,718.5 874.0,718.1 874.3,719.4 874.7,722.0 875.1,725.7 875.5,730.2 875.9,735.2 876.2,735.3 876.6,730.1 877.0,725.4 877.4,721.9 877.8,719.9 878.1,719.0 878.5,720.3 878.9,722.7 879.3,726.5 879.7,731.1 880.0,736.3 880.4,737.7 880.8,732.9 881.2,728.9 881.6,725.9 881.9,723.4 882.3,722.3 882.7,722.3 883.1,723.8 883.5,726.1 883.8,729.9 884.2,734.1 884.6,738.9 885.0,733.4 885.4,728.8 885.7,724.9 886.1,722.2 886.5,720.6 886.9,720.3 887.3,721.3 887.6,723.4 888.0,726.9 888.4,731.2 888.8,735.7 889.2,735.2 889.5,730.5 889.9,726.8 890.3,723.6 890.7,721.6 891.1,720.6 891.4,721.3 891.8,723.4 892.2,726.4 892.6,730.4 893.0,734.8 893.3,739.6 893.7,734.8 894.1,730.6 894.5,726.9 894.9,724.7 895.2,723.4 895.6,723.7 896.0,725.1 896.4,727.9 896.8,731.4 897.1,735.5 897.5,740.6 897.9,739.9 898.3,735.3 898.7,731.4 899.0,728.3 899.4,726.9 899.8,726.4 900.2,727.5 900.6,729.9 900.9,733.2 901.3,737.6 901.7,742.2 902.1,743.2 902.5,739.2 902.8,735.5 903.2,732.8 903.6,730.8 904.0,730.1 904.4,730.4 904.7,732.0 905.1,734.3 905.5,737.8 905.9,741.4 906.3,747.6 906.6,742.3 907.0,739.0 907.4,735.8 907.8,733.7 908.2,732.5 908.5,732.4 908.9,733.2 909.3,735.1 909.7,737.5 910.1,740.7 910.4,743.9 910.8,744.8 911.2,741.5 911.6,739.1 912.0,737.0 912.3,736.0 912.7,735.5 913.1,735.7 913.5,736.7 913.9,738.3 914.2,740.6 914.6,743.2 915.0,745.8 915.4,743.8 915.8,741.3 916.1,739.3 916.5,737.8 916.9,737.1 917.3,737.2 917.7,737.6 918.0,738.7 918.4,740.5 918.8,742.5 919.2,744.8 919.6,745.1 919.9,742.9 920.3,741.1 920.7,739.5 921.1,738.7 921.5,738.1 921.8,738.1 922.2,738.9 922.6,740.2 923.0,741.9 923.4,743.9 923.7,747.4 924.1,743.7 924.5,741.7 924.9,740.0 925.3,738.5 925.6,737.5 926.0,737.3 926.4,737.6 926.8,738.7 927.2,740.2 927.5,742.1 927.9,744.5 928.3,744.8 928.7,742.0 929.1,739.8 929.4,737.8 929.8,736.2 930.2,735.2 930.6,735.2 931.0,735.9 931.3,737.3 931.7,739.6 932.1,742.3 932.5,745.5 932.9,742.6 933.2,739.1 933.6,735.8 934.0,733.4 934.4,731.6 934.8,730.8 935.1,731.5 935.5,733.0 935.9,735.6 936.3,739.2 936.7,743.2 937.0,744.1 937.4,739.4 937.8,734.9 938.2,731.1 938.6,728.7 938.9,727.4 939.3,727.5 939.7,728.7 940.1,731.6 940.5,735.7 940.8,740.4 941.2,745.7 941.6,741.1 942.0,735.9 942.4,731.8 942.7,728.3 943.1,726.3 943.5,726.0 943.9,727.0 944.3,729.3 944.6,733.0 945.0,737.4 945.4,742.7 945.8,743.5 946.2,738.0 946.5,733.3 946.9,729.6 947.3,726.9 947.7,725.6 948.1,726.0 948.4,727.7 948.8,730.9 949.2,735.1 949.6,739.9 950.0,745.2 950.3,741.0 950.7,736.2 951.1,732.2 951.5,729.3 951.9,727.7 952.2,727.5 952.6,728.4 953.0,731.0 953.4,734.4 953.8,738.4 954.1,743.1 954.5,744.4 954.9,739.9 955.3,736.3 955.7,733.6 956.0,731.7 956.4,731.3 956.8,731.9 957.2,733.4 957.6,735.7 957.9,738.9 958.3,742.4 958.7,748.5 959.1,743.1 959.5,740.2 959.8,737.7 960.2,735.9 960.6,735.1 961.0,735.0 961.4,735.6 961.7,737.2 962.1,739.3 962.5,741.7 962.9,748.6 963.3,745.2 963.6,742.3 964.0,739.9 964.4,738.5 964.8,737.3 965.2,736.6 965.5,736.8 965.9,737.9 966.3,739.1 966.7,741.3 967.1,743.4 967.4,745.8 967.8,744.0 968.2,741.5 968.6,739.6 969.0,738.3 969.3,737.5 969.7,737.4 970.1,737.9 970.5,739.2 970.9,740.7 971.2,742.9 971.6,744.9 972.0,745.1 972.4,743.0 972.8,741.0 973.1,739.7 973.5,738.5 973.9,738.3 974.3,738.2 974.7,738.9 975.0,740.3 975.4,742.2 975.8,744.0 976.2,746.1 976.6,744.1 976.9,742.1 977.3,740.4 977.7,738.9 978.1,738.2 978.5,738.3 978.8,738.6 979.2,739.7 979.6,741.1 980.0,743.2 980.4,745.3 980.7,744.9 981.1,742.6 981.5,740.6 981.9,739.3 982.3,738.1 982.6,737.6 983.0,737.8 983.4,738.7 983.8,740.0 984.2,741.8 984.5,744.2 984.9,745.6 985.3,743.4 985.7,741.2 986.1,739.2 986.4,737.7 986.8,736.9 987.2,737.0 987.6,737.3 988.0,738.8 988.3,740.6 988.7,742.8 989.1,745.3 989.5,743.8 989.9,741.2 990.2,739.2 990.6,737.1 991.0,736.1 991.4,735.4 991.8,736.1 992.1,737.0 992.5,738.7 992.9,741.4 993.3,743.9 993.7,744.8 994.0,742.1 994.4,739.6 994.8,737.3 995.2,736.0 995.6,735.5 995.9,735.4 996.3,736.3 996.7,738.1 997.1,740.4 997.5,743.1 997.8,745.9 998.2,742.9 998.6,740.5 999.0,738.4 999.4,736.8 999.7,736.1 1000.1,736.4 1000.5,737.4 1000.9,738.5 1001.3,740.6 1001.6,742.9 1002.0,745.2 1002.4,744.7 1002.8,742.5 1003.2,741.0 1003.5,740.0 1003.9,739.7 1004.3,739.8 1004.7,740.4 1005.1,741.0 1005.4,742.3 1005.8,743.7 1006.2,745.1 1006.6,745.9 1007.0,744.2 1007.3,743.1 1007.7,742.2 1008.1,741.7 1008.5,741.4 1008.9,741.3 1009.2,741.9 1009.6,742.6 1010.0,743.9 1010.4,745.1 1010.8,746.0 1011.1,744.9 1011.5,743.4 1011.9,742.3 1012.3,741.4 1012.7,740.5 1013.0,740.0 1013.4,740.1 1013.8,740.8 1014.2,742.0 1014.6,743.6 1014.9,745.5 1015.3,744.1 1015.7,741.9 1016.1,739.7 1016.5,737.7 1016.8,736.5 1017.2,735.7 1017.6,736.2 1018.0,737.0 1018.4,738.8 1018.7,741.5 1019.1,744.5 1019.5,744.2 1019.9,740.8 1020.3,737.5 1020.6,734.8 1021.0,733.0 1021.4,732.1 1021.8,732.3 1022.2,733.8 1022.5,736.3 1022.9,739.4 1023.3,743.6 1023.7,744.3 1024.1,740.2 1024.4,736.1 1024.8,732.7 1025.2,730.5 1025.6,729.1 1026.0,729.3 1026.3,730.7 1026.7,733.5 1027.1,737.5 1027.5,742.2 1027.9,744.7 1028.2,739.6 1028.6,734.8 1029.0,730.8 1029.4,727.7 1029.8,726.2 1030.1,726.3 1030.5,727.8 1030.9,730.8 1031.3,735.2 1031.7,740.7 1032.0,745.5 1032.4,739.6 1032.8,733.7 1033.2,729.2 1033.6,725.7 1033.9,723.9 1034.3,724.0 1034.7,725.6 1035.1,729.1 1035.5,733.9 1035.8,739.5 1036.2,745.9 1036.6,739.8 1037.0,733.9 1037.4,728.7 1037.7,725.1 1038.1,722.9 1038.5,722.7 1038.9,724.5 1039.3,728.1 1039.6,732.9 1040.0,738.9 1040.4,746.0 1040.8,739.4 1041.2,733.0 1041.5,727.3 1041.9,723.4 1042.3,720.8 1042.7,720.6 1043.1,722.2 1043.4,725.8 1043.8,730.9 1044.2,737.7 1044.6,745.4 1045.0,738.7 1045.3,731.1 1045.7,724.7 1046.1,719.8 1046.5,716.6 1046.9,716.0 1047.2,718.0 1047.6,722.0 1048.0,728.5 1048.4,736.8 1048.8,745.2 1049.1,735.8 1049.5,726.9 1049.9,719.5 1050.3,714.1 1050.7,711.2 1051.0,711.7 1051.4,714.7 1051.8,720.0 1052.2,727.8 1052.6,736.8 1052.9,743.6 1053.3,734.0 1053.7,725.2 1054.1,717.9 1054.5,712.6 1054.8,710.1 1055.2,710.3 1055.6,713.3 1056.0,719.1 1056.4,726.6 1056.7,735.7 1057.1,744.2 1057.5,735.1 1057.9,727.0 1058.3,720.5 1058.6,716.0 1059.0,714.0 1059.4,714.6 1059.8,717.4 1060.2,722.6 1060.5,729.1 1060.9,736.9 1061.3,744.9 1061.7,737.7 1062.1,730.6 1062.4,725.4 1062.8,722.1 1063.2,720.6 1063.6,721.5 1064.0,724.2 1064.3,728.6 1064.7,734.2 1065.1,739.9 1065.5,745.1 1065.9,741.4 1066.2,737.9 1066.6,735.8 1067.0,734.4 1067.4,734.2 1067.8,735.0 1068.1,736.9 1068.5,739.0 1068.9,741.6 1069.3,743.9 1069.7,745.7 1070.0,744.9 1070.4,743.3 1070.8,742.1 1071.2,741.3 1071.6,740.3 1071.9,740.1 1072.3,740.1 1072.7,740.3 1073.1,741.8 1073.5,743.2 1073.8,745.6 1074.2,744.0 1074.6,741.3 1075.0,738.3 1075.4,735.5 1075.7,733.1 1076.1,731.8 1076.5,731.5 1076.9,732.9 1077.3,735.6 1077.6,739.5 1078.0,744.4 1078.4,742.1 1078.8,736.7 1079.2,731.8 1079.5,728.2 1079.9,725.5 1080.3,724.6 1080.7,725.5 1081.1,727.9 1081.4,732.2 1081.8,737.3 1082.2,743.3 1082.6,741.6 1083.0,735.9 1083.3,730.7 1083.7,726.7 1084.1,724.3 1084.5,723.9 1084.9,724.8 1085.2,727.5 1085.6,731.8 1086.0,737.1 1086.4,742.8 1086.8,742.4 1087.1,736.7 1087.5,731.8 1087.9,728.2 1088.3,726.0 1088.7,725.9 1089.0,726.8 1089.4,729.6 1089.8,733.4 1090.2,738.3 1090.6,743.1 1090.9,743.7 1091.3,739.1 1091.7,735.1 1092.1,732.2 1092.5,730.6 1092.8,730.2 1093.2,731.4 1093.6,733.6 1094.0,736.5 1094.4,740.2 1094.7,744.0 1095.1,744.6 1095.5,741.2 1095.9,738.9 1096.3,737.4 1096.6,737.0 1097.0,737.2 1097.4,738.2 1097.8,739.8 1098.2,741.5 1098.5,743.5 1098.9,747.8 1099.3,745.8 1099.7,744.2 1100.1,742.8 1100.4,742.0 1100.8,741.2 1101.2,741.3 1101.6,741.3 1102.0,742.0 1102.3,742.9 1102.7,743.8 1103.1,745.2 1103.5,746.0 1103.9,744.7 1104.2,743.3 1104.6,742.3 1105.0,741.4 1105.4,741.1 1105.8,740.5 1106.1,740.6 1106.5,741.4 1106.9,742.7 1107.3,744.3 1107.7,745.7 1108.0,742.9 1108.4,740.5 1108.8,738.2 1109.2,736.4 1109.6,735.5 1109.9,735.0 1110.3,735.6 1110.7,737.3 1111.1,739.5 1111.5,742.6 1111.8,745.3 1112.2,742.0 1112.6,738.5 1113.0,735.4 1113.4,733.3 1113.7,731.8 1114.1,731.7 1114.5,732.8 1114.9,734.7 1115.3,737.7 1115.6,741.5 1116.0,745.9 1116.4,741.7 1116.8,737.4 1117.2,734.0 1117.5,731.3 1117.9,729.9 1118.3,730.1 1118.7,731.3 1119.1,733.8 1119.4,737.1 1119.8,741.3 1120.2,745.7 1120.6,741.7 1121.0,737.5 1121.3,733.9 1121.7,731.6 1122.1,730.2 1122.5,730.0 1122.9,731.2 1123.2,733.5 1123.6,736.8 1124.0,740.9 1124.4,745.5 1124.8,741.9 1125.1,737.9 1125.5,734.8 1125.9,732.3 1126.3,731.2 1126.7,731.2 1127.0,732.3 1127.4,734.5 1127.8,737.4 1128.2,741.1 1128.6,744.9 1128.9,743.1 1129.3,739.7 1129.7,737.1 1130.1,735.5 1130.5,734.5 1130.8,734.9 1131.2,735.6 1131.6,737.6 1132.0,739.7 1132.4,742.6 1132.7,745.1 1133.1,744.2 1133.5,742.1 1133.9,740.6 1134.3,739.6 1134.6,739.0 1135.0,739.1 1135.4,740.1 1135.8,741.1 1136.2,742.4 1136.5,744.1 1136.9,745.7 1137.3,745.5 1137.7,744.0 1138.1,743.1 1138.4,742.1 1138.8,742.0 1139.2,741.9 1139.6,742.2 1140.0,742.8 1140.3,743.9 1140.7,744.9 1141.1,745.9 1141.5,745.8 1141.9,745.1 1142.2,744.1 1142.6,743.5 1143.0,743.3 1143.4,743.3 1143.8,743.1 1144.1,743.6 1144.5,744.3 1144.9,744.8 1145.3,745.9 1145.7,745.9 1146.0,744.9 1146.4,744.2 1146.8,743.6 1147.2,742.9 1147.6,742.8 1147.9,742.8 1148.3,743.2 1148.7,743.6 1149.1,744.6 1149.5,745.5 1149.8,745.7 1150.2,744.6 1150.6,743.9 1151.0,742.9 1151.4,742.2 1151.7,742.0 1152.1,742.0 1152.5,742.2 1152.9,743.0 1153.3,744.1 1153.6,745.3 1154.0,745.8 1154.4,744.4 1154.8,743.1 1155.2,742.0 1155.5,741.3 1155.9,740.9 1156.3,741.0 1156.7,741.4 1157.1,742.3 1157.4,743.5 1157.8,744.8 1158.2,746.0 1158.6,744.4 1159.0,742.7 1159.3,741.4 1159.7,740.7 1160.1,740.1 1160.5,740.2 1160.9,740.5 1161.2,741.8 1161.6,742.9 1162.0,748.6 1162.4,745.9 1162.8,744.0 1163.1,742.7 1163.5,741.1 1163.9,740.5 1164.3,739.8 1164.7,740.1 1165.0,740.5 1165.4,741.5 1165.8,742.8 1166.2,744.3 1166.6,746.0 1166.9,744.4 1167.3,743.0 1167.7,741.9 1168.1,741.1 1168.5,740.8 1168.8,741.0 1169.2,741.4 1169.6,742.1 1170.0,743.3 1170.4,744.6 1170.7,745.9 1171.1,745.1 1171.5,743.6 1171.9,742.6 1172.3,742.0 1172.6,741.7 1173.0,741.9 1173.4,742.3 1173.8,742.8 1174.2,743.8 1174.5,744.8 1174.9,746.0 1175.3,745.5 1175.7,744.3 1176.1,743.6 1176.4,743.1 1176.8,742.7 1177.2,742.7 1177.6,743.0 1178.0,743.4 1178.3,744.2 1178.7,745.1 1179.1,745.9 1179.5,745.7 1179.9,744.6 1180.2,744.0 1180.6,743.3 1181.0,743.3 1181.4,743.2 1181.8,743.3 1182.1,743.8 1182.5,744.5 1182.9,745.1 1183.3,745.8 1183.7,745.7 1184.0,744.9 1184.4,744.2 1184.8,743.8 1185.2,743.6 1185.6,743.8 1185.9,744.0 1186.3,744.3 1186.7,744.6 1187.1,745.3 1187.5,745.9 1187.8,745.8 1188.2,745.3 1188.6,744.6 1189.0,744.4 1189.4,744.0 1189.7,744.1 1190.1,744.2 1190.5,744.3 1190.9,744.8 1191.3,745.5 1191.6,747.5 1192.0,745.9 1192.4,745.2 1192.8,744.8 1193.2,744.4 1193.5,743.9 1193.9,743.7 1194.3,743.9 1194.7,743.9 1195.1,744.4 1195.4,744.9 1195.8,745.7 1196.2,745.9 1196.6,745.3 1197.0,744.4 1197.3,743.8 1197.7,743.3 1198.1,743.3 1198.5,743.3 1198.9,743.5 1199.2,743.9 1199.6,744.6 1200.0,745.4 1200.4,746.1 1200.8,744.9 1201.1,743.9 1201.5,743.0 1201.9,742.5 1202.3,742.1 1202.7,742.1 1203.0,742.2 1203.4,742.9 1203.8,743.9 1204.2,745.0 1204.6,745.9 1204.9,744.8 1205.3,743.6 1205.7,742.4 1206.1,742.0 1206.5,741.4 1206.8,741.5 1207.2,742.0 1207.6,742.7 1208.0,743.9 1208.4,745.0 1208.7,746.1 1209.1,744.8 1209.5,743.6 1209.9,742.7 1210.3,741.8 1210.6,741.6 1211.0,741.6 1211.4,742.0 1211.8,742.8 1212.2,743.5 1212.5,744.6 1212.9,748.5 1213.3,744.9 1213.7,744.1 1214.1,743.3 1214.4,742.8 1214.8,742.5 1215.2,742.6 1215.6,743.4 1216.0,743.9 1216.3,744.5 1216.7,745.3 1217.1,748.3 1217.5,745.8 1217.9,745.0 1218.2,744.5 1218.6,744.5 1219.0,744.1 1219.4,744.3 1219.8,744.4 1220.1,744.7 1220.5,745.2 1220.9,745.5 1221.3,746.2 1221.7,745.8 1222.0,745.4 1222.4,745.0 1222.8,744.9 1223.2,744.8 1223.6,744.7 1223.9,744.9 1224.3,745.2 1224.7,745.6 1225.1,745.8 1225.5,746.3 1225.8,746.1 1226.2,745.7 1226.6,745.5 1227.0,745.2 1227.4,745.1 1227.7,745.0 1228.1,745.0 1228.5,745.2 1228.9,745.6 1229.3,745.9 1229.6,747.9 1230.0,746.0 1230.4,745.9 1230.8,745.4 1231.2,745.1 1231.5,745.2 1231.9,745.0 1232.3,745.0 1232.7,745.2 1233.1,745.4 1233.4,745.7 1233.8,747.1 1234.2,746.2 1234.6,745.7 1235.0,745.6 1235.3,745.2 1235.7,745.1 1236.1,745.0 1236.5,745.0 1236.9,744.9 1237.2,745.3 1237.6,745.6 1238.0,746.1 1238.4,746.0 1238.8,745.6 1239.1,745.2 1239.5,744.9 1239.9,744.9 1240.3,744.7 1240.7,744.8 1241.0,744.9 1241.4,745.1 1241.8,745.3 1242.2,745.9 1242.6,746.2 1242.9,745.7 1243.3,745.1 1243.7,744.5 1244.1,744.1 1244.5,743.9 1244.8,744.0 1245.2,744.1 1245.6,744.4 1246.0,744.6 1246.4,745.5 1246.7,746.2 1247.1,745.3 1247.5,744.3 1247.9,743.5 1248.3,742.7 1248.6,742.1 1249.0,741.9 1249.4,741.8 1249.8,742.2 1250.2,743.0 1250.5,744.5 1250.9,746.0 1251.3,744.3 1251.7,742.1 1252.1,740.3 1252.4,738.9 1252.8,738.0 1253.2,737.9 1253.6,738.1 1254.0,739.1 1254.3,741.1 1254.7,743.4 1255.1,745.7 1255.5,743.5 1255.9,741.0 1256.2,739.0 1256.6,737.2 1257.0,736.2 1257.4,735.9 1257.8,736.6 1258.1,737.8 1258.5,739.9 1258.9,742.6 1259.3,745.3 1259.7,743.6 1260.0,740.9 1260.4,738.7 1260.8,737.0 1261.2,736.0 1261.6,735.8 1261.9,736.3 1262.3,737.6 1262.7,739.6 1263.1,742.2 1263.5,748.4 1263.8,744.4 1264.2,741.7 1264.6,739.5 1265.0,738.1 1265.4,737.3 1265.7,737.0 1266.1,737.7 1266.5,739.0 1266.9,740.6 1267.3,742.8 1267.6,745.2 1268.0,744.9 1268.4,743.0 1268.8,741.5 1269.2,740.3 1269.5,739.7 1269.9,739.6 1270.3,739.8 1270.7,740.7 1271.1,742.1 1271.4,743.4 1271.8,745.2 1272.2,745.3 1272.6,743.9 1273.0,742.6 1273.3,741.4 1273.7,740.7 1274.1,740.5 1274.5,740.9 1274.9,741.4 1275.2,742.2 1275.6,743.6 1276.0,748.1 1276.4,745.7 1276.8,744.1 1277.1,742.8 1277.5,741.6 1277.9,740.5 1278.3,740.0 1278.7,740.3 1279.0,740.6 1279.4,741.7 1279.8,743.1 1280.2,744.7 1280.6,745.8 1280.9,743.9 1281.3,742.6 1281.7,741.0 1282.1,740.1 1282.5,739.5 1282.8,739.5 1283.2,740.2 1283.6,741.2 1284.0,742.5 1284.4,744.3 1284.7,746.0 1285.1,744.1 1285.5,742.6 1285.9,741.2 1286.3,740.3 1286.6,739.5 1287.0,739.6 1287.4,740.3 1287.8,741.0 1288.2,742.4 1288.5,744.2 1288.9,746.0 1289.3,744.6 1289.7,742.8 1290.1,741.6 1290.4,740.6 1290.8,739.9 1291.2,740.1 1291.6,740.6 1292.0,741.7 1292.3,742.9 1292.7,744.1 1293.1,745.8 1293.5,745.0 1293.9,743.8 1294.2,742.9 1294.6,741.8 1295.0,741.7 1295.4,741.8 1295.8,742.1 1296.1,742.7 1296.5,743.6 1296.9,744.7 1297.3,745.9 1297.7,745.4 1298.0,744.4 1298.4,743.7 1298.8,743.3 1299.2,743.1 1299.6,743.0 1299.9,743.3 1300.3,743.8 1300.7,744.2 1301.1,745.1 1301.5,748.7 1301.8,745.8 1302.2,745.4 1302.6,744.8 1303.0,744.3 1303.4,744.2 1303.7,744.3 1304.1,744.6 1304.5,744.6 1304.9,745.1 1305.3,745.4 1305.6,746.1 1306.0,746.2 1306.4,745.6 1306.8,745.5 1307.2,745.0 1307.5,745.1 1307.9,744.9 1308.3,744.7 1308.7,744.9 1309.1,745.1 1309.4,745.4 1309.8,745.9 1310.2,746.3 1310.6,745.6 1311.0,745.3 1311.3,745.1 1311.7,744.9 1312.1,744.9 1312.5,744.8 1312.9,745.0 1313.2,745.4 1313.6,745.4 1314.0,745.9 1314.4,746.3 1314.8,745.7 1315.1,745.4 1315.5,745.2 1315.9,744.9 1316.3,744.5 1316.7,744.4 1317.0,744.6 1317.4,744.6 1317.8,744.9 1318.2,745.4 1318.6,746.3 1318.9,745.3 1319.3,744.4 1319.7,743.5 1320.1,743.0 1320.5,742.3 1320.8,741.9 1321.2,742.1 1321.6,742.5 1322.0,743.5 1322.4,744.4 1322.7,745.7 1323.1,744.7 1323.5,743.4 1323.9,742.2 1324.3,740.8 1324.6,740.2 1325.0,739.7 1325.4,740.0 1325.8,740.7 1326.2,742.0 1326.5,743.6 1326.9,745.3 1327.3,744.7 1327.7,742.4 1328.1,740.6 1328.4,739.4 1328.8,738.1 1329.2,737.8 1329.6,738.0 1330.0,739.0 1330.3,740.6 1330.7,742.5 1331.1,744.7 1331.5,744.8 1331.9,742.4 1332.2,740.0 1332.6,738.2 1333.0,737.3 1333.4,736.6 1333.8,737.1 1334.1,738.1 1334.5,739.7 1334.9,741.9 1335.3,744.4 1335.7,745.1 1336.0,742.6 1336.4,740.4 1336.8,738.6 1337.2,737.5 1337.6,737.1 1337.9,737.4 1338.3,738.5 1338.7,740.2 1339.1,742.0 1339.5,744.3 1339.8,745.6 1340.2,743.4 1340.6,741.5 1341.0,740.1 1341.4,739.1 1341.7,739.1 1342.1,739.5 1342.5,740.1 1342.9,741.5 1343.3,742.8 1343.6,744.7 1344.0,745.8 1344.4,744.4 1344.8,743.2 1345.2,741.8 1345.5,741.4 1345.9,741.0 1346.3,741.2 1346.7,741.7 1347.1,742.6 1347.4,743.5 1347.8,744.8 1348.2,747.7 1348.6,745.2 1349.0,744.0 1349.3,743.2 1349.7,742.6 1350.1,742.1 1350.5,742.1 1350.9,742.6 1351.2,743.2 1351.6,743.9 1352.0,745.0 1352.4,745.9" fill="none" stroke="#ff0000" stroke-width="1" stroke-linejoin="round" clip-path="url(#c3)"/>
<polyline points="88.5,746.0 88.9,746.0 89.3,746.0 89.6,746.2 90.0,746.1 90.4,746.2 90.8,746.4 91.2,746.3 91.5,746.0 91.9,746.0 92.3,745.7 92.7,745.7 93.1,745.5 93.4,745.7 93.8,745.6 94.2,745.8 94.6,745.7 95.0,746.0 95.3,746.1 95.7,746.3 96.1,745.9 96.5,745.7 96.9,745.4 97.2,745.3 97.6,745.2 98.0,745.1 98.4,745.2 98.8,745.3 99.1,745.4 99.5,745.3 99.9,745.7 100.3,745.9 100.7,745.8 101.0,745.6 101.4,745.3 101.8,744.8 102.2,744.4 102.6,744.3 102.9,744.5 103.3,744.4 103.7,744.7 104.1,745.0 104.5,745.3 104.8,746.0 105.2,745.8 105.6,745.2 106.0,744.5 106.4,743.9 106.7,743.3 107.1,743.1 107.5,742.5 107.9,742.9 108.3,743.1 108.6,743.3 109.0,744.1 109.4,745.2 109.8,744.4 110.2,742.4 110.5,740.5 110.9,738.6 111.3,736.8 111.7,735.7 112.1,734.9 112.4,735.3 112.8,736.3 113.2,738.3 113.6,741.5 114.0,745.0 114.3,740.3 114.7,735.2 115.1,730.6 115.5,726.6 115.9,723.4 116.2,722.0 116.6,721.9 117.0,724.1 117.4,728.0 117.8,733.7 118.1,740.8 118.5,738.5 118.9,729.3 119.3,720.7 119.7,713.3 120.0,707.5 120.4,704.2 120.8,703.9 121.2,706.8 121.6,713.4 121.9,723.3 122.3,735.7 122.7,738.3 123.1,722.5 123.5,707.6 123.8,694.7 124.2,685.1 124.6,679.8 125.0,679.2 125.4,683.7 125.7,693.3 126.1,707.3 126.5,725.0 126.9,731.7 127.3,710.5 127.6,690.2 128.0,672.7 128.4,659.9 128.8,653.3 129.2,653.8 129.5,661.7 129.9,677.0 130.3,698.6 130.7,725.4 131.1,731.2 131.4,702.5 131.8,676.1 132.2,655.3 132.6,641.1 133.0,635.0 133.3,637.8 133.7,649.4 134.1,668.2 134.5,692.7 134.9,720.8 135.2,719.1 135.6,690.9 136.0,665.6 136.4,646.1 136.8,633.4 137.1,629.5 137.5,634.4 137.9,648.7 138.3,672.1 138.7,702.5 139.0,737.2 139.4,708.4 139.8,675.2 140.2,648.1 140.6,629.9 140.9,622.0 141.3,625.0 141.7,637.8 142.1,659.2 142.5,687.5 142.8,720.0 143.2,716.5 143.6,683.7 144.0,654.2 144.4,630.9 144.7,616.5 145.1,613.0 145.5,621.6 145.9,644.1 146.3,679.0 146.6,724.1 147.0,705.5 147.4,657.9 147.8,619.2 148.2,592.9 148.5,580.9 148.9,581.9 149.3,593.7 149.7,613.8 150.1,640.0 150.4,671.2 150.8,704.9 151.2,704.4 151.6,667.4 152.0,631.4 152.3,598.7 152.7,571.4 153.1,553.0 153.5,546.8 153.9,556.3 154.2,584.8 154.6,632.3 155.0,695.5 155.4,705.2 155.8,637.7 156.1,582.2 156.5,545.3 156.9,529.3 157.3,533.7 157.7,554.7 158.0,589.2 158.4,634.1 158.8,685.1 159.2,723.0 159.6,671.2 159.9,623.5 160.3,583.5 160.7,553.3 161.1,535.6 161.5,531.1 161.8,541.0 162.2,565.0 162.6,600.9 163.0,645.6 163.4,695.3 163.7,721.8 164.1,673.5 164.5,631.1 164.9,597.6 165.3,573.9 165.6,561.2 166.0,558.6 166.4,565.8 166.8,582.1 167.2,605.3 167.5,633.6 167.9,665.5 168.3,699.2 168.7,717.7 169.1,685.6 169.4,655.8 169.8,629.6 170.2,608.2 170.6,592.5 171.0,584.1 171.3,583.4 171.7,591.5 172.1,608.4 172.5,632.7 172.9,664.3 173.2,700.9 173.6,738.9 174.0,699.3 174.4,662.3 174.8,630.8 175.1,606.4 175.5,591.2 175.9,586.2 176.3,591.7 176.7,608.1 177.0,634.0 177.4,668.1 177.8,707.5 178.2,721.7 178.6,681.2 178.9,645.3 179.3,616.9 179.7,597.9 180.1,589.4 180.5,591.8 180.8,604.2 181.2,625.3 181.6,654.1 182.0,687.8 182.4,724.3 182.7,719.3 183.1,683.8 183.5,652.6 183.9,627.1 184.3,608.8 184.6,599.3 185.0,598.6 185.4,606.9 185.8,623.3 186.2,646.8 186.5,675.3 186.9,706.9 187.3,733.3 187.7,701.4 188.1,672.5 188.4,648.1 188.8,629.6 189.2,618.8 189.6,615.8 190.0,621.4 190.3,634.8 190.7,654.9 191.1,680.7 191.5,709.7 191.9,740.4 192.2,715.1 192.6,688.7 193.0,666.8 193.4,651.3 193.8,642.5 194.1,640.8 194.5,646.3 194.9,657.6 195.3,674.3 195.7,694.9 196.0,717.7 196.4,737.4 196.8,715.3 197.2,695.7 197.6,680.1 197.9,668.9 198.3,663.5 198.7,664.0 199.1,669.8 199.5,680.5 199.8,695.5 200.2,713.4 200.6,732.2 201.0,734.0 201.4,717.2 201.7,702.8 202.1,692.5 202.5,686.2 202.9,684.3 203.3,686.3 203.6,692.6 204.0,701.6 204.4,713.3 204.8,725.8 205.2,739.0 205.5,728.9 205.9,719.0 206.3,710.6 206.7,705.1 207.1,702.4 207.4,702.7 207.8,706.1 208.2,711.8 208.6,719.3 209.0,728.4 209.3,737.9 209.7,740.7 210.1,732.1 210.5,725.4 210.9,720.7 211.2,718.0 211.6,717.1 212.0,718.7 212.4,721.5 212.8,725.9 213.1,731.0 213.5,736.9 213.9,742.6 214.3,738.6 214.7,734.2 215.0,730.5 215.4,728.4 215.8,727.3 216.2,727.6 216.6,729.1 216.9,731.5 217.3,734.8 217.7,738.8 218.1,743.3 218.5,743.7 218.8,739.3 219.2,735.3 219.6,732.0 220.0,729.6 220.4,728.1 220.7,727.7 221.1,728.5 221.5,730.8 221.9,734.0 222.3,738.1 222.6,743.3 223.0,738.6 223.4,733.2 223.8,728.2 224.2,723.9 224.5,721.0 224.9,719.3 225.3,719.3 225.7,721.6 226.1,725.3 226.4,731.1 226.8,738.2 227.2,743.2 227.6,734.7 228.0,726.6 228.3,719.3 228.7,713.6 229.1,709.5 229.5,707.9 229.9,708.5 230.2,711.4 230.6,716.3 231.0,723.0 231.4,731.2 231.8,739.0 232.1,729.2 232.5,719.2 232.9,710.0 233.3,702.7 233.7,697.8 234.0,695.7 234.4,697.5 234.8,702.9 235.2,711.7 235.6,723.7 235.9,737.8 236.3,735.5 236.7,721.1 237.1,708.8 237.5,699.5 237.8,693.8 238.2,692.0 238.6,694.0 239.0,699.2 239.4,706.9 239.7,716.8 240.1,728.0 240.5,739.7 240.9,728.1 241.3,717.2 241.6,707.7 242.0,700.3 242.4,695.2 242.8,693.5 243.2,695.6 243.5,701.2 243.9,710.3 244.3,722.1 244.7,735.8 245.1,739.3 245.4,726.4 245.8,715.8 246.2,708.3 246.6,703.6 247.0,702.7 247.3,704.6 247.7,709.6 248.1,716.7 248.5,725.3 248.9,734.8 249.2,738.9 249.6,730.1 250.0,722.6 250.4,716.9 250.8,713.3 251.1,712.1 251.5,713.3 251.9,716.5 252.3,722.2 252.7,729.0 253.0,736.4 253.4,744.3 253.8,737.2 254.2,731.2 254.6,726.6 254.9,723.9 255.3,722.5 255.7,723.2 256.1,725.1 256.5,728.6 256.8,732.5 257.2,737.1 257.6,741.6 258.0,741.6 258.4,738.2 258.7,735.6 259.1,733.9 259.5,733.1 259.9,732.9 260.3,733.7 260.6,735.4 261.0,737.4 261.4,740.0 261.8,743.0 262.2,745.6 262.5,742.8 262.9,740.4 263.3,738.8 263.7,737.6 264.1,736.8 264.4,737.0 264.8,737.7 265.2,739.0 265.6,740.5 266.0,742.6 266.3,744.5 266.7,744.1 267.1,742.3 267.5,740.4 267.9,739.0 268.2,738.3 268.6,737.9 269.0,737.8 269.4,738.6 269.8,739.6 270.1,741.4 270.5,743.3 270.9,745.8 271.3,743.6 271.7,741.3 272.0,739.5 272.4,738.0 272.8,737.3 273.2,736.9 273.6,737.1 273.9,738.0 274.3,739.6 274.7,741.1 275.1,743.3 275.5,744.7 275.8,742.4 276.2,740.1 276.6,738.2 277.0,736.5 277.4,735.5 277.7,735.2 278.1,735.7 278.5,736.9 278.9,738.7 279.3,741.2 279.6,744.1 280.0,744.2 280.4,740.6 280.8,737.8 281.2,735.0 281.5,733.0 281.9,731.9 282.3,731.6 282.7,732.3 283.1,734.2 283.4,736.8 283.8,740.4 284.2,744.1 284.6,741.5 285.0,737.3 285.3,733.4 285.7,730.4 286.1,728.1 286.5,726.5 286.9,726.7 287.2,728.0 287.6,730.4 288.0,734.2 288.4,739.0 288.8,744.7 289.1,739.1 289.5,733.7 289.9,728.7 290.3,724.8 290.7,722.1 291.0,720.9 291.4,721.3 291.8,723.3 292.2,726.6 292.6,731.2 292.9,736.5 293.3,741.5 293.7,734.8 294.1,728.5 294.5,722.7 294.8,717.8 295.2,714.8 295.6,713.6 296.0,714.6 296.4,717.9 296.7,723.0 297.1,729.8 297.5,738.1 297.9,742.2 298.3,733.3 298.6,725.5 299.0,718.6 299.4,713.7 299.8,711.3 300.2,710.6 300.5,712.5 300.9,716.3 301.3,722.0 301.7,728.8 302.1,736.6 302.4,738.2 302.8,730.8 303.2,723.8 303.6,718.2 304.0,714.4 304.3,712.6 304.7,712.9 305.1,715.0 305.5,719.4 305.9,725.4 306.2,732.5 306.6,740.3 307.0,740.4 307.4,732.9 307.8,726.8 308.1,722.0 308.5,719.1 308.9,717.9 309.3,718.9 309.7,721.1 310.0,725.0 310.4,729.9 310.8,735.1 311.2,740.7 311.6,739.9 311.9,735.5 312.3,732.0 312.7,729.4 313.1,728.2 313.5,727.7 313.8,728.5 314.2,730.2 314.6,732.6 315.0,736.2 315.4,740.1 315.7,744.8 316.1,742.3 316.5,737.7 316.9,734.1 317.3,731.1 317.6,728.8 318.0,728.1 318.4,728.4 318.8,729.9 319.2,732.4 319.5,735.7 319.9,739.6 320.3,744.1 320.7,739.8 321.1,735.6 321.4,731.8 321.8,728.3 322.2,726.0 322.6,724.9 323.0,725.3 323.3,726.9 323.7,730.2 324.1,734.6 324.5,740.3 324.9,744.5 325.2,738.3 325.6,732.4 326.0,727.7 326.4,724.1 326.8,721.7 327.1,721.0 327.5,722.4 327.9,725.0 328.3,729.1 328.7,734.4 329.0,740.2 329.4,741.1 329.8,735.3 330.2,729.7 330.6,725.2 330.9,722.1 331.3,720.6 331.7,720.5 332.1,722.4 332.5,725.7 332.8,730.6 333.2,736.2 333.6,742.6 334.0,740.5 334.4,734.3 334.7,729.3 335.1,725.2 335.5,722.5 335.9,721.5 336.3,722.1 336.6,724.5 337.0,728.0 337.4,732.7 337.8,738.0 338.2,743.5 338.5,738.2 338.9,733.2 339.3,729.0 339.7,725.9 340.1,724.2 340.4,724.0 340.8,725.4 341.2,727.9 341.6,731.7 342.0,736.5 342.3,741.4 342.7,742.9 343.1,737.7 343.5,733.2 343.9,729.7 344.2,727.0 344.6,725.6 345.0,725.6 345.4,727.1 345.8,729.6 346.1,733.4 346.5,738.2 346.9,743.3 347.3,739.6 347.7,734.4 348.0,730.0 348.4,726.3 348.8,724.0 349.2,723.5 349.6,724.1 349.9,726.6 350.3,730.3 350.7,735.4 351.1,740.9 351.5,742.3 351.8,736.2 352.2,730.8 352.6,726.6 353.0,723.4 353.4,721.7 353.7,721.9 354.1,723.5 354.5,727.1 354.9,731.6 355.3,737.2 355.6,743.4 356.0,737.1 356.4,730.8 356.8,725.6 357.2,721.8 357.5,719.1 357.9,718.8 358.3,720.0 358.7,723.2 359.1,728.2 359.4,734.6 359.8,741.9 360.2,738.9 360.6,731.8 361.0,725.9 361.3,721.0 361.7,718.1 362.1,717.3 362.5,718.1 362.9,721.2 363.2,725.8 363.6,732.0 364.0,738.9 364.4,739.0 364.8,731.6 365.1,724.7 365.5,719.2 365.9,714.8 366.3,712.4 366.7,712.5 367.0,715.2 367.4,720.4 367.8,727.6 368.2,736.8 368.6,740.3 368.9,729.1 369.3,718.5 369.7,709.9 370.1,703.1 370.5,699.8 370.8,699.4 371.2,702.4 371.6,709.1 372.0,718.5 372.4,730.2 372.7,734.2 373.1,719.8 373.5,705.9 373.9,693.8 374.3,684.4 374.6,679.2 375.0,678.9 375.4,683.9 375.8,694.6 376.2,710.5 376.5,730.7 376.9,733.5 377.3,709.8 377.7,687.3 378.1,668.8 378.4,655.6 378.8,649.1 379.2,650.2 379.6,659.2 380.0,675.2 380.3,697.3 380.7,723.9 381.1,715.3 381.5,686.0 381.9,658.5 382.2,636.5 382.6,621.8 383.0,616.4 383.4,621.6 383.8,638.5 384.1,666.9 384.5,704.5 384.9,731.2 385.3,687.2 385.7,647.5 386.0,615.8 386.4,595.0 386.8,586.9 387.2,590.8 387.6,606.0 387.9,630.8 388.3,662.9 388.7,699.8 389.1,714.8 389.5,675.3 389.8,638.8 390.2,608.0 390.6,585.4 391.0,572.9 391.4,572.1 391.7,582.4 392.1,603.4 392.5,632.8 392.9,669.5 393.3,710.3 393.6,729.3 394.0,687.0 394.4,648.8 394.8,617.6 395.2,594.8 395.5,582.7 395.9,581.8 396.3,593.4 396.7,616.4 397.1,648.8 397.4,687.1 397.8,727.4 398.2,698.6 398.6,665.2 399.0,639.3 399.3,623.1 399.7,617.1 400.1,620.8 400.5,633.7 400.9,654.9 401.2,682.0 401.6,712.2 402.0,741.4 402.4,712.7 402.8,688.8 403.1,671.1 403.5,660.3 403.9,656.9 404.3,660.6 404.7,670.5 405.0,685.4 405.4,703.1 405.8,722.0 406.2,739.5 406.6,724.0 406.9,710.9 407.3,701.1 407.7,695.5 408.1,693.4 408.5,695.1 408.8,700.6 409.2,708.9 409.6,719.4 410.0,731.1 410.4,743.4 410.7,733.8 411.1,723.9 411.5,715.9 411.9,709.9 412.3,706.3 412.6,705.8 413.0,707.9 413.4,712.7 413.8,719.9 414.2,728.8 414.5,739.4 414.9,733.7 415.3,723.0 415.7,713.8 416.1,706.3 416.4,701.0 416.8,699.2 417.2,700.8 417.6,705.9 418.0,713.9 418.3,724.7 418.7,737.6 419.1,736.3 419.5,723.0 419.9,710.9 420.2,701.2 420.6,694.8 421.0,691.9 421.4,693.0 421.8,697.8 422.1,705.9 422.5,716.6 422.9,729.5 423.3,737.6 423.7,723.6 424.0,710.7 424.4,699.7 424.8,691.7 425.2,687.3 425.6,686.9 425.9,690.6 426.3,698.3 426.7,709.7 427.1,723.3 427.5,739.2 427.8,729.1 428.2,713.9 428.6,701.0 429.0,690.8 429.4,684.6 429.7,682.7 430.1,684.7 430.5,690.3 430.9,699.5 431.3,710.4 431.6,722.9 432.0,727.9 432.4,714.5 432.8,702.5 433.2,692.7 433.5,685.5 433.9,681.6 434.3,681.2 434.7,684.0 435.1,690.0 435.4,698.5 435.8,709.1 436.2,720.7 436.6,722.4 437.0,708.4 437.3,695.7 437.7,685.8 438.1,678.9 438.5,675.4 438.9,675.6 439.2,679.4 439.6,686.0 440.0,695.1 440.4,706.3 440.8,718.3 441.1,715.9 441.5,702.9 441.9,691.3 442.3,681.3 442.7,674.0 443.0,669.8 443.4,669.4 443.8,673.3 444.2,681.1 444.6,692.5 444.9,707.3 445.3,723.9 445.7,708.4 446.1,692.6 446.5,678.8 446.8,668.7 447.2,662.5 447.6,661.0 448.0,664.0 448.4,670.6 448.7,681.4 449.1,694.3 449.5,709.1 449.9,713.9 450.3,696.7 450.6,681.4 451.0,669.0 451.4,660.3 451.8,656.2 452.2,657.2 452.5,662.7 452.9,672.3 453.3,685.3 453.7,701.1 454.1,718.8 454.4,719.9 454.8,702.6 455.2,686.7 455.6,673.4 456.0,663.7 456.3,657.9 456.7,657.1 457.1,661.9 457.5,671.4 457.9,685.2 458.2,702.6 458.6,721.6 459.0,710.2 459.4,693.9 459.8,680.4 460.1,670.9 460.5,665.7 460.9,665.0 461.3,669.3 461.7,677.5 462.0,689.6 462.4,704.5 462.8,720.8 463.2,712.4 463.6,698.2 463.9,686.0 464.3,676.9 464.7,671.3 465.1,669.9 465.5,672.2 465.8,678.4 466.2,687.8 466.6,699.2 467.0,712.8 467.4,720.4 467.7,708.9 468.1,698.7 468.5,690.5 468.9,684.9 469.3,682.9 469.6,684.4 470.0,689.8 470.4,698.6 470.8,710.2 471.2,723.5 471.5,738.1 471.9,729.3 472.3,717.3 472.7,707.6 473.1,701.1 473.4,698.1 473.8,698.7 474.2,702.3 474.6,708.9 475.0,717.7 475.3,727.2 475.7,737.4 476.1,735.6 476.5,727.2 476.9,720.2 477.2,715.3 477.6,712.7 478.0,712.2 478.4,714.0 478.8,718.1 479.1,724.0 479.5,731.1 479.9,738.7 480.3,742.9 480.7,735.8 481.0,729.5 481.4,725.0 481.8,722.2 482.2,721.1 482.6,722.0 482.9,724.3 483.3,727.9 483.7,732.5 484.1,737.5 484.5,742.8 484.8,739.3 485.2,734.9 485.6,731.0 486.0,728.5 486.4,727.1 486.7,727.3 487.1,728.4 487.5,731.1 487.9,734.3 488.3,738.8 488.6,743.6 489.0,742.5 489.4,738.2 489.8,734.6 490.2,732.0 490.5,730.3 490.9,729.5 491.3,730.2 491.7,731.9 492.1,734.6 492.4,737.8 492.8,741.6 493.2,743.5 493.6,739.8 494.0,736.3 494.3,733.2 494.7,730.6 495.1,728.8 495.5,728.3 495.9,729.0 496.2,731.0 496.6,734.2 497.0,738.9 497.4,744.5 497.8,739.7 498.1,733.9 498.5,728.4 498.9,724.3 499.3,721.3 499.7,720.1 500.0,720.9 500.4,723.9 500.8,728.4 501.2,734.4 501.6,741.2 501.9,740.0 502.3,732.9 502.7,726.6 503.1,721.7 503.5,718.3 503.8,717.3 504.2,718.1 504.6,720.9 505.0,725.8 505.4,731.9 505.7,739.1 506.1,743.3 506.5,735.6 506.9,728.9 507.3,723.5 507.6,720.1 508.0,718.7 508.4,719.5 508.8,722.3 509.2,726.5 509.5,732.1 509.9,738.3 510.3,744.5 510.7,739.9 511.1,734.9 511.4,730.9 511.8,728.4 512.2,727.4 512.6,728.2 513.0,730.2 513.3,733.1 513.7,736.8 514.1,740.4 514.5,744.4 514.9,743.9 515.2,740.5 515.6,738.0 516.0,736.1 516.4,735.3 516.8,735.1 517.1,735.7 517.5,737.1 517.9,739.2 518.3,741.5 518.7,744.2 519.0,745.2 519.4,742.8 519.8,740.0 520.2,737.6 520.6,735.3 520.9,733.8 521.3,732.7 521.7,732.7 522.1,733.9 522.5,736.4 522.8,740.3 523.2,745.2 523.6,740.0 524.0,734.9 524.4,729.8 524.7,725.6 525.1,722.5 525.5,721.3 525.9,721.9 526.3,724.6 526.6,728.8 527.0,734.7 527.4,741.8 527.8,740.5 528.2,733.2 528.5,726.3 528.9,721.0 529.3,717.6 529.7,715.9 530.1,716.9 530.4,719.8 530.8,725.1 531.2,731.9 531.6,739.5 532.0,743.6 532.3,735.0 532.7,727.6 533.1,721.4 533.5,717.5 533.9,715.4 534.2,715.8 534.6,718.4 535.0,723.1 535.4,729.7 535.8,737.4 536.1,745.8 536.5,737.6 536.9,730.0 537.3,723.7 537.7,719.1 538.0,716.6 538.4,716.2 538.8,718.1 539.2,722.3 539.6,728.2 539.9,735.4 540.3,743.0 540.7,740.3 541.1,732.8 541.5,726.9 541.8,722.4 542.2,719.7 542.6,719.1 543.0,720.7 543.4,724.0 543.7,728.9 544.1,734.7 544.5,741.2 544.9,743.3 545.3,737.0 545.6,732.0 546.0,727.5 546.4,724.8 546.8,723.8 547.2,724.4 547.5,726.3 547.9,730.0 548.3,734.8 548.7,740.2 549.1,745.6 549.4,740.2 549.8,735.1 550.2,730.8 550.6,728.0 551.0,726.7 551.3,726.5 551.7,727.9 552.1,730.8 552.5,734.7 552.9,739.3 553.2,744.5 553.6,742.0 554.0,737.4 554.4,733.4 554.8,730.6 555.1,728.7 555.5,728.3 555.9,729.4 556.3,731.4 556.7,734.4 557.0,738.5 557.4,742.9 557.8,743.4 558.2,739.2 558.6,735.1 558.9,732.1 559.3,729.8 559.7,728.6 560.1,728.7 560.5,729.9 560.8,732.5 561.2,736.1 561.6,740.8 562.0,744.9 562.4,739.8 562.7,734.9 563.1,731.1 563.5,728.0 563.9,726.0 564.3,725.8 564.6,727.2 565.0,729.7 565.4,733.7 565.8,738.5 566.2,744.3 566.5,741.2 566.9,735.4 567.3,731.0 567.7,727.2 568.1,725.0 568.4,724.1 568.8,725.2 569.2,727.7 569.6,731.7 570.0,736.7 570.3,742.4 570.7,743.0 571.1,737.3 571.5,732.5 571.9,728.8 572.2,726.5 572.6,725.5 573.0,726.3 573.4,728.4 573.8,731.9 574.1,736.1 574.5,741.2 574.9,745.1 575.3,739.8 575.7,735.1 576.0,731.1 576.4,728.3 576.8,726.8 577.2,726.5 577.6,728.0 577.9,731.1 578.3,735.1 578.7,740.0 579.1,745.3 579.5,741.5 579.8,736.7 580.2,732.2 580.6,729.2 581.0,727.1 581.4,726.9 581.7,727.8 582.1,730.2 582.5,733.8 582.9,738.3 583.3,743.4 583.6,742.7 584.0,737.8 584.4,733.4 584.8,729.8 585.2,727.6 585.5,726.3 585.9,727.0 586.3,729.0 586.7,732.0 587.1,736.3 587.4,741.1 587.8,744.2 588.2,738.7 588.6,733.2 589.0,728.8 589.3,725.3 589.7,723.4 590.1,723.3 590.5,724.9 590.9,728.2 591.2,732.9 591.6,738.3 592.0,744.7 592.4,739.5 592.8,733.7 593.1,728.6 593.5,725.0 593.9,722.9 594.3,722.5 594.7,723.8 595.0,726.8 595.4,730.8 595.8,736.5 596.2,742.5 596.6,741.2 596.9,735.5 597.3,730.2 597.7,726.2 598.1,723.7 598.5,722.7 598.8,723.6 599.2,726.2 599.6,730.0 600.0,734.9 600.4,740.8 600.7,743.4 601.1,737.8 601.5,732.6 601.9,728.5 602.3,725.7 602.6,724.4 603.0,724.7 603.4,726.8 603.8,729.8 604.2,734.5 604.5,739.7 604.9,745.3 605.3,740.2 605.7,735.2 606.1,731.0 606.4,728.3 606.8,726.6 607.2,726.5 607.6,727.7 608.0,730.4 608.3,734.1 608.7,738.7 609.1,743.8 609.5,742.2 609.9,737.6 610.2,733.7 610.6,730.5 611.0,728.7 611.4,728.3 611.8,728.9 612.1,730.7 612.5,733.7 612.9,737.6 613.3,742.2 613.7,743.7 614.0,738.8 614.4,734.4 614.8,730.6 615.2,727.9 615.6,726.8 615.9,727.0 616.3,728.4 616.7,731.3 617.1,735.4 617.5,740.2 617.8,745.0 618.2,739.8 618.6,734.8 619.0,730.2 619.4,727.0 619.7,725.1 620.1,724.8 620.5,726.1 620.9,728.8 621.3,732.5 621.6,737.7 622.0,743.6 622.4,740.8 622.8,734.9 623.2,729.6 623.5,725.5 623.9,722.6 624.3,721.8 624.7,722.5 625.1,725.2 625.4,729.4 625.8,735.2 626.2,741.4 626.6,743.2 627.0,736.0 627.3,730.0 627.7,725.1 628.1,721.6 628.5,720.0 628.9,720.5 629.2,723.0 629.6,727.1 630.0,732.8 630.4,739.6 630.8,745.4 631.1,738.0 631.5,731.2 631.9,725.7 632.3,721.5 632.7,719.3 633.0,719.1 633.4,720.6 633.8,724.7 634.2,729.9 634.6,736.7 634.9,744.3 635.3,739.7 635.7,732.0 636.1,725.3 636.5,719.8 636.8,716.5 637.2,715.5 637.6,717.0 638.0,720.8 638.4,726.7 638.7,733.5 639.1,741.8 639.5,741.7 639.9,734.0 640.3,727.3 640.6,722.0 641.0,718.7 641.4,717.2 641.8,718.0 642.2,721.0 642.5,725.6 642.9,732.1 643.3,739.2 643.7,744.0 644.1,736.4 644.4,729.5 644.8,723.6 645.2,719.8 645.6,717.7 646.0,717.5 646.3,719.8 646.7,724.0 647.1,729.9 647.5,736.9 647.9,747.6 648.2,739.2 648.6,732.5 649.0,726.9 649.4,722.9 649.8,720.7 650.1,720.3 650.5,722.1 650.9,725.4 651.3,730.5 651.7,736.3 652.0,742.7 652.4,742.4 652.8,736.6 653.2,731.6 653.6,727.9 653.9,725.8 654.3,725.0 654.7,725.7 655.1,728.2 655.5,731.6 655.8,736.5 656.2,741.8 656.6,744.4 657.0,738.9 657.4,734.4 657.7,730.4 658.1,728.0 658.5,726.8 658.9,727.2 659.3,728.7 659.6,731.8 660.0,735.7 660.4,740.2 660.8,745.0 661.2,741.5 661.5,737.1 661.9,733.6 662.3,730.8 662.7,729.3 663.1,729.4 663.4,730.6 663.8,732.8 664.2,736.1 664.6,739.7 665.0,744.0 665.3,743.5 665.7,739.6 666.1,735.9 666.5,733.5 666.9,731.8 667.2,731.1 667.6,731.9 668.0,733.7 668.4,736.0 668.8,739.3 669.1,743.2 669.5,745.1 669.9,741.3 670.3,737.8 670.7,735.2 671.0,733.6 671.4,732.8 671.8,733.0 672.2,734.6 672.6,736.7 672.9,739.6 673.3,742.8 673.7,748.5 674.1,743.3 674.5,740.5 674.8,738.3 675.2,737.0 675.6,736.5 676.0,736.5 676.4,737.5 676.7,738.9 677.1,740.8 677.5,743.2 677.9,745.4 678.3,744.8 678.6,743.0 679.0,741.4 679.4,740.1 679.8,739.7 680.2,739.8 680.5,740.1 680.9,741.0 681.3,742.3 681.7,743.8 682.1,745.0 682.4,745.7 682.8,744.5 683.2,743.2 683.6,742.5 684.0,741.9 684.3,741.6 684.7,741.7 685.1,742.0 685.5,742.7 685.9,743.5 686.2,744.8 686.6,746.1 687.0,745.0 687.4,743.6 687.8,742.3 688.1,741.5 688.5,740.9 688.9,740.8 689.3,741.0 689.7,741.7 690.0,742.5 690.4,744.2 690.8,748.1 691.2,744.8 691.6,743.0 691.9,741.2 692.3,739.6 692.7,738.3 693.1,737.5 693.5,737.4 693.8,738.3 694.2,739.7 694.6,741.8 695.0,744.1 695.4,744.6 695.7,741.8 696.1,739.1 696.5,736.6 696.9,734.4 697.3,733.3 697.6,733.3 698.0,734.0 698.4,735.9 698.8,738.5 699.2,742.0 699.5,745.6 699.9,741.7 700.3,737.8 700.7,734.3 701.1,731.7 701.4,730.2 701.8,729.6 702.2,730.3 702.6,732.4 703.0,735.5 703.3,739.5 703.7,744.1 704.1,742.2 704.5,737.4 704.9,732.9 705.2,729.3 705.6,727.0 706.0,726.0 706.4,726.5 706.8,728.8 707.1,731.9 707.5,736.6 707.9,741.5 708.3,743.7 708.7,737.9 709.0,732.5 709.4,728.2 709.8,725.0 710.2,723.4 710.6,723.7 710.9,725.5 711.3,729.1 711.7,733.7 712.1,739.6 712.5,745.4 712.8,739.4 713.2,733.5 713.6,728.6 714.0,725.1 714.4,723.2 714.7,722.9 715.1,724.2 715.5,727.2 715.9,731.8 716.3,737.6 716.6,743.8 717.0,741.2 717.4,735.4 717.8,730.6 718.2,727.2 718.5,725.0 718.9,724.7 719.3,725.7 719.7,728.4 720.1,732.2 720.4,736.9 720.8,742.1 721.2,744.1 721.6,739.5 722.0,735.6 722.3,733.2 722.7,731.9 723.1,731.6 723.5,732.8 723.9,734.6 724.2,737.2 724.6,740.1 725.0,743.2 725.4,745.9 725.8,743.6 726.1,742.1 726.5,741.2 726.9,740.8 727.3,740.9 727.7,741.1 728.0,741.6 728.4,742.6 728.8,743.2 729.2,744.4 729.6,745.8 729.9,744.9 730.3,743.4 730.7,741.5 731.1,739.7 731.5,738.2 731.8,737.1 732.2,736.4 732.6,736.9 733.0,738.3 733.4,740.6 733.7,743.4 734.1,744.6 734.5,740.6 734.9,736.8 735.3,733.6 735.6,730.5 736.0,728.8 736.4,728.3 736.8,729.2 737.2,731.3 737.5,734.9 737.9,739.8 738.3,745.1 738.7,740.0 739.1,734.2 739.4,729.4 739.8,725.7 740.2,723.5 740.6,722.9 741.0,724.0 741.3,726.8 741.7,731.5 742.1,736.8 742.5,743.1 742.9,741.8 743.2,735.3 743.6,730.0 744.0,725.8 744.4,723.0 744.8,722.2 745.1,722.9 745.5,725.5 745.9,729.6 746.3,735.1 746.7,741.4 747.0,743.6 747.4,737.7 747.8,732.1 748.2,727.8 748.6,725.1 748.9,724.4 749.3,724.8 749.7,726.9 750.1,730.7 750.5,735.1 750.8,740.2 751.2,745.3 751.6,741.2 752.0,736.8 752.4,733.7 752.7,731.3 753.1,730.6 753.5,730.9 753.9,732.5 754.3,734.8 754.6,737.5 755.0,741.0 755.4,744.3 755.8,743.8 756.2,740.9 756.5,738.0 756.9,736.0 757.3,735.0 757.7,734.7 758.1,735.0 758.4,736.3 758.8,738.4 759.2,740.7 759.6,743.6 760.0,745.4 760.3,742.1 760.7,738.9 761.1,736.0 761.5,733.6 761.9,732.3 762.2,731.8 762.6,732.3 763.0,734.2 763.4,737.2 763.8,741.1 764.1,745.5 764.5,741.8 764.9,736.9 765.3,732.2 765.7,728.3 766.0,725.2 766.4,724.0 766.8,724.5 767.2,726.6 767.6,730.3 767.9,736.0 768.3,742.3 768.7,742.1 769.1,734.5 769.5,727.8 769.8,721.9 770.2,717.8 770.6,715.6 771.0,715.5 771.4,718.1 771.7,722.6 772.1,729.4 772.5,737.7 772.9,743.9 773.3,734.6 773.6,725.7 774.0,718.3 774.4,712.9 774.8,709.5 775.2,708.7 775.5,710.9 775.9,715.8 776.3,723.1 776.7,732.2 777.1,742.2 777.4,736.5 777.8,726.3 778.2,717.0 778.6,709.9 779.0,705.4 779.3,703.5 779.7,705.2 780.1,709.9 780.5,717.2 780.9,726.7 781.2,737.7 781.6,740.7 782.0,729.3 782.4,719.4 782.8,711.5 783.1,706.0 783.5,704.0 783.9,704.6 784.3,708.6 784.7,715.1 785.0,724.0 785.4,734.5 785.8,744.7 786.2,734.0 786.6,724.6 786.9,717.0 787.3,711.6 787.7,709.3 788.1,709.8 788.5,712.9 788.8,718.2 789.2,725.5 789.6,733.5 790.0,742.3 790.4,740.0 790.7,733.0 791.1,727.1 791.5,723.6 791.9,721.8 792.3,722.2 792.6,724.2 793.0,727.6 793.4,732.0 793.8,737.2 794.2,742.4 794.5,744.4 794.9,740.9 795.3,738.1 795.7,736.8 796.1,736.1 796.4,736.8 796.8,737.8 797.2,739.3 797.6,740.8 798.0,742.4 798.3,744.4 798.7,746.0 799.1,744.9 799.5,744.0 799.9,743.2 800.2,742.5 800.6,742.5 801.0,742.3 801.4,742.2 801.8,742.2 802.1,742.3 802.5,743.2 802.9,744.7 803.3,744.6 803.7,741.8 804.0,738.6 804.4,735.5 804.8,733.5 805.2,731.6 805.6,731.1 805.9,731.6 806.3,733.7 806.7,736.6 807.1,740.9 807.5,745.3 807.8,739.8 808.2,734.4 808.6,729.5 809.0,726.1 809.4,723.8 809.7,722.8 810.1,723.9 810.5,726.8 810.9,731.4 811.3,737.0 811.6,743.8 812.0,740.8 812.4,734.0 812.8,728.5 813.2,723.7 813.5,721.1 813.9,719.9 814.3,721.0 814.7,723.8 815.1,728.1 815.4,734.1 815.8,740.7 816.2,742.9 816.6,736.0 817.0,730.0 817.3,725.0 817.7,721.4 818.1,719.5 818.5,719.5 818.9,721.7 819.2,725.8 819.6,731.0 820.0,737.4 820.4,744.6 820.8,738.8 821.1,732.1 821.5,726.2 821.9,722.0 822.3,719.7 822.7,719.2 823.0,720.6 823.4,724.0 823.8,728.9 824.2,735.0 824.6,741.6 824.9,741.6 825.3,735.0 825.7,729.3 826.1,724.9 826.5,721.9 826.8,720.8 827.2,721.7 827.6,724.1 828.0,728.1 828.4,733.0 828.7,739.3 829.1,744.8 829.5,738.3 829.9,732.5 830.3,727.8 830.6,724.5 831.0,722.9 831.4,723.0 831.8,724.8 832.2,727.9 832.5,732.7 832.9,737.9 833.3,743.8 833.7,742.0 834.1,736.9 834.4,732.4 834.8,729.4 835.2,727.5 835.6,727.1 836.0,728.1 836.3,730.5 836.7,733.8 837.1,737.8 837.5,742.7 837.9,744.6 838.2,740.3 838.6,736.5 839.0,733.5 839.4,731.7 839.8,730.9 840.1,731.5 840.5,732.8 840.9,735.2 841.3,738.4 841.7,741.9 842.0,745.5 842.4,743.1 842.8,740.3 843.2,737.7 843.6,735.8 843.9,735.0 844.3,734.8 844.7,735.7 845.1,737.1 845.5,739.1 845.8,741.8 846.2,744.5 846.6,745.1 847.0,742.2 847.4,739.8 847.7,738.1 848.1,737.0 848.5,736.4 848.9,736.5 849.3,737.6 849.6,739.0 850.0,741.1 850.4,743.6 850.8,747.9 851.2,743.5 851.5,741.4 851.9,739.5 852.3,737.9 852.7,737.4 853.1,737.3 853.4,737.9 853.8,739.1 854.2,740.5 854.6,742.7 855.0,745.0 855.3,744.7 855.7,742.4 856.1,740.5 856.5,738.9 856.9,738.2 857.2,738.0 857.6,738.2 858.0,739.0 858.4,740.4 858.8,742.0 859.1,747.3 859.5,745.9 859.9,743.6 860.3,741.8 860.7,740.4 861.0,739.1 861.4,738.4 861.8,738.6 862.2,739.1 862.6,740.4 862.9,741.8 863.3,743.4 863.7,745.7 864.1,745.0 864.5,743.2 864.8,741.5 865.2,740.3 865.6,740.0 866.0,739.8 866.4,740.0 866.7,740.9 867.1,742.2 867.5,743.5 867.9,747.9 868.3,745.8 868.6,744.2 869.0,743.1 869.4,742.0 869.8,741.3 870.2,740.9 870.5,741.1 870.9,741.5 871.3,742.2 871.7,743.3 872.1,744.8 872.4,745.8 872.8,745.2 873.2,744.0 873.6,743.1 874.0,742.2 874.3,741.9 874.7,742.0 875.1,742.2 875.5,742.7 875.9,743.7 876.2,744.5 876.6,745.7 877.0,746.0 877.4,745.2 877.8,744.4 878.1,743.8 878.5,743.4 878.9,743.3 879.3,743.5 879.7,743.5 880.0,744.2 880.4,744.9 880.8,745.6 881.2,746.1 881.6,745.7 881.9,745.1 882.3,744.7 882.7,744.3 883.1,743.9 883.5,743.8 883.8,744.1 884.2,744.4 884.6,744.9 885.0,745.3 885.4,746.0 885.7,746.0 886.1,745.4 886.5,745.0 886.9,744.3 887.3,744.2 887.6,743.8 888.0,744.1 888.4,744.3 888.8,744.4 889.2,745.0 889.5,745.7 889.9,746.3 890.3,745.6 890.7,745.1 891.1,744.5 891.4,744.0 891.8,743.6 892.2,743.6 892.6,743.8 893.0,743.8 893.3,744.3 893.7,745.2 894.1,745.9 894.5,745.7 894.9,745.0 895.2,744.3 895.6,743.9 896.0,743.4 896.4,743.2 896.8,743.2 897.1,743.6 897.5,744.0 897.9,744.7 898.3,745.3 898.7,746.2 899.0,745.6 899.4,744.6 899.8,744.0 900.2,743.6 900.6,743.2 900.9,743.1 901.3,743.5 901.7,743.6 902.1,744.2 902.5,745.1 902.8,745.6 903.2,745.7 903.6,744.9 904.0,744.1 904.4,743.7 904.7,743.5 905.1,743.0 905.5,743.3 905.9,743.4 906.3,744.0 906.6,744.7 907.0,747.8 907.4,746.3 907.8,745.2 908.2,744.5 908.5,743.8 908.9,743.5 909.3,743.1 909.7,743.2 910.1,743.2 910.4,743.8 910.8,744.4 911.2,745.1 911.6,745.7 912.0,745.9 912.3,745.0 912.7,744.0 913.1,743.3 913.5,742.8 913.9,742.8 914.2,742.6 914.6,742.9 915.0,743.6 915.4,744.3 915.8,745.1 916.1,746.2 916.5,745.1 916.9,743.9 917.3,743.0 917.7,742.5 918.0,741.9 918.4,741.7 918.8,742.0 919.2,742.3 919.6,743.4 919.9,744.2 920.3,748.2 920.7,745.4 921.1,744.3 921.5,743.1 921.8,742.2 922.2,741.6 922.6,741.2 923.0,741.1 923.4,741.8 923.7,742.4 924.1,743.4 924.5,744.6 924.9,746.2 925.3,744.9 925.6,743.5 926.0,742.6 926.4,741.8 926.8,741.3 927.2,741.4 927.5,741.4 927.9,742.1 928.3,743.3 928.7,744.4 929.1,745.6 929.4,745.7 929.8,744.3 930.2,743.4 930.6,742.5 931.0,741.8 931.3,741.5 931.7,741.5 932.1,741.6 932.5,742.5 932.9,743.2 933.2,744.8 933.6,746.1 934.0,744.7 934.4,743.4 934.8,741.9 935.1,740.9 935.5,740.2 935.9,740.1 936.3,740.3 936.7,740.9 937.0,742.2 937.4,743.6 937.8,745.1 938.2,745.3 938.6,743.8 938.9,741.9 939.3,740.7 939.7,739.5 940.1,739.2 940.5,738.9 940.8,739.6 941.2,740.6 941.6,742.0 942.0,744.0 942.4,748.2 942.7,744.2 943.1,742.2 943.5,740.6 943.9,738.9 944.3,738.1 944.6,737.9 945.0,738.0 945.4,738.9 945.8,740.4 946.2,742.2 946.5,744.7 946.9,745.5 947.3,743.0 947.7,740.7 948.1,738.6 948.4,737.6 948.8,736.7 949.2,736.7 949.6,737.2 950.0,738.9 950.3,740.9 950.7,743.0 951.1,745.6 951.5,744.0 951.9,741.6 952.2,739.4 952.6,738.0 953.0,736.9 953.4,736.6 953.8,736.9 954.1,738.1 954.5,739.5 954.9,741.8 955.3,744.3 955.7,745.4 956.0,742.9 956.4,740.7 956.8,738.8 957.2,737.7 957.6,737.0 957.9,737.0 958.3,737.5 958.7,739.1 959.1,740.9 959.5,743.0 959.8,745.4 960.2,744.8 960.6,742.5 961.0,740.7 961.4,739.1 961.7,738.4 962.1,738.0 962.5,738.6 962.9,739.5 963.3,741.0 963.6,742.6 964.0,744.4 964.4,745.9 964.8,743.9 965.2,742.3 965.5,740.7 965.9,739.8 966.3,739.1 966.7,738.9 967.1,739.6 967.4,740.5 967.8,741.7 968.2,743.4 968.6,745.3 969.0,745.0 969.3,743.5 969.7,742.1 970.1,740.9 970.5,740.5 970.9,740.3 971.2,740.8 971.6,741.7 972.0,742.6 972.4,743.7 972.8,745.0 973.1,746.3 973.5,745.3 973.9,744.1 974.3,743.4 974.7,743.1 975.0,743.0 975.4,743.0 975.8,743.2 976.2,743.7 976.6,744.2 976.9,745.1 977.3,747.7 977.7,745.8 978.1,744.9 978.5,744.2 978.8,743.5 979.2,742.9 979.6,742.4 980.0,742.4 980.4,742.5 980.7,743.0 981.1,743.7 981.5,744.8 981.9,745.8 982.3,745.1 982.6,743.7 983.0,742.6 983.4,741.6 983.8,740.9 984.2,740.3 984.5,740.5 984.9,740.7 985.3,741.9 985.7,743.0 986.1,747.8 986.4,745.6 986.8,743.7 987.2,742.0 987.6,740.4 988.0,738.8 988.3,737.9 988.7,737.8 989.1,738.1 989.5,739.1 989.9,740.5 990.2,742.5 990.6,747.6 991.0,744.6 991.4,742.1 991.8,739.9 992.1,738.4 992.5,737.1 992.9,736.6 993.3,736.8 993.7,737.7 994.0,739.0 994.4,740.9 994.8,743.3 995.2,747.7 995.6,743.6 995.9,741.3 996.3,739.3 996.7,737.9 997.1,737.0 997.5,737.0 997.8,737.6 998.2,738.6 998.6,740.4 999.0,742.6 999.4,744.7 999.7,745.2 1000.1,743.3 1000.5,741.6 1000.9,740.1 1001.3,739.5 1001.6,739.0 1002.0,739.6 1002.4,740.2 1002.8,741.2 1003.2,742.5 1003.5,744.0 1003.9,747.0 1004.3,745.0 1004.7,743.8 1005.1,742.6 1005.4,741.4 1005.8,740.9 1006.2,740.5 1006.6,740.5 1007.0,741.0 1007.3,742.0 1007.7,743.4 1008.1,744.6 1008.5,746.0 1008.9,744.4 1009.2,742.8 1009.6,741.5 1010.0,740.6 1010.4,739.9 1010.8,739.5 1011.1,739.9 1011.5,740.4 1011.9,741.6 1012.3,743.0 1012.7,744.9 1013.0,744.9 1013.4,742.8 1013.8,740.8 1014.2,738.8 1014.6,737.4 1014.9,736.6 1015.3,736.4 1015.7,737.0 1016.1,738.1 1016.5,740.0 1016.8,742.5 1017.2,745.2 1017.6,743.7 1018.0,740.6 1018.4,737.8 1018.7,735.7 1019.1,733.8 1019.5,733.2 1019.9,733.3 1020.3,734.6 1020.6,736.6 1021.0,739.5 1021.4,743.0 1021.8,745.5 1022.2,741.9 1022.5,738.1 1022.9,735.2 1023.3,732.6 1023.7,731.3 1024.1,730.8 1024.4,731.5 1024.8,733.2 1025.2,735.8 1025.6,739.4 1026.0,743.4 1026.3,743.3 1026.7,739.2 1027.1,734.9 1027.5,731.6 1027.9,729.1 1028.2,727.7 1028.6,727.6 1029.0,729.0 1029.4,731.3 1029.8,734.8 1030.1,739.5 1030.5,744.2 1030.9,741.3 1031.3,736.2 1031.7,731.8 1032.0,728.2 1032.4,725.8 1032.8,724.6 1033.2,724.9 1033.6,726.7 1033.9,729.9 1034.3,734.2 1034.7,739.5 1035.1,744.8 1035.5,738.1 1035.8,731.4 1036.2,725.6 1036.6,720.6 1037.0,717.3 1037.4,716.1 1037.7,716.6 1038.1,719.7 1038.5,724.7 1038.9,731.4 1039.3,739.7 1039.6,741.7 1040.0,731.4 1040.4,721.9 1040.8,713.4 1041.2,706.7 1041.5,702.9 1041.9,702.5 1042.3,704.9 1042.7,710.1 1043.1,718.1 1043.4,728.3 1043.8,739.6 1044.2,735.6 1044.6,723.5 1045.0,712.9 1045.3,703.9 1045.7,697.4 1046.1,693.9 1046.5,694.0 1046.9,697.9 1047.2,705.3 1047.6,716.1 1048.0,729.4 1048.4,732.5 1048.8,718.2 1049.1,705.2 1049.5,694.4 1049.9,687.5 1050.3,684.8 1050.7,686.4 1051.0,692.2 1051.4,701.5 1051.8,713.7 1052.2,727.9 1052.6,730.0 1052.9,715.2 1053.3,702.4 1053.7,692.1 1054.1,685.5 1054.5,683.0 1054.8,684.4 1055.2,690.2 1055.6,699.5 1056.0,711.7 1056.4,725.5 1056.7,733.8 1057.1,719.2 1057.5,706.1 1057.9,695.4 1058.3,687.8 1058.6,684.4 1059.0,685.0 1059.4,689.6 1059.8,698.2 1060.2,710.0 1060.5,723.6 1060.9,740.0 1061.3,725.6 1061.7,712.7 1062.1,702.4 1062.4,695.3 1062.8,692.2 1063.2,693.5 1063.6,698.6 1064.0,707.3 1064.3,718.9 1064.7,731.7 1065.1,737.8 1065.5,726.0 1065.9,716.4 1066.2,709.1 1066.6,704.9 1067.0,704.0 1067.4,706.2 1067.8,711.0 1068.1,718.2 1068.5,727.4 1068.9,737.5 1069.3,737.5 1069.7,727.9 1070.0,719.5 1070.4,713.1 1070.8,709.2 1071.2,708.0 1071.6,709.9 1071.9,715.0 1072.3,721.8 1072.7,730.4 1073.1,739.5 1073.5,742.0 1073.8,734.5 1074.2,727.8 1074.6,723.1 1075.0,720.4 1075.4,719.2 1075.7,720.5 1076.1,723.4 1076.5,728.2 1076.9,734.5 1077.3,741.3 1077.6,743.6 1078.0,736.6 1078.4,730.3 1078.8,725.6 1079.2,722.7 1079.5,721.4 1079.9,722.3 1080.3,725.1 1080.7,729.6 1081.1,735.1 1081.4,741.1 1081.8,744.2 1082.2,738.2 1082.6,732.7 1083.0,728.5 1083.3,725.7 1083.7,725.1 1084.1,725.5 1084.5,727.8 1084.9,731.5 1085.2,736.2 1085.6,741.6 1086.0,744.8 1086.4,739.5 1086.8,735.1 1087.1,731.6 1087.5,729.1 1087.9,728.2 1088.3,728.7 1088.7,730.5 1089.0,733.7 1089.4,737.5 1089.8,741.9 1090.2,745.2 1090.6,740.8 1090.9,736.8 1091.3,733.6 1091.7,731.8 1092.1,730.6 1092.5,731.0 1092.8,732.4 1093.2,735.0 1093.6,738.3 1094.0,742.0 1094.4,745.9 1094.7,741.7 1095.1,738.1 1095.5,735.3 1095.9,733.3 1096.3,732.5 1096.6,732.8 1097.0,734.0 1097.4,736.3 1097.8,739.2 1098.2,742.5 1098.5,745.9 1098.9,742.7 1099.3,740.0 1099.7,738.2 1100.1,736.9 1100.4,736.4 1100.8,736.6 1101.2,737.7 1101.6,739.2 1102.0,741.3 1102.3,743.8 1102.7,745.6 1103.1,744.2 1103.5,742.7 1103.9,741.3 1104.2,740.7 1104.6,740.6 1105.0,740.7 1105.4,741.2 1105.8,742.1 1106.1,743.4 1106.5,744.7 1106.9,746.1 1107.3,745.3 1107.7,744.4 1108.0,743.5 1108.4,743.1 1108.8,743.1 1109.2,742.9 1109.6,743.5 1109.9,743.9 1110.3,744.5 1110.7,745.2 1111.1,746.0 1111.5,745.5 1111.8,744.5 1112.2,743.9 1112.6,743.2 1113.0,742.7 1113.4,742.3 1113.7,742.5 1114.1,742.7 1114.5,743.4 1114.9,744.4 1115.3,745.7 1115.6,745.3 1116.0,743.6 1116.4,742.2 1116.8,740.6 1117.2,739.5 1117.5,738.8 1117.9,738.4 1118.3,738.9 1118.7,740.2 1119.1,742.3 1119.4,744.7 1119.8,744.0 1120.2,741.1 1120.6,738.3 1121.0,735.7 1121.3,734.0 1121.7,733.3 1122.1,733.4 1122.5,734.7 1122.9,736.9 1123.2,740.2 1123.6,744.0 1124.0,743.9 1124.4,739.6 1124.8,736.0 1125.1,732.9 1125.5,730.9 1125.9,730.1 1126.3,730.6 1126.7,732.2 1127.0,735.0 1127.4,739.1 1127.8,743.2 1128.2,743.6 1128.6,739.3 1128.9,735.0 1129.3,732.0 1129.7,729.9 1130.1,729.1 1130.5,729.7 1130.8,731.6 1131.2,734.5 1131.6,738.3 1132.0,742.7 1132.4,744.1 1132.7,739.9 1133.1,736.0 1133.5,733.3 1133.9,731.2 1134.3,730.5 1134.6,731.4 1135.0,733.1 1135.4,736.0 1135.8,739.3 1136.2,743.0 1136.5,745.0 1136.9,741.2 1137.3,738.3 1137.7,736.0 1138.1,734.7 1138.4,734.1 1138.8,734.6 1139.2,736.0 1139.6,738.1 1140.0,740.8 1140.3,743.6 1140.7,745.5 1141.1,742.7 1141.5,740.3 1141.9,738.8 1142.2,737.6 1142.6,737.2 1143.0,737.5 1143.4,738.3 1143.8,739.9 1144.1,741.7 1144.5,744.2 1144.9,746.0 1145.3,743.7 1145.7,741.8 1146.0,740.3 1146.4,739.3 1146.8,738.7 1147.2,739.0 1147.6,739.9 1147.9,740.9 1148.3,742.6 1148.7,744.6 1149.1,746.2 1149.5,744.2 1149.8,742.9 1150.2,741.6 1150.6,740.7 1151.0,740.3 1151.4,740.5 1151.7,741.1 1152.1,742.1 1152.5,743.1 1152.9,744.5 1153.3,746.0 1153.6,744.7 1154.0,743.2 1154.4,741.9 1154.8,741.0 1155.2,740.4 1155.5,740.0 1155.9,740.4 1156.3,741.2 1156.7,742.6 1157.1,744.1 1157.4,745.8 1157.8,744.4 1158.2,742.8 1158.6,741.0 1159.0,739.6 1159.3,738.6 1159.7,738.3 1160.1,738.7 1160.5,739.9 1160.9,741.5 1161.2,743.4 1161.6,745.5 1162.0,744.1 1162.4,741.8 1162.8,739.6 1163.1,737.8 1163.5,736.5 1163.9,736.3 1164.3,736.5 1164.7,737.7 1165.0,739.5 1165.4,742.0 1165.8,747.2 1166.2,743.5 1166.6,740.5 1166.9,737.6 1167.3,735.4 1167.7,733.9 1168.1,733.2 1168.5,733.5 1168.8,734.9 1169.2,737.5 1169.6,740.5 1170.0,744.2 1170.4,743.6 1170.7,739.8 1171.1,736.2 1171.5,733.2 1171.9,731.3 1172.3,730.7 1172.6,731.1 1173.0,733.0 1173.4,735.8 1173.8,739.6 1174.2,743.9 1174.5,743.4 1174.9,739.2 1175.3,735.3 1175.7,732.1 1176.1,730.1 1176.4,729.2 1176.8,730.0 1177.2,731.9 1177.6,734.6 1178.0,738.7 1178.3,743.2 1178.7,743.6 1179.1,739.3 1179.5,735.5 1179.9,732.3 1180.2,730.3 1180.6,729.6 1181.0,730.3 1181.4,731.9 1181.8,734.8 1182.1,738.6 1182.5,742.7 1182.9,744.2 1183.3,740.3 1183.7,736.8 1184.0,733.9 1184.4,732.0 1184.8,731.5 1185.2,732.1 1185.6,733.7 1185.9,736.3 1186.3,739.4 1186.7,743.1 1187.1,744.9 1187.5,741.4 1187.8,738.4 1188.2,736.3 1188.6,735.0 1189.0,734.5 1189.4,735.1 1189.7,736.1 1190.1,738.1 1190.5,740.5 1190.9,743.5 1191.3,745.4 1191.6,742.8 1192.0,740.7 1192.4,739.1 1192.8,738.2 1193.2,737.8 1193.5,738.0 1193.9,739.1 1194.3,740.7 1194.7,742.2 1195.1,744.1 1195.4,746.2 1195.8,744.4 1196.2,743.2 1196.6,742.0 1197.0,741.6 1197.3,741.2 1197.7,741.5 1198.1,741.8 1198.5,742.6 1198.9,743.6 1199.2,744.7 1199.6,746.2 1200.0,745.2 1200.4,743.9 1200.8,742.7 1201.1,741.9 1201.5,741.6 1201.9,741.4 1202.3,741.9 1202.7,742.7 1203.0,743.4 1203.4,744.6 1203.8,746.0 1204.2,745.0 1204.6,743.6 1204.9,742.6 1205.3,741.7 1205.7,741.0 1206.1,740.8 1206.5,741.3 1206.8,741.9 1207.2,742.9 1207.6,744.3 1208.0,745.8 1208.4,744.7 1208.7,743.6 1209.1,742.1 1209.5,741.1 1209.9,740.6 1210.3,740.2 1210.6,740.6 1211.0,741.1 1211.4,742.5 1211.8,743.9 1212.2,745.4 1212.5,745.0 1212.9,743.1 1213.3,741.7 1213.7,740.4 1214.1,739.5 1214.4,738.9 1214.8,739.1 1215.2,739.8 1215.6,741.1 1216.0,742.9 1216.3,745.0 1216.7,744.9 1217.1,742.7 1217.5,740.6 1217.9,739.3 1218.2,738.2 1218.6,737.7 1219.0,738.0 1219.4,739.1 1219.8,740.6 1220.1,742.6 1220.5,744.6 1220.9,745.2 1221.3,742.7 1221.7,740.6 1222.0,738.8 1222.4,737.6 1222.8,736.9 1223.2,737.0 1223.6,738.2 1223.9,739.7 1224.3,741.6 1224.7,744.2 1225.1,744.9 1225.5,742.2 1225.8,739.5 1226.2,737.6 1226.6,736.0 1227.0,735.3 1227.4,735.3 1227.7,736.1 1228.1,737.8 1228.5,740.3 1228.9,743.1 1229.3,744.9 1229.6,741.5 1230.0,738.4 1230.4,735.4 1230.8,733.4 1231.2,732.5 1231.5,732.3 1231.9,733.8 1232.3,735.6 1232.7,738.8 1233.1,742.2 1233.4,745.3 1233.8,741.3 1234.2,737.7 1234.6,734.4 1235.0,732.1 1235.3,730.9 1235.7,730.7 1236.1,732.1 1236.5,734.4 1236.9,737.9 1237.2,741.8 1237.6,745.9 1238.0,741.3 1238.4,737.3 1238.8,733.8 1239.1,731.2 1239.5,729.9 1239.9,729.6 1240.3,730.8 1240.7,733.3 1241.0,737.0 1241.4,741.0 1241.8,745.5 1242.2,741.5 1242.6,737.8 1242.9,734.3 1243.3,731.9 1243.7,730.7 1244.1,730.4 1244.5,731.5 1244.8,734.0 1245.2,737.0 1245.6,741.0 1246.0,745.1 1246.4,742.5 1246.7,738.7 1247.1,735.6 1247.5,733.1 1247.9,732.0 1248.3,731.8 1248.6,733.0 1249.0,734.7 1249.4,737.8 1249.8,741.0 1250.2,744.6 1250.5,743.3 1250.9,740.1 1251.3,737.7 1251.7,735.7 1252.1,734.9 1252.4,735.1 1252.8,735.9 1253.2,737.5 1253.6,739.6 1254.0,742.1 1254.3,744.9 1254.7,744.5 1255.1,742.0 1255.5,739.7 1255.9,738.3 1256.2,737.6 1256.6,737.4 1257.0,737.9 1257.4,739.0 1257.8,740.6 1258.1,742.8 1258.5,744.8 1258.9,745.1 1259.3,742.8 1259.7,741.2 1260.0,739.7 1260.4,738.8 1260.8,738.7 1261.2,739.0 1261.6,740.0 1261.9,741.3 1262.3,742.9 1262.7,747.7 1263.1,745.3 1263.5,743.4 1263.8,741.7 1264.2,740.6 1264.6,739.6 1265.0,739.2 1265.4,739.4 1265.7,740.1 1266.1,741.5 1266.5,742.8 1266.9,744.8 1267.3,745.7 1267.6,743.8 1268.0,742.3 1268.4,740.8 1268.8,740.0 1269.2,739.6 1269.5,739.6 1269.9,740.5 1270.3,741.6 1270.7,742.8 1271.1,744.4 1271.4,745.9 1271.8,744.2 1272.2,742.5 1272.6,741.3 1273.0,740.2 1273.3,739.9 1273.7,739.9 1274.1,740.6 1274.5,741.7 1274.9,742.8 1275.2,744.6 1275.6,747.5 1276.0,744.5 1276.4,743.2 1276.8,741.9 1277.1,741.2 1277.5,740.6 1277.9,740.6 1278.3,741.1 1278.7,741.9 1279.0,743.2 1279.4,744.3 1279.8,746.1 1280.2,744.7 1280.6,743.5 1280.9,742.2 1281.3,741.3 1281.7,740.6 1282.1,740.6 1282.5,741.0 1282.8,741.8 1283.2,742.7 1283.6,744.2 1284.0,748.3 1284.4,744.9 1284.7,743.5 1285.1,742.1 1285.5,741.2 1285.9,740.8 1286.3,740.5 1286.6,740.8 1287.0,741.3 1287.4,742.5 1287.8,743.9 1288.2,745.6 1288.5,745.1 1288.9,743.4 1289.3,741.9 1289.7,740.5 1290.1,739.6 1290.4,739.1 1290.8,739.3 1291.2,739.9 1291.6,741.2 1292.0,743.0 1292.3,745.2 1292.7,745.1 1293.1,742.8 1293.5,740.4 1293.9,738.8 1294.2,737.6 1294.6,737.0 1295.0,737.2 1295.4,738.2 1295.8,739.7 1296.1,741.8 1296.5,744.4 1296.9,744.9 1297.3,742.1 1297.7,739.8 1298.0,737.9 1298.4,736.2 1298.8,735.8 1299.2,736.1 1299.6,736.8 1299.9,738.8 1300.3,741.0 1300.7,743.7 1301.1,745.6 1301.5,742.7 1301.8,740.0 1302.2,737.9 1302.6,736.5 1303.0,736.0 1303.4,736.4 1303.7,737.0 1304.1,738.9 1304.5,741.1 1304.9,743.9 1305.3,746.0 1305.6,743.3 1306.0,741.0 1306.4,739.2 1306.8,738.1 1307.2,737.7 1307.5,737.9 1307.9,738.6 1308.3,740.1 1308.7,741.9 1309.1,743.9 1309.4,746.2 1309.8,744.3 1310.2,742.5 1310.6,741.2 1311.0,740.7 1311.3,740.2 1311.7,740.7 1312.1,741.2 1312.5,742.1 1312.9,743.3 1313.2,744.9 1313.6,746.0 1314.0,745.2 1314.4,744.5 1314.8,744.0 1315.1,743.7 1315.5,743.5 1315.9,743.9 1316.3,744.2 1316.7,744.4 1317.0,744.9 1317.4,745.5 1317.8,746.1 1318.2,745.7 1318.6,745.0 1318.9,744.0 1319.3,743.1 1319.7,742.5 1320.1,742.0 1320.5,742.1 1320.8,742.5 1321.2,743.2 1321.6,744.0 1322.0,745.6 1322.4,745.4 1322.7,743.7 1323.1,742.3 1323.5,741.3 1323.9,740.5 1324.3,740.2 1324.6,740.2 1325.0,740.9 1325.4,741.7 1325.8,743.4 1326.2,745.1 1326.5,745.3 1326.9,743.6 1327.3,741.7 1327.7,740.6 1328.1,739.6 1328.4,739.0 1328.8,739.4 1329.2,739.9 1329.6,741.2 1330.0,742.9 1330.3,744.5 1330.7,745.8 1331.1,743.7 1331.5,741.6 1331.9,740.2 1332.2,739.3 1332.6,738.6 1333.0,738.7 1333.4,739.5 1333.8,740.6 1334.1,742.3 1334.5,744.4 1334.9,745.8 1335.3,744.0 1335.7,742.0 1336.0,740.5 1336.4,739.3 1336.8,738.8 1337.2,738.9 1337.6,739.8 1337.9,740.8 1338.3,742.4 1338.7,744.1 1339.1,746.3 1339.5,744.3 1339.8,742.5 1340.2,741.1 1340.6,740.1 1341.0,739.7 1341.4,739.6 1341.7,740.2 1342.1,741.1 1342.5,742.4 1342.9,744.3 1343.3,746.1 1343.6,744.8 1344.0,743.3 1344.4,741.9 1344.8,740.8 1345.2,740.2 1345.5,740.3 1345.9,740.9 1346.3,741.5 1346.7,742.8 1347.1,744.2 1347.4,748.2 1347.8,745.1 1348.2,743.7 1348.6,742.4 1349.0,741.5 1349.3,741.0 1349.7,741.0 1350.1,741.1 1350.5,741.7 1350.9,742.8 1351.2,744.2 1351.6,745.5 1352.0,745.4 1352.4,743.9" fill="none" stroke="#00ff00" stroke-width="1" stroke-linejoin="round" clip-path="url(#c3)"/>
</svg>
<div id="sb"><div id="sbin"></div><svg style="position:absolute;left:1424px;top:11px" width="14" height="14" viewBox="0 0 14 14">
<g fill="#b8a89c">
<rect x="11" y="1" width="1" height="1"/>
<rect x="8" y="4" width="1" height="1"/><rect x="11" y="4" width="1" height="1"/>
<rect x="5" y="7" width="1" height="1"/><rect x="8" y="7" width="1" height="1"/><rect x="11" y="7" width="1" height="1"/>
<rect x="2" y="10" width="1" height="1"/><rect x="5" y="10" width="1" height="1"/><rect x="8" y="10" width="1" height="1"/><rect x="11" y="10" width="1" height="1"/>
</g>
<g fill="#ffffff">
<rect x="12" y="2" width="1" height="1"/>
<rect x="9" y="5" width="1" height="1"/><rect x="12" y="5" width="1" height="1"/>
<rect x="6" y="8" width="1" height="1"/><rect x="9" y="8" width="1" height="1"/><rect x="12" y="8" width="1" height="1"/>
<rect x="3" y="11" width="1" height="1"/><rect x="6" y="11" width="1" height="1"/><rect x="9" y="11" width="1" height="1"/><rect x="12" y="11" width="1" height="1"/>
</g>
</svg>
</div>
</body></html>
